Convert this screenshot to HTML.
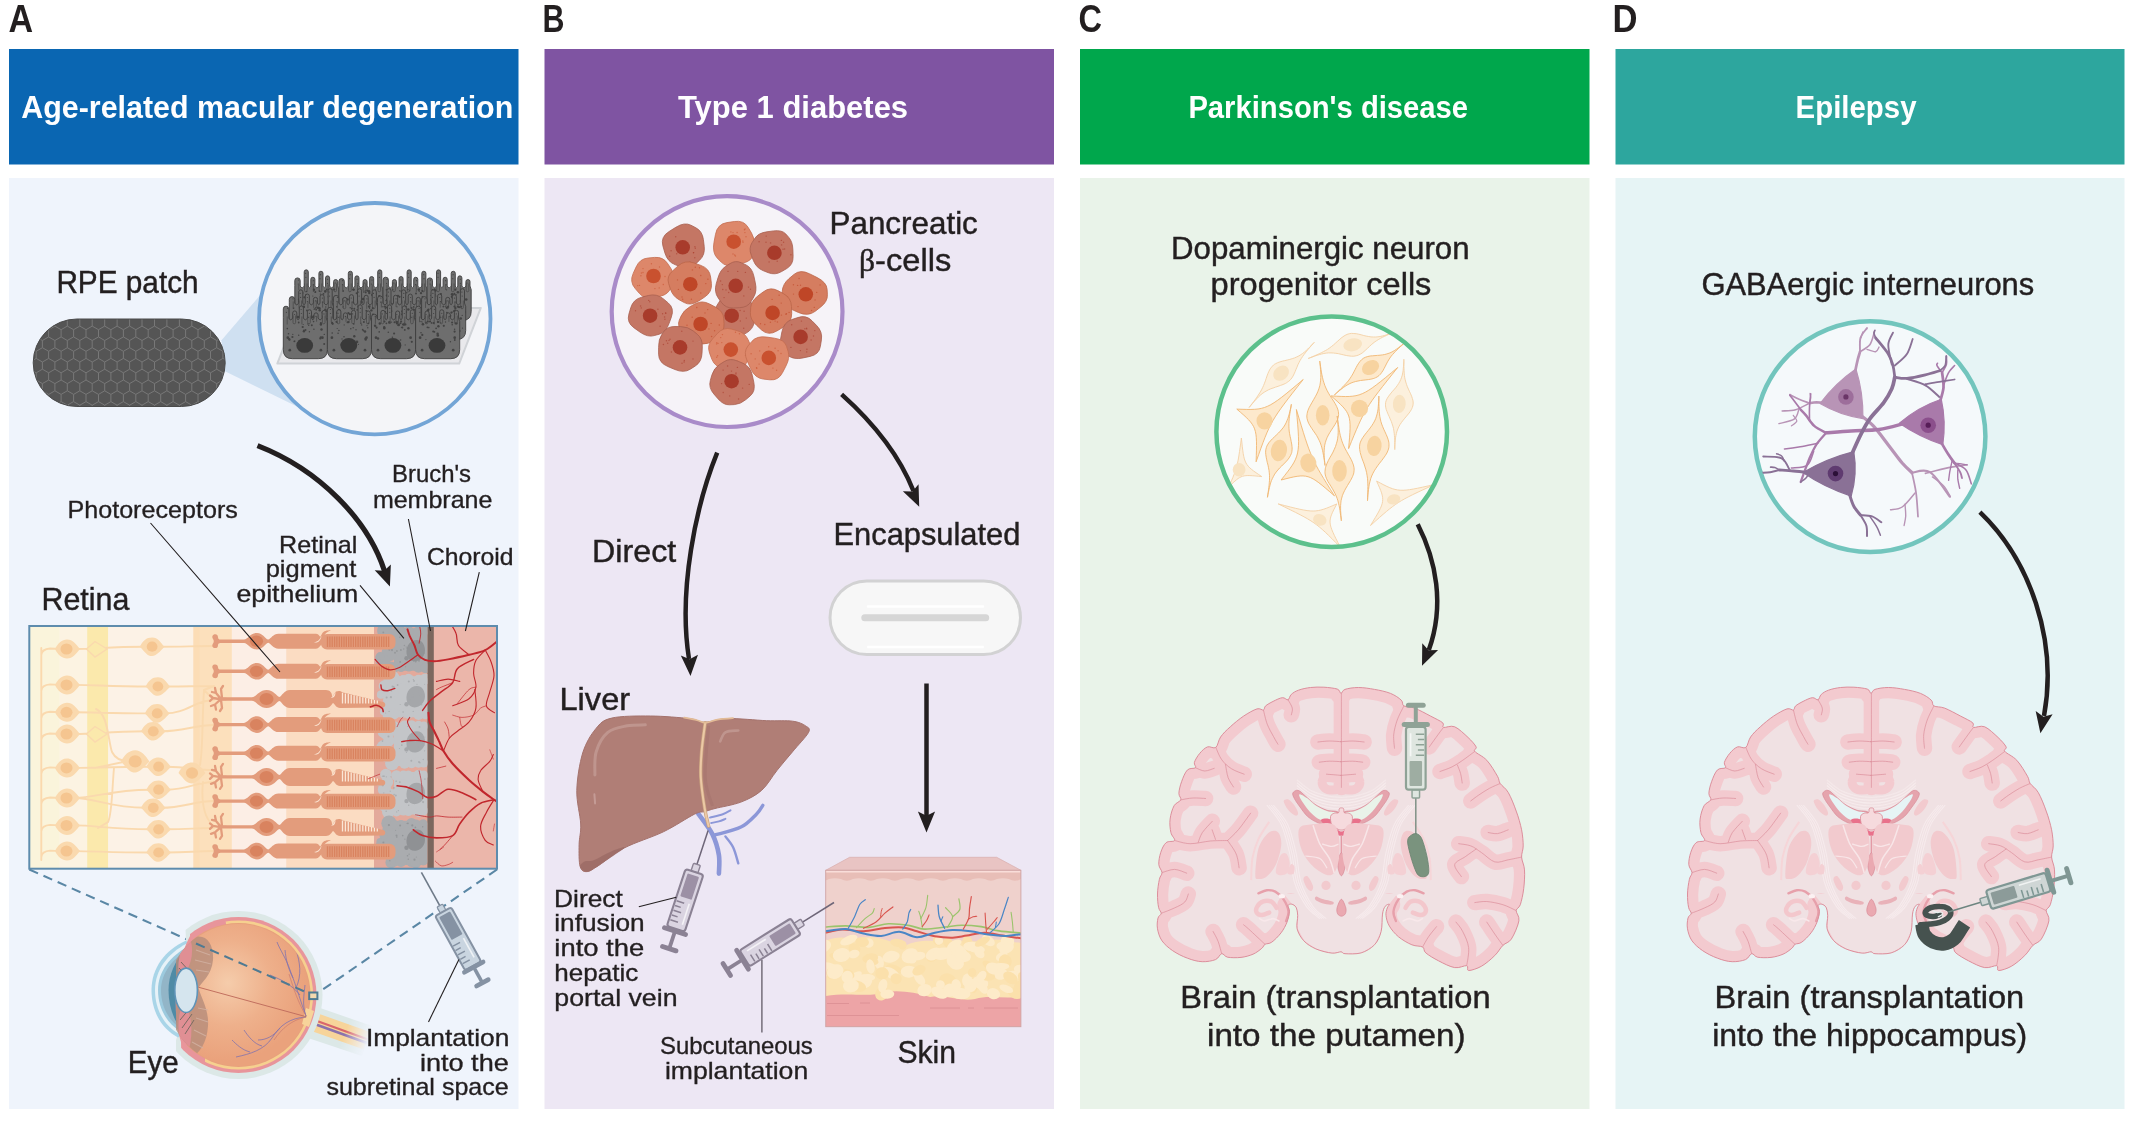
<!DOCTYPE html>
<html><head><meta charset="utf-8"><title>Cell therapy figure</title>
<style>
html,body{margin:0;padding:0;background:#fff;}
body{width:2130px;height:1122px;overflow:hidden;font-family:"Liberation Sans",sans-serif;}
svg{display:block;}
text{font-family:"Liberation Sans",sans-serif;fill:#231f20;}
.b{font-weight:bold;}
.w{fill:#fff;}
</style></head><body>
<svg width="2130" height="1122" viewBox="0 0 2130 1122">
<!-- panel backgrounds -->
<rect x="9" y="49" width="509.5" height="115.5" fill="#0a66b2"/>
<rect x="544.5" y="49" width="509.5" height="115.5" fill="#7f54a2"/>
<rect x="1080" y="49" width="509.5" height="115.5" fill="#00a74c"/>
<rect x="1615.5" y="49" width="509" height="115.5" fill="#2da69e"/>
<rect x="9" y="178" width="509.5" height="931" fill="#eff4fc"/>
<rect x="544.5" y="178" width="509.5" height="931" fill="#ede7f4"/>
<rect x="1080" y="178" width="509.5" height="931" fill="#e9f3e9"/>
<rect x="1615.5" y="178" width="509" height="931" fill="#e6f4f5"/>

<g id="a_top">
<polygon points="221.5,340.3 262,293 300,408 225,371.2" fill="#cfe0f1"/>
<defs><clipPath id="patchclip"><rect x="33.2" y="319" width="192" height="87.5" rx="43.75"/></clipPath></defs>
<rect x="33.2" y="319" width="192" height="87.5" rx="43.75" fill="#555555"/>
<path clip-path="url(#patchclip)" d="M17.5 304.5L11.3 308.1L5.1 304.5L5.1 297.3M30.0 304.5L23.8 308.1L17.5 304.5L17.5 297.3M42.4 304.5L36.2 308.1L30.0 304.5L30.0 297.3M54.9 304.5L48.7 308.1L42.4 304.5L42.4 297.3M67.3 304.5L61.1 308.1L54.9 304.5L54.9 297.3M79.8 304.5L73.6 308.1L67.3 304.5L67.3 297.3M92.2 304.5L86.0 308.1L79.8 304.5L79.8 297.3M104.7 304.5L98.5 308.1L92.2 304.5L92.2 297.3M117.1 304.5L110.9 308.1L104.7 304.5L104.7 297.3M129.6 304.5L123.4 308.1L117.1 304.5L117.1 297.3M142.0 304.5L135.8 308.1L129.6 304.5L129.6 297.3M154.5 304.5L148.2 308.1L142.0 304.5L142.0 297.3M166.9 304.5L160.7 308.1L154.5 304.5L154.5 297.3M179.4 304.5L173.1 308.1L166.9 304.5L166.9 297.3M191.8 304.5L185.6 308.1L179.4 304.5L179.4 297.3M204.3 304.5L198.0 308.1L191.8 304.5L191.8 297.3M216.7 304.5L210.5 308.1L204.3 304.5L204.3 297.3M229.2 304.5L222.9 308.1L216.7 304.5L216.7 297.3M23.8 315.3L17.5 318.9L11.3 315.3L11.3 308.1M36.2 315.3L30.0 318.9L23.8 315.3L23.8 308.1M48.7 315.3L42.4 318.9L36.2 315.3L36.2 308.1M61.1 315.3L54.9 318.9L48.6 315.3L48.6 308.1M73.5 315.3L67.3 318.9L61.1 315.3L61.1 308.1M86.0 315.3L79.8 318.9L73.6 315.3L73.6 308.1M98.5 315.3L92.2 318.9L86.0 315.3L86.0 308.1M110.9 315.3L104.7 318.9L98.5 315.3L98.5 308.1M123.4 315.3L117.1 318.9L110.9 315.3L110.9 308.1M135.8 315.3L129.6 318.9L123.4 315.3L123.4 308.1M148.2 315.3L142.0 318.9L135.8 315.3L135.8 308.1M160.7 315.3L154.5 318.9L148.2 315.3L148.2 308.1M173.1 315.3L166.9 318.9L160.7 315.3L160.7 308.1M185.6 315.3L179.4 318.9L173.1 315.3L173.1 308.1M198.0 315.3L191.8 318.9L185.6 315.3L185.6 308.1M210.5 315.3L204.3 318.9L198.0 315.3L198.0 308.1M222.9 315.3L216.7 318.9L210.5 315.3L210.5 308.1M235.4 315.3L229.2 318.9L222.9 315.3L222.9 308.1M17.5 326.1L11.3 329.7L5.1 326.1L5.1 318.9M30.0 326.1L23.8 329.7L17.5 326.1L17.5 318.9M42.4 326.1L36.2 329.7L30.0 326.1L30.0 318.9M54.9 326.1L48.7 329.7L42.4 326.1L42.4 318.9M67.3 326.1L61.1 329.7L54.9 326.1L54.9 318.9M79.8 326.1L73.6 329.7L67.3 326.1L67.3 318.9M92.2 326.1L86.0 329.7L79.8 326.1L79.8 318.9M104.7 326.1L98.5 329.7L92.2 326.1L92.2 318.9M117.1 326.1L110.9 329.7L104.7 326.1L104.7 318.9M129.6 326.1L123.4 329.7L117.1 326.1L117.1 318.9M142.0 326.1L135.8 329.7L129.6 326.1L129.6 318.9M154.5 326.1L148.2 329.7L142.0 326.1L142.0 318.9M166.9 326.1L160.7 329.7L154.5 326.1L154.5 318.9M179.4 326.1L173.1 329.7L166.9 326.1L166.9 318.9M191.8 326.1L185.6 329.7L179.4 326.1L179.4 318.9M204.3 326.1L198.0 329.7L191.8 326.1L191.8 318.9M216.7 326.1L210.5 329.7L204.3 326.1L204.3 318.9M229.2 326.1L222.9 329.7L216.7 326.1L216.7 318.9M23.8 336.9L17.5 340.5L11.3 336.9L11.3 329.7M36.2 336.9L30.0 340.5L23.8 336.9L23.8 329.7M48.7 336.9L42.4 340.5L36.2 336.9L36.2 329.7M61.1 336.9L54.9 340.5L48.6 336.9L48.6 329.7M73.5 336.9L67.3 340.5L61.1 336.9L61.1 329.7M86.0 336.9L79.8 340.5L73.6 336.9L73.6 329.7M98.5 336.9L92.2 340.5L86.0 336.9L86.0 329.7M110.9 336.9L104.7 340.5L98.5 336.9L98.5 329.7M123.4 336.9L117.1 340.5L110.9 336.9L110.9 329.7M135.8 336.9L129.6 340.5L123.4 336.9L123.4 329.7M148.2 336.9L142.0 340.5L135.8 336.9L135.8 329.7M160.7 336.9L154.5 340.5L148.2 336.9L148.2 329.7M173.1 336.9L166.9 340.5L160.7 336.9L160.7 329.7M185.6 336.9L179.4 340.5L173.1 336.9L173.1 329.7M198.0 336.9L191.8 340.5L185.6 336.9L185.6 329.7M210.5 336.9L204.3 340.5L198.0 336.9L198.0 329.7M222.9 336.9L216.7 340.5L210.5 336.9L210.5 329.7M235.4 336.9L229.2 340.5L222.9 336.9L222.9 329.7M17.5 347.7L11.3 351.3L5.1 347.7L5.1 340.5M30.0 347.7L23.8 351.3L17.5 347.7L17.5 340.5M42.4 347.7L36.2 351.3L30.0 347.7L30.0 340.5M54.9 347.7L48.7 351.3L42.4 347.7L42.4 340.5M67.3 347.7L61.1 351.3L54.9 347.7L54.9 340.5M79.8 347.7L73.6 351.3L67.3 347.7L67.3 340.5M92.2 347.7L86.0 351.3L79.8 347.7L79.8 340.5M104.7 347.7L98.5 351.3L92.2 347.7L92.2 340.5M117.1 347.7L110.9 351.3L104.7 347.7L104.7 340.5M129.6 347.7L123.4 351.3L117.1 347.7L117.1 340.5M142.0 347.7L135.8 351.3L129.6 347.7L129.6 340.5M154.5 347.7L148.2 351.3L142.0 347.7L142.0 340.5M166.9 347.7L160.7 351.3L154.5 347.7L154.5 340.5M179.4 347.7L173.1 351.3L166.9 347.7L166.9 340.5M191.8 347.7L185.6 351.3L179.4 347.7L179.4 340.5M204.3 347.7L198.0 351.3L191.8 347.7L191.8 340.5M216.7 347.7L210.5 351.3L204.3 347.7L204.3 340.5M229.2 347.7L222.9 351.3L216.7 347.7L216.7 340.5M23.8 358.4L17.5 362.0L11.3 358.4L11.3 351.3M36.2 358.4L30.0 362.0L23.8 358.4L23.8 351.3M48.7 358.4L42.4 362.0L36.2 358.4L36.2 351.3M61.1 358.4L54.9 362.0L48.6 358.4L48.6 351.3M73.5 358.4L67.3 362.0L61.1 358.4L61.1 351.3M86.0 358.4L79.8 362.0L73.6 358.4L73.6 351.3M98.5 358.4L92.2 362.0L86.0 358.4L86.0 351.3M110.9 358.4L104.7 362.0L98.5 358.4L98.5 351.3M123.4 358.4L117.1 362.0L110.9 358.4L110.9 351.3M135.8 358.4L129.6 362.0L123.4 358.4L123.4 351.3M148.2 358.4L142.0 362.0L135.8 358.4L135.8 351.3M160.7 358.4L154.5 362.0L148.2 358.4L148.2 351.3M173.1 358.4L166.9 362.0L160.7 358.4L160.7 351.3M185.6 358.4L179.4 362.0L173.1 358.4L173.1 351.3M198.0 358.4L191.8 362.0L185.6 358.4L185.6 351.3M210.5 358.4L204.3 362.0L198.0 358.4L198.0 351.3M222.9 358.4L216.7 362.0L210.5 358.4L210.5 351.3M235.4 358.4L229.2 362.0L222.9 358.4L222.9 351.3M17.5 369.2L11.3 372.8L5.1 369.2L5.1 362.0M30.0 369.2L23.8 372.8L17.5 369.2L17.5 362.0M42.4 369.2L36.2 372.8L30.0 369.2L30.0 362.0M54.9 369.2L48.7 372.8L42.4 369.2L42.4 362.0M67.3 369.2L61.1 372.8L54.9 369.2L54.9 362.0M79.8 369.2L73.6 372.8L67.3 369.2L67.3 362.0M92.2 369.2L86.0 372.8L79.8 369.2L79.8 362.0M104.7 369.2L98.5 372.8L92.2 369.2L92.2 362.0M117.1 369.2L110.9 372.8L104.7 369.2L104.7 362.0M129.6 369.2L123.4 372.8L117.1 369.2L117.1 362.0M142.0 369.2L135.8 372.8L129.6 369.2L129.6 362.0M154.5 369.2L148.2 372.8L142.0 369.2L142.0 362.0M166.9 369.2L160.7 372.8L154.5 369.2L154.5 362.0M179.4 369.2L173.1 372.8L166.9 369.2L166.9 362.0M191.8 369.2L185.6 372.8L179.4 369.2L179.4 362.0M204.3 369.2L198.0 372.8L191.8 369.2L191.8 362.0M216.7 369.2L210.5 372.8L204.3 369.2L204.3 362.0M229.2 369.2L222.9 372.8L216.7 369.2L216.7 362.0M23.8 380.0L17.5 383.6L11.3 380.0L11.3 372.8M36.2 380.0L30.0 383.6L23.8 380.0L23.8 372.8M48.7 380.0L42.4 383.6L36.2 380.0L36.2 372.8M61.1 380.0L54.9 383.6L48.6 380.0L48.6 372.8M73.5 380.0L67.3 383.6L61.1 380.0L61.1 372.8M86.0 380.0L79.8 383.6L73.6 380.0L73.6 372.8M98.5 380.0L92.2 383.6L86.0 380.0L86.0 372.8M110.9 380.0L104.7 383.6L98.5 380.0L98.5 372.8M123.4 380.0L117.1 383.6L110.9 380.0L110.9 372.8M135.8 380.0L129.6 383.6L123.4 380.0L123.4 372.8M148.2 380.0L142.0 383.6L135.8 380.0L135.8 372.8M160.7 380.0L154.5 383.6L148.2 380.0L148.2 372.8M173.1 380.0L166.9 383.6L160.7 380.0L160.7 372.8M185.6 380.0L179.4 383.6L173.1 380.0L173.1 372.8M198.0 380.0L191.8 383.6L185.6 380.0L185.6 372.8M210.5 380.0L204.3 383.6L198.0 380.0L198.0 372.8M222.9 380.0L216.7 383.6L210.5 380.0L210.5 372.8M235.4 380.0L229.2 383.6L222.9 380.0L222.9 372.8M17.5 390.8L11.3 394.4L5.1 390.8L5.1 383.6M30.0 390.8L23.8 394.4L17.5 390.8L17.5 383.6M42.4 390.8L36.2 394.4L30.0 390.8L30.0 383.6M54.9 390.8L48.7 394.4L42.4 390.8L42.4 383.6M67.3 390.8L61.1 394.4L54.9 390.8L54.9 383.6M79.8 390.8L73.6 394.4L67.3 390.8L67.3 383.6M92.2 390.8L86.0 394.4L79.8 390.8L79.8 383.6M104.7 390.8L98.5 394.4L92.2 390.8L92.2 383.6M117.1 390.8L110.9 394.4L104.7 390.8L104.7 383.6M129.6 390.8L123.4 394.4L117.1 390.8L117.1 383.6M142.0 390.8L135.8 394.4L129.6 390.8L129.6 383.6M154.5 390.8L148.2 394.4L142.0 390.8L142.0 383.6M166.9 390.8L160.7 394.4L154.5 390.8L154.5 383.6M179.4 390.8L173.1 394.4L166.9 390.8L166.9 383.6M191.8 390.8L185.6 394.4L179.4 390.8L179.4 383.6M204.3 390.8L198.0 394.4L191.8 390.8L191.8 383.6M216.7 390.8L210.5 394.4L204.3 390.8L204.3 383.6M229.2 390.8L222.9 394.4L216.7 390.8L216.7 383.6M23.8 401.6L17.5 405.2L11.3 401.6L11.3 394.4M36.2 401.6L30.0 405.2L23.8 401.6L23.8 394.4M48.7 401.6L42.4 405.2L36.2 401.6L36.2 394.4M61.1 401.6L54.9 405.2L48.6 401.6L48.6 394.4M73.5 401.6L67.3 405.2L61.1 401.6L61.1 394.4M86.0 401.6L79.8 405.2L73.6 401.6L73.6 394.4M98.5 401.6L92.2 405.2L86.0 401.6L86.0 394.4M110.9 401.6L104.7 405.2L98.5 401.6L98.5 394.4M123.4 401.6L117.1 405.2L110.9 401.6L110.9 394.4M135.8 401.6L129.6 405.2L123.4 401.6L123.4 394.4M148.2 401.6L142.0 405.2L135.8 401.6L135.8 394.4M160.7 401.6L154.5 405.2L148.2 401.6L148.2 394.4M173.1 401.6L166.9 405.2L160.7 401.6L160.7 394.4M185.6 401.6L179.4 405.2L173.1 401.6L173.1 394.4M198.0 401.6L191.8 405.2L185.6 401.6L185.6 394.4M210.5 401.6L204.3 405.2L198.0 401.6L198.0 394.4M222.9 401.6L216.7 405.2L210.5 401.6L210.5 394.4M235.4 401.6L229.2 405.2L222.9 401.6L222.9 394.4M17.5 412.4L11.3 415.9L5.1 412.4L5.1 405.2M30.0 412.4L23.8 415.9L17.5 412.4L17.5 405.2M42.4 412.4L36.2 415.9L30.0 412.4L30.0 405.2M54.9 412.4L48.7 415.9L42.4 412.4L42.4 405.2M67.3 412.4L61.1 415.9L54.9 412.4L54.9 405.2M79.8 412.4L73.6 415.9L67.3 412.4L67.3 405.2M92.2 412.4L86.0 415.9L79.8 412.4L79.8 405.2M104.7 412.4L98.5 415.9L92.2 412.4L92.2 405.2M117.1 412.4L110.9 415.9L104.7 412.4L104.7 405.2M129.6 412.4L123.4 415.9L117.1 412.4L117.1 405.2M142.0 412.4L135.8 415.9L129.6 412.4L129.6 405.2M154.5 412.4L148.2 415.9L142.0 412.4L142.0 405.2M166.9 412.4L160.7 415.9L154.5 412.4L154.5 405.2M179.4 412.4L173.1 415.9L166.9 412.4L166.9 405.2M191.8 412.4L185.6 415.9L179.4 412.4L179.4 405.2M204.3 412.4L198.0 415.9L191.8 412.4L191.8 405.2M216.7 412.4L210.5 415.9L204.3 412.4L204.3 405.2M229.2 412.4L222.9 415.9L216.7 412.4L216.7 405.2M23.8 423.1L17.5 426.7L11.3 423.1L11.3 415.9M36.2 423.1L30.0 426.7L23.8 423.1L23.8 415.9M48.7 423.1L42.4 426.7L36.2 423.1L36.2 415.9M61.1 423.1L54.9 426.7L48.6 423.1L48.6 415.9M73.5 423.1L67.3 426.7L61.1 423.1L61.1 415.9M86.0 423.1L79.8 426.7L73.6 423.1L73.6 415.9M98.5 423.1L92.2 426.7L86.0 423.1L86.0 415.9M110.9 423.1L104.7 426.7L98.5 423.1L98.5 415.9M123.4 423.1L117.1 426.7L110.9 423.1L110.9 415.9M135.8 423.1L129.6 426.7L123.4 423.1L123.4 415.9M148.2 423.1L142.0 426.7L135.8 423.1L135.8 415.9M160.7 423.1L154.5 426.7L148.2 423.1L148.2 415.9M173.1 423.1L166.9 426.7L160.7 423.1L160.7 415.9M185.6 423.1L179.4 426.7L173.1 423.1L173.1 415.9M198.0 423.1L191.8 426.7L185.6 423.1L185.6 415.9M210.5 423.1L204.3 426.7L198.0 423.1L198.0 415.9M222.9 423.1L216.7 426.7L210.5 423.1L210.5 415.9M235.4 423.1L229.2 426.7L222.9 423.1L222.9 415.9" fill="none" stroke="#787878" stroke-width="1.0"/>
<rect x="33.2" y="319" width="192" height="87.5" rx="43.75" fill="none" stroke="#4a4a4a" stroke-width="1"/>
<circle cx="374.8" cy="318.7" r="115.7" fill="#f4f5f8" stroke="#73a5d6" stroke-width="3.8"/>
<polygon points="277.3,363.6 459.2,363.6 480.8,307.9 299,307.9" fill="#e9e9ec" stroke="#d0d3d7" stroke-width="2" stroke-linejoin="round"/>
<path d="M294.8 311.5L294.8 285.5L294.8 280.6A2.6 2.6 0 0 1 300.2 280.6L300.2 286.0Q302.2 289.7 304.2 286.0L304.2 271.9A2.0 2.0 0 0 1 308.3 271.9L308.3 286.0Q309.6 289.7 310.8 286.0L310.8 279.3A2.0 2.0 0 0 1 314.9 279.3L314.9 286.0Q316.9 289.7 318.9 286.0L318.9 273.3A2.0 2.0 0 0 1 323.0 273.3L323.0 286.0Q324.2 289.7 325.5 286.0L325.5 277.9A2.0 2.0 0 0 1 329.6 277.9L329.6 286.0Q331.6 289.7 333.6 286.0L333.6 281.6A2.0 2.0 0 0 1 337.7 281.6L337.7 286.0Q338.5 288.5 338.9 289.5L338.9 311.5Q338.9 320.5 329.9 320.5L303.8 320.5Q294.8 320.5 294.8 311.5Z" fill="#6e6e6e" stroke="#3e3e3e" stroke-width="0.9" stroke-linejoin="round"/><path d="M298.7 284.5v5.4M304.5 283.5v7.0a1.3 1.3 0 0 0 2.6 0v-7.0M313.4 284.5v7.5M319.2 283.5v7.0a1.3 1.3 0 0 0 2.6 0v-7.0M328.1 284.5v7.3M333.9 283.5v7.0a1.3 1.3 0 0 0 2.6 0v-7.0" stroke="#454545" stroke-width="0.7" fill="none"/><circle cx="307.5" cy="296.2" r="0.9" fill="#424242"/><circle cx="322.6" cy="303.5" r="0.6" fill="#424242"/><circle cx="298.9" cy="304.9" r="0.9" fill="#424242"/><circle cx="326.8" cy="289.5" r="0.9" fill="#424242"/><circle cx="325.3" cy="291.4" r="1.3" fill="#424242"/><circle cx="332.1" cy="289.6" r="0.6" fill="#424242"/><circle cx="318.4" cy="308.0" r="0.8" fill="#424242"/><circle cx="306.1" cy="294.6" r="0.6" fill="#424242"/><circle cx="306.2" cy="295.0" r="0.9" fill="#424242"/><circle cx="306.7" cy="291.5" r="0.7" fill="#424242"/><circle cx="315.3" cy="292.3" r="0.6" fill="#424242"/><circle cx="329.7" cy="297.5" r="1.0" fill="#424242"/><circle cx="304.9" cy="309.7" r="1.2" fill="#424242"/><circle cx="302.4" cy="293.0" r="1.1" fill="#424242"/><circle cx="324.9" cy="307.9" r="0.9" fill="#424242"/><circle cx="329.4" cy="300.3" r="0.8" fill="#424242"/><circle cx="320.2" cy="306.3" r="1.2" fill="#424242"/><circle cx="317.1" cy="298.3" r="0.6" fill="#424242"/><circle cx="307.0" cy="303.7" r="0.9" fill="#424242"/><circle cx="304.4" cy="297.3" r="1.1" fill="#424242"/><circle cx="323.5" cy="293.8" r="0.9" fill="#424242"/><circle cx="317.2" cy="303.2" r="0.9" fill="#424242"/><circle cx="312.8" cy="296.0" r="0.6" fill="#424242"/><circle cx="299.5" cy="301.2" r="1.3" fill="#424242"/><circle cx="320.4" cy="294.1" r="0.7" fill="#424242"/><circle cx="316.9" cy="309.4" r="1.1" fill="#424242"/><circle cx="318.4" cy="305.6" r="0.7" fill="#424242"/><circle cx="317.4" cy="308.4" r="1.0" fill="#424242"/><circle cx="315.3" cy="292.0" r="1.0" fill="#424242"/><circle cx="334.3" cy="289.5" r="1.1" fill="#424242"/><circle cx="329.1" cy="306.4" r="1.1" fill="#424242"/><circle cx="328.6" cy="296.7" r="1.0" fill="#424242"/><circle cx="314.0" cy="289.7" r="1.2" fill="#424242"/><circle cx="319.5" cy="291.1" r="0.9" fill="#424242"/><circle cx="298.5" cy="280.0" r="0.6" fill="#424242"/><circle cx="298.3" cy="284.0" r="0.6" fill="#424242"/><circle cx="305.6" cy="273.3" r="0.6" fill="#424242"/><circle cx="305.9" cy="277.3" r="0.6" fill="#424242"/><circle cx="313.3" cy="280.7" r="0.6" fill="#424242"/><circle cx="313.3" cy="284.7" r="0.6" fill="#424242"/><circle cx="320.5" cy="274.7" r="0.6" fill="#424242"/><circle cx="320.0" cy="278.7" r="0.6" fill="#424242"/><circle cx="327.6" cy="279.3" r="0.6" fill="#424242"/><circle cx="327.5" cy="283.3" r="0.6" fill="#424242"/><circle cx="335.3" cy="283.0" r="0.6" fill="#424242"/><circle cx="301.3" cy="312.0" r="1.35" fill="#424242"/><circle cx="332.4" cy="312.0" r="1.35" fill="#424242"/><circle cx="299.3" cy="299.5" r="1.35" fill="#424242"/><circle cx="333.9" cy="299.5" r="1.35" fill="#424242"/>
<path d="M338.9 311.5L338.9 285.5L338.9 281.3A2.6 2.6 0 0 1 344.3 281.3L344.3 286.0Q346.3 289.7 348.3 286.0L348.3 273.3A2.0 2.0 0 0 1 352.4 273.3L352.4 286.0Q353.7 289.7 354.9 286.0L354.9 277.9A2.0 2.0 0 0 1 359.0 277.9L359.0 286.0Q361.0 289.7 363.0 286.0L363.0 281.6A2.0 2.0 0 0 1 367.1 281.6L367.1 286.0Q368.4 289.7 369.6 286.0L369.6 278.6A2.0 2.0 0 0 1 373.7 278.6L373.7 286.0Q375.7 289.7 377.7 286.0L377.7 271.9A2.0 2.0 0 0 1 381.8 271.9L381.8 286.0Q382.6 288.5 383.0 289.5L383.0 311.5Q383.0 320.5 374.0 320.5L347.9 320.5Q338.9 320.5 338.9 311.5Z" fill="#6e6e6e" stroke="#3e3e3e" stroke-width="0.9" stroke-linejoin="round"/><path d="M342.8 284.5v5.7M348.6 283.5v7.0a1.3 1.3 0 0 0 2.6 0v-7.0M357.5 284.5v6.6M363.3 283.5v7.0a1.3 1.3 0 0 0 2.6 0v-7.0M372.2 284.5v6.1M378.0 283.5v7.0a1.3 1.3 0 0 0 2.6 0v-7.0" stroke="#454545" stroke-width="0.7" fill="none"/><circle cx="364.9" cy="299.2" r="0.6" fill="#424242"/><circle cx="342.4" cy="304.9" r="0.7" fill="#424242"/><circle cx="350.8" cy="309.8" r="0.9" fill="#424242"/><circle cx="373.8" cy="295.7" r="1.0" fill="#424242"/><circle cx="347.6" cy="299.4" r="1.2" fill="#424242"/><circle cx="361.8" cy="302.2" r="1.1" fill="#424242"/><circle cx="344.3" cy="302.6" r="1.0" fill="#424242"/><circle cx="353.4" cy="289.6" r="1.2" fill="#424242"/><circle cx="359.9" cy="301.6" r="1.2" fill="#424242"/><circle cx="369.1" cy="307.4" r="0.8" fill="#424242"/><circle cx="372.4" cy="295.1" r="1.3" fill="#424242"/><circle cx="375.4" cy="290.0" r="0.7" fill="#424242"/><circle cx="350.2" cy="308.8" r="0.9" fill="#424242"/><circle cx="365.8" cy="292.5" r="0.9" fill="#424242"/><circle cx="356.6" cy="293.3" r="1.0" fill="#424242"/><circle cx="364.2" cy="306.9" r="1.1" fill="#424242"/><circle cx="377.3" cy="305.5" r="1.3" fill="#424242"/><circle cx="367.5" cy="290.6" r="1.2" fill="#424242"/><circle cx="378.7" cy="306.9" r="1.0" fill="#424242"/><circle cx="369.1" cy="291.2" r="1.2" fill="#424242"/><circle cx="363.8" cy="292.2" r="0.6" fill="#424242"/><circle cx="374.4" cy="309.6" r="0.6" fill="#424242"/><circle cx="372.4" cy="294.4" r="0.7" fill="#424242"/><circle cx="353.1" cy="302.9" r="1.2" fill="#424242"/><circle cx="343.6" cy="298.9" r="0.6" fill="#424242"/><circle cx="369.3" cy="293.0" r="1.2" fill="#424242"/><circle cx="379.3" cy="296.4" r="1.3" fill="#424242"/><circle cx="353.7" cy="289.8" r="1.0" fill="#424242"/><circle cx="343.1" cy="291.0" r="0.9" fill="#424242"/><circle cx="365.2" cy="290.5" r="0.6" fill="#424242"/><circle cx="375.0" cy="292.7" r="1.3" fill="#424242"/><circle cx="376.1" cy="293.8" r="0.9" fill="#424242"/><circle cx="361.7" cy="299.6" r="1.0" fill="#424242"/><circle cx="363.2" cy="299.0" r="1.3" fill="#424242"/><circle cx="342.6" cy="280.7" r="0.6" fill="#424242"/><circle cx="342.5" cy="284.7" r="0.6" fill="#424242"/><circle cx="350.2" cy="274.7" r="0.6" fill="#424242"/><circle cx="349.6" cy="278.7" r="0.6" fill="#424242"/><circle cx="357.0" cy="279.3" r="0.6" fill="#424242"/><circle cx="357.8" cy="283.3" r="0.6" fill="#424242"/><circle cx="364.7" cy="283.0" r="0.6" fill="#424242"/><circle cx="372.0" cy="280.0" r="0.6" fill="#424242"/><circle cx="371.4" cy="284.0" r="0.6" fill="#424242"/><circle cx="379.2" cy="273.3" r="0.6" fill="#424242"/><circle cx="379.4" cy="277.3" r="0.6" fill="#424242"/><circle cx="345.4" cy="312.0" r="1.35" fill="#424242"/><circle cx="376.5" cy="312.0" r="1.35" fill="#424242"/><circle cx="343.4" cy="299.5" r="1.35" fill="#424242"/><circle cx="378.0" cy="299.5" r="1.35" fill="#424242"/>
<path d="M383.0 311.5L383.0 285.5L383.0 279.9A2.6 2.6 0 0 1 388.4 279.9L388.4 286.0Q390.4 289.7 392.4 286.0L392.4 281.6A2.0 2.0 0 0 1 396.5 281.6L396.5 286.0Q397.8 289.7 399.0 286.0L399.0 278.6A2.0 2.0 0 0 1 403.1 278.6L403.1 286.0Q405.1 289.7 407.1 286.0L407.1 271.9A2.0 2.0 0 0 1 411.2 271.9L411.2 286.0Q412.5 289.7 413.7 286.0L413.7 279.3A2.0 2.0 0 0 1 417.8 279.3L417.8 286.0Q419.8 289.7 421.8 286.0L421.8 273.3A2.0 2.0 0 0 1 425.9 273.3L425.9 286.0Q426.7 288.5 427.1 289.5L427.1 311.5Q427.1 320.5 418.1 320.5L392.0 320.5Q383.0 320.5 383.0 311.5Z" fill="#6e6e6e" stroke="#3e3e3e" stroke-width="0.9" stroke-linejoin="round"/><path d="M386.9 284.5v6.9M392.7 283.5v7.0a1.3 1.3 0 0 0 2.6 0v-7.0M401.6 284.5v7.2M407.4 283.5v7.0a1.3 1.3 0 0 0 2.6 0v-7.0M416.3 284.5v7.4M422.1 283.5v7.0a1.3 1.3 0 0 0 2.6 0v-7.0" stroke="#454545" stroke-width="0.7" fill="none"/><circle cx="421.9" cy="302.1" r="1.2" fill="#424242"/><circle cx="387.1" cy="295.5" r="1.3" fill="#424242"/><circle cx="410.7" cy="306.8" r="0.6" fill="#424242"/><circle cx="403.9" cy="291.7" r="1.0" fill="#424242"/><circle cx="407.9" cy="289.5" r="0.7" fill="#424242"/><circle cx="396.6" cy="307.3" r="1.1" fill="#424242"/><circle cx="392.1" cy="303.7" r="0.7" fill="#424242"/><circle cx="409.5" cy="290.3" r="0.6" fill="#424242"/><circle cx="419.2" cy="291.2" r="0.7" fill="#424242"/><circle cx="423.4" cy="305.9" r="0.8" fill="#424242"/><circle cx="422.6" cy="297.1" r="1.1" fill="#424242"/><circle cx="393.8" cy="308.1" r="1.1" fill="#424242"/><circle cx="422.8" cy="306.6" r="0.8" fill="#424242"/><circle cx="399.8" cy="290.7" r="0.7" fill="#424242"/><circle cx="388.5" cy="292.5" r="1.0" fill="#424242"/><circle cx="386.1" cy="300.5" r="0.8" fill="#424242"/><circle cx="397.8" cy="304.4" r="0.9" fill="#424242"/><circle cx="398.0" cy="295.8" r="1.1" fill="#424242"/><circle cx="388.2" cy="309.2" r="0.6" fill="#424242"/><circle cx="414.6" cy="305.1" r="0.6" fill="#424242"/><circle cx="416.0" cy="293.6" r="1.0" fill="#424242"/><circle cx="386.3" cy="289.7" r="0.7" fill="#424242"/><circle cx="422.4" cy="291.0" r="1.1" fill="#424242"/><circle cx="421.4" cy="308.1" r="0.8" fill="#424242"/><circle cx="399.5" cy="296.8" r="1.1" fill="#424242"/><circle cx="390.1" cy="302.4" r="1.1" fill="#424242"/><circle cx="418.8" cy="289.6" r="1.3" fill="#424242"/><circle cx="389.5" cy="293.2" r="1.0" fill="#424242"/><circle cx="421.0" cy="293.1" r="1.2" fill="#424242"/><circle cx="406.8" cy="292.7" r="0.8" fill="#424242"/><circle cx="392.8" cy="289.8" r="0.7" fill="#424242"/><circle cx="412.3" cy="309.9" r="0.7" fill="#424242"/><circle cx="387.8" cy="309.5" r="1.0" fill="#424242"/><circle cx="401.5" cy="291.5" r="1.0" fill="#424242"/><circle cx="387.1" cy="279.3" r="0.6" fill="#424242"/><circle cx="386.6" cy="283.3" r="0.6" fill="#424242"/><circle cx="393.9" cy="283.0" r="0.6" fill="#424242"/><circle cx="400.8" cy="280.0" r="0.6" fill="#424242"/><circle cx="401.9" cy="284.0" r="0.6" fill="#424242"/><circle cx="408.2" cy="273.3" r="0.6" fill="#424242"/><circle cx="408.7" cy="277.3" r="0.6" fill="#424242"/><circle cx="416.5" cy="280.7" r="0.6" fill="#424242"/><circle cx="415.6" cy="284.7" r="0.6" fill="#424242"/><circle cx="423.7" cy="274.7" r="0.6" fill="#424242"/><circle cx="424.0" cy="278.7" r="0.6" fill="#424242"/><circle cx="389.5" cy="312.0" r="1.35" fill="#424242"/><circle cx="420.6" cy="312.0" r="1.35" fill="#424242"/><circle cx="387.5" cy="299.5" r="1.35" fill="#424242"/><circle cx="422.1" cy="299.5" r="1.35" fill="#424242"/>
<path d="M427.1 311.5L427.1 285.5L427.1 280.6A2.6 2.6 0 0 1 432.5 280.6L432.5 286.0Q434.5 289.7 436.5 286.0L436.5 271.9A2.0 2.0 0 0 1 440.6 271.9L440.6 286.0Q441.9 289.7 443.1 286.0L443.1 279.3A2.0 2.0 0 0 1 447.2 279.3L447.2 286.0Q449.2 289.7 451.2 286.0L451.2 273.3A2.0 2.0 0 0 1 455.3 273.3L455.3 286.0Q456.6 289.7 457.8 286.0L457.8 277.9A2.0 2.0 0 0 1 461.9 277.9L461.9 286.0Q463.9 289.7 465.9 286.0L465.9 281.6A2.0 2.0 0 0 1 470.0 281.6L470.0 286.0Q470.8 288.5 471.2 289.5L471.2 311.5Q471.2 320.5 462.2 320.5L436.1 320.5Q427.1 320.5 427.1 311.5Z" fill="#6e6e6e" stroke="#3e3e3e" stroke-width="0.9" stroke-linejoin="round"/><path d="M431.0 284.5v6.0M436.8 283.5v7.0a1.3 1.3 0 0 0 2.6 0v-7.0M445.7 284.5v5.5M451.5 283.5v7.0a1.3 1.3 0 0 0 2.6 0v-7.0M460.4 284.5v7.0M466.2 283.5v7.0a1.3 1.3 0 0 0 2.6 0v-7.0" stroke="#454545" stroke-width="0.7" fill="none"/><circle cx="432.9" cy="297.0" r="0.8" fill="#424242"/><circle cx="432.3" cy="296.4" r="0.6" fill="#424242"/><circle cx="446.6" cy="289.8" r="0.6" fill="#424242"/><circle cx="446.3" cy="304.6" r="0.6" fill="#424242"/><circle cx="438.6" cy="299.2" r="1.3" fill="#424242"/><circle cx="452.1" cy="294.2" r="1.3" fill="#424242"/><circle cx="431.9" cy="305.5" r="0.8" fill="#424242"/><circle cx="435.6" cy="290.2" r="0.8" fill="#424242"/><circle cx="461.2" cy="290.8" r="1.0" fill="#424242"/><circle cx="454.4" cy="293.7" r="1.0" fill="#424242"/><circle cx="432.5" cy="289.7" r="0.7" fill="#424242"/><circle cx="456.0" cy="294.8" r="0.8" fill="#424242"/><circle cx="452.4" cy="295.3" r="0.8" fill="#424242"/><circle cx="460.4" cy="301.0" r="0.7" fill="#424242"/><circle cx="452.0" cy="296.8" r="1.2" fill="#424242"/><circle cx="457.9" cy="292.3" r="1.3" fill="#424242"/><circle cx="434.6" cy="294.6" r="1.1" fill="#424242"/><circle cx="435.9" cy="296.0" r="0.6" fill="#424242"/><circle cx="455.6" cy="302.8" r="1.0" fill="#424242"/><circle cx="463.5" cy="292.7" r="1.1" fill="#424242"/><circle cx="452.7" cy="298.1" r="0.9" fill="#424242"/><circle cx="462.1" cy="308.2" r="0.9" fill="#424242"/><circle cx="455.4" cy="289.7" r="1.1" fill="#424242"/><circle cx="454.8" cy="309.7" r="1.2" fill="#424242"/><circle cx="440.9" cy="294.0" r="1.1" fill="#424242"/><circle cx="431.0" cy="295.4" r="0.7" fill="#424242"/><circle cx="434.6" cy="289.7" r="1.1" fill="#424242"/><circle cx="435.0" cy="291.7" r="0.8" fill="#424242"/><circle cx="463.3" cy="289.9" r="0.9" fill="#424242"/><circle cx="451.0" cy="306.3" r="1.2" fill="#424242"/><circle cx="463.0" cy="292.1" r="0.9" fill="#424242"/><circle cx="443.8" cy="306.3" r="1.3" fill="#424242"/><circle cx="435.9" cy="290.8" r="0.7" fill="#424242"/><circle cx="439.0" cy="295.9" r="1.0" fill="#424242"/><circle cx="430.5" cy="280.0" r="0.6" fill="#424242"/><circle cx="430.2" cy="284.0" r="0.6" fill="#424242"/><circle cx="438.0" cy="273.3" r="0.6" fill="#424242"/><circle cx="438.0" cy="277.3" r="0.6" fill="#424242"/><circle cx="445.6" cy="280.7" r="0.6" fill="#424242"/><circle cx="446.0" cy="284.7" r="0.6" fill="#424242"/><circle cx="453.1" cy="274.7" r="0.6" fill="#424242"/><circle cx="452.8" cy="278.7" r="0.6" fill="#424242"/><circle cx="460.3" cy="279.3" r="0.6" fill="#424242"/><circle cx="460.4" cy="283.3" r="0.6" fill="#424242"/><circle cx="467.0" cy="283.0" r="0.6" fill="#424242"/><circle cx="433.6" cy="312.0" r="1.35" fill="#424242"/><circle cx="464.7" cy="312.0" r="1.35" fill="#424242"/><circle cx="431.6" cy="299.5" r="1.35" fill="#424242"/><circle cx="466.2" cy="299.5" r="1.35" fill="#424242"/>
<path d="M289.3 330.5L289.3 302.5L289.3 299.3A2.6 2.6 0 0 1 294.7 299.3L294.7 303.0Q296.7 306.7 298.7 303.0L298.7 291.9A2.0 2.0 0 0 1 302.8 291.9L302.8 303.0Q304.1 306.7 305.3 303.0L305.3 296.1A2.0 2.0 0 0 1 309.4 296.1L309.4 303.0Q311.4 306.7 313.4 303.0L313.4 299.4A2.0 2.0 0 0 1 317.5 299.4L317.5 303.0Q318.8 306.7 320.0 303.0L320.0 296.7A2.0 2.0 0 0 1 324.1 296.7L324.1 303.0Q326.1 306.7 328.1 303.0L328.1 290.7A2.0 2.0 0 0 1 332.2 290.7L332.2 303.0Q333.0 305.5 333.4 306.5L333.4 330.5Q333.4 339.5 324.4 339.5L298.3 339.5Q289.3 339.5 289.3 330.5Z" fill="#6e6e6e" stroke="#3e3e3e" stroke-width="0.9" stroke-linejoin="round"/><path d="M293.2 301.5v5.7M299.0 300.5v7.0a1.3 1.3 0 0 0 2.6 0v-7.0M307.9 301.5v6.6M313.7 300.5v7.0a1.3 1.3 0 0 0 2.6 0v-7.0M322.6 301.5v6.1M328.4 300.5v7.0a1.3 1.3 0 0 0 2.6 0v-7.0" stroke="#454545" stroke-width="0.7" fill="none"/><circle cx="315.3" cy="316.7" r="0.6" fill="#424242"/><circle cx="292.8" cy="322.8" r="0.7" fill="#424242"/><circle cx="301.2" cy="328.0" r="0.9" fill="#424242"/><circle cx="324.2" cy="313.1" r="1.0" fill="#424242"/><circle cx="298.0" cy="317.0" r="1.2" fill="#424242"/><circle cx="312.2" cy="319.9" r="1.1" fill="#424242"/><circle cx="294.7" cy="320.4" r="1.0" fill="#424242"/><circle cx="303.8" cy="306.6" r="1.2" fill="#424242"/><circle cx="310.3" cy="319.3" r="1.2" fill="#424242"/><circle cx="319.5" cy="325.5" r="0.8" fill="#424242"/><circle cx="322.8" cy="312.4" r="1.3" fill="#424242"/><circle cx="325.8" cy="307.0" r="0.7" fill="#424242"/><circle cx="300.6" cy="327.0" r="0.9" fill="#424242"/><circle cx="316.2" cy="309.7" r="0.9" fill="#424242"/><circle cx="307.0" cy="310.6" r="1.0" fill="#424242"/><circle cx="314.6" cy="325.0" r="1.1" fill="#424242"/><circle cx="327.7" cy="323.4" r="1.3" fill="#424242"/><circle cx="317.9" cy="307.7" r="1.2" fill="#424242"/><circle cx="329.1" cy="325.0" r="1.0" fill="#424242"/><circle cx="319.5" cy="308.3" r="1.2" fill="#424242"/><circle cx="314.2" cy="309.4" r="0.6" fill="#424242"/><circle cx="324.8" cy="327.8" r="0.6" fill="#424242"/><circle cx="322.8" cy="311.7" r="0.7" fill="#424242"/><circle cx="303.5" cy="320.7" r="1.2" fill="#424242"/><circle cx="294.0" cy="316.5" r="0.6" fill="#424242"/><circle cx="319.7" cy="310.2" r="1.2" fill="#424242"/><circle cx="329.7" cy="313.8" r="1.3" fill="#424242"/><circle cx="304.1" cy="306.9" r="1.0" fill="#424242"/><circle cx="293.5" cy="308.1" r="0.9" fill="#424242"/><circle cx="315.6" cy="307.6" r="0.6" fill="#424242"/><circle cx="325.4" cy="309.9" r="1.3" fill="#424242"/><circle cx="326.5" cy="311.1" r="0.9" fill="#424242"/><circle cx="312.1" cy="317.2" r="1.0" fill="#424242"/><circle cx="313.6" cy="316.6" r="1.3" fill="#424242"/><circle cx="293.0" cy="298.8" r="0.6" fill="#424242"/><circle cx="300.2" cy="293.4" r="0.6" fill="#424242"/><circle cx="300.6" cy="297.4" r="0.6" fill="#424242"/><circle cx="307.4" cy="297.5" r="0.6" fill="#424242"/><circle cx="307.4" cy="301.5" r="0.6" fill="#424242"/><circle cx="315.6" cy="300.8" r="0.6" fill="#424242"/><circle cx="322.4" cy="298.1" r="0.6" fill="#424242"/><circle cx="322.4" cy="302.1" r="0.6" fill="#424242"/><circle cx="329.1" cy="292.1" r="0.6" fill="#424242"/><circle cx="329.6" cy="296.1" r="0.6" fill="#424242"/><circle cx="295.8" cy="331.0" r="1.35" fill="#424242"/><circle cx="326.9" cy="331.0" r="1.35" fill="#424242"/><circle cx="293.8" cy="318.5" r="1.35" fill="#424242"/><circle cx="328.4" cy="318.5" r="1.35" fill="#424242"/>
<path d="M333.4 330.5L333.4 302.5L333.4 298.1A2.6 2.6 0 0 1 338.8 298.1L338.8 303.0Q340.8 306.7 342.8 303.0L342.8 299.4A2.0 2.0 0 0 1 346.9 299.4L346.9 303.0Q348.2 306.7 349.4 303.0L349.4 296.7A2.0 2.0 0 0 1 353.5 296.7L353.5 303.0Q355.5 306.7 357.5 303.0L357.5 290.7A2.0 2.0 0 0 1 361.6 290.7L361.6 303.0Q362.9 306.7 364.1 303.0L364.1 297.3A2.0 2.0 0 0 1 368.2 297.3L368.2 303.0Q370.2 306.7 372.2 303.0L372.2 291.9A2.0 2.0 0 0 1 376.3 291.9L376.3 303.0Q377.1 305.5 377.5 306.5L377.5 330.5Q377.5 339.5 368.5 339.5L342.4 339.5Q333.4 339.5 333.4 330.5Z" fill="#6e6e6e" stroke="#3e3e3e" stroke-width="0.9" stroke-linejoin="round"/><path d="M337.3 301.5v6.9M343.1 300.5v7.0a1.3 1.3 0 0 0 2.6 0v-7.0M352.0 301.5v7.2M357.8 300.5v7.0a1.3 1.3 0 0 0 2.6 0v-7.0M366.7 301.5v7.4M372.5 300.5v7.0a1.3 1.3 0 0 0 2.6 0v-7.0" stroke="#454545" stroke-width="0.7" fill="none"/><circle cx="372.3" cy="319.9" r="1.2" fill="#424242"/><circle cx="337.5" cy="312.9" r="1.3" fill="#424242"/><circle cx="361.1" cy="324.9" r="0.6" fill="#424242"/><circle cx="354.3" cy="308.8" r="1.0" fill="#424242"/><circle cx="358.3" cy="306.5" r="0.7" fill="#424242"/><circle cx="347.0" cy="325.4" r="1.1" fill="#424242"/><circle cx="342.5" cy="321.6" r="0.7" fill="#424242"/><circle cx="359.9" cy="307.3" r="0.6" fill="#424242"/><circle cx="369.6" cy="308.3" r="0.7" fill="#424242"/><circle cx="373.8" cy="323.9" r="0.8" fill="#424242"/><circle cx="373.0" cy="314.6" r="1.1" fill="#424242"/><circle cx="344.2" cy="326.2" r="1.1" fill="#424242"/><circle cx="373.2" cy="324.6" r="0.8" fill="#424242"/><circle cx="350.2" cy="307.7" r="0.7" fill="#424242"/><circle cx="338.9" cy="309.7" r="1.0" fill="#424242"/><circle cx="336.5" cy="318.2" r="0.8" fill="#424242"/><circle cx="348.2" cy="322.3" r="0.9" fill="#424242"/><circle cx="348.4" cy="313.2" r="1.1" fill="#424242"/><circle cx="338.6" cy="327.3" r="0.6" fill="#424242"/><circle cx="365.0" cy="323.1" r="0.6" fill="#424242"/><circle cx="366.4" cy="310.8" r="1.0" fill="#424242"/><circle cx="336.7" cy="306.7" r="0.7" fill="#424242"/><circle cx="372.8" cy="308.1" r="1.1" fill="#424242"/><circle cx="371.8" cy="326.2" r="0.8" fill="#424242"/><circle cx="349.9" cy="314.2" r="1.1" fill="#424242"/><circle cx="340.5" cy="320.1" r="1.1" fill="#424242"/><circle cx="369.2" cy="306.6" r="1.3" fill="#424242"/><circle cx="339.9" cy="310.4" r="1.0" fill="#424242"/><circle cx="371.4" cy="310.4" r="1.2" fill="#424242"/><circle cx="357.2" cy="309.9" r="0.8" fill="#424242"/><circle cx="343.2" cy="306.9" r="0.7" fill="#424242"/><circle cx="362.7" cy="328.1" r="0.7" fill="#424242"/><circle cx="338.2" cy="327.7" r="1.0" fill="#424242"/><circle cx="351.9" cy="308.7" r="1.0" fill="#424242"/><circle cx="337.5" cy="297.5" r="0.6" fill="#424242"/><circle cx="337.0" cy="301.5" r="0.6" fill="#424242"/><circle cx="344.3" cy="300.8" r="0.6" fill="#424242"/><circle cx="351.2" cy="298.1" r="0.6" fill="#424242"/><circle cx="352.3" cy="302.1" r="0.6" fill="#424242"/><circle cx="358.6" cy="292.1" r="0.6" fill="#424242"/><circle cx="359.1" cy="296.1" r="0.6" fill="#424242"/><circle cx="366.9" cy="298.8" r="0.6" fill="#424242"/><circle cx="373.4" cy="293.4" r="0.6" fill="#424242"/><circle cx="374.1" cy="297.4" r="0.6" fill="#424242"/><circle cx="339.9" cy="331.0" r="1.35" fill="#424242"/><circle cx="371.0" cy="331.0" r="1.35" fill="#424242"/><circle cx="337.9" cy="318.5" r="1.35" fill="#424242"/><circle cx="372.5" cy="318.5" r="1.35" fill="#424242"/>
<path d="M377.5 330.5L377.5 302.5L377.5 298.7A2.6 2.6 0 0 1 382.9 298.7L382.9 303.0Q384.9 306.7 386.9 303.0L386.9 290.7A2.0 2.0 0 0 1 391.0 290.7L391.0 303.0Q392.2 306.7 393.5 303.0L393.5 297.3A2.0 2.0 0 0 1 397.6 297.3L397.6 303.0Q399.6 306.7 401.6 303.0L401.6 291.9A2.0 2.0 0 0 1 405.7 291.9L405.7 303.0Q407.0 306.7 408.2 303.0L408.2 296.1A2.0 2.0 0 0 1 412.3 296.1L412.3 303.0Q414.3 306.7 416.3 303.0L416.3 299.4A2.0 2.0 0 0 1 420.4 299.4L420.4 303.0Q421.2 305.5 421.6 306.5L421.6 330.5Q421.6 339.5 412.6 339.5L386.5 339.5Q377.5 339.5 377.5 330.5Z" fill="#6e6e6e" stroke="#3e3e3e" stroke-width="0.9" stroke-linejoin="round"/><path d="M381.4 301.5v6.0M387.2 300.5v7.0a1.3 1.3 0 0 0 2.6 0v-7.0M396.1 301.5v5.5M401.9 300.5v7.0a1.3 1.3 0 0 0 2.6 0v-7.0M410.8 301.5v7.0M416.6 300.5v7.0a1.3 1.3 0 0 0 2.6 0v-7.0" stroke="#454545" stroke-width="0.7" fill="none"/><circle cx="383.3" cy="314.5" r="0.8" fill="#424242"/><circle cx="382.7" cy="313.8" r="0.6" fill="#424242"/><circle cx="397.0" cy="306.8" r="0.6" fill="#424242"/><circle cx="396.7" cy="322.5" r="0.6" fill="#424242"/><circle cx="389.0" cy="316.8" r="1.3" fill="#424242"/><circle cx="402.5" cy="311.4" r="1.3" fill="#424242"/><circle cx="382.3" cy="323.5" r="0.8" fill="#424242"/><circle cx="386.0" cy="307.2" r="0.8" fill="#424242"/><circle cx="411.6" cy="307.9" r="1.0" fill="#424242"/><circle cx="404.8" cy="311.0" r="1.0" fill="#424242"/><circle cx="382.9" cy="306.7" r="0.7" fill="#424242"/><circle cx="406.4" cy="312.1" r="0.8" fill="#424242"/><circle cx="402.8" cy="312.6" r="0.8" fill="#424242"/><circle cx="410.8" cy="318.7" r="0.7" fill="#424242"/><circle cx="402.4" cy="314.2" r="1.2" fill="#424242"/><circle cx="408.3" cy="309.5" r="1.3" fill="#424242"/><circle cx="385.0" cy="311.9" r="1.1" fill="#424242"/><circle cx="386.3" cy="313.4" r="0.6" fill="#424242"/><circle cx="406.0" cy="320.6" r="1.0" fill="#424242"/><circle cx="413.9" cy="309.9" r="1.1" fill="#424242"/><circle cx="403.1" cy="315.6" r="0.9" fill="#424242"/><circle cx="412.5" cy="326.3" r="0.9" fill="#424242"/><circle cx="405.8" cy="306.7" r="1.1" fill="#424242"/><circle cx="405.2" cy="328.0" r="1.2" fill="#424242"/><circle cx="391.3" cy="311.2" r="1.1" fill="#424242"/><circle cx="381.4" cy="312.8" r="0.7" fill="#424242"/><circle cx="385.0" cy="306.7" r="1.1" fill="#424242"/><circle cx="385.4" cy="308.8" r="0.8" fill="#424242"/><circle cx="413.7" cy="306.9" r="0.9" fill="#424242"/><circle cx="401.4" cy="324.3" r="1.2" fill="#424242"/><circle cx="413.4" cy="309.3" r="0.9" fill="#424242"/><circle cx="394.2" cy="324.3" r="1.3" fill="#424242"/><circle cx="386.3" cy="307.8" r="0.7" fill="#424242"/><circle cx="389.4" cy="313.3" r="1.0" fill="#424242"/><circle cx="380.9" cy="298.1" r="0.6" fill="#424242"/><circle cx="380.6" cy="302.1" r="0.6" fill="#424242"/><circle cx="388.4" cy="292.1" r="0.6" fill="#424242"/><circle cx="388.4" cy="296.1" r="0.6" fill="#424242"/><circle cx="396.0" cy="298.8" r="0.6" fill="#424242"/><circle cx="403.8" cy="293.4" r="0.6" fill="#424242"/><circle cx="403.5" cy="297.4" r="0.6" fill="#424242"/><circle cx="410.6" cy="297.5" r="0.6" fill="#424242"/><circle cx="410.7" cy="301.5" r="0.6" fill="#424242"/><circle cx="418.1" cy="300.8" r="0.6" fill="#424242"/><circle cx="384.0" cy="331.0" r="1.35" fill="#424242"/><circle cx="415.1" cy="331.0" r="1.35" fill="#424242"/><circle cx="382.0" cy="318.5" r="1.35" fill="#424242"/><circle cx="416.6" cy="318.5" r="1.35" fill="#424242"/>
<path d="M421.6 330.5L421.6 302.5L421.6 299.3A2.6 2.6 0 0 1 427.0 299.3L427.0 303.0Q429.0 306.7 431.0 303.0L431.0 291.9A2.0 2.0 0 0 1 435.1 291.9L435.1 303.0Q436.4 306.7 437.6 303.0L437.6 296.1A2.0 2.0 0 0 1 441.7 296.1L441.7 303.0Q443.7 306.7 445.7 303.0L445.7 299.4A2.0 2.0 0 0 1 449.8 299.4L449.8 303.0Q451.1 306.7 452.3 303.0L452.3 296.7A2.0 2.0 0 0 1 456.4 296.7L456.4 303.0Q458.4 306.7 460.4 303.0L460.4 290.7A2.0 2.0 0 0 1 464.5 290.7L464.5 303.0Q465.3 305.5 465.7 306.5L465.7 330.5Q465.7 339.5 456.7 339.5L430.6 339.5Q421.6 339.5 421.6 330.5Z" fill="#6e6e6e" stroke="#3e3e3e" stroke-width="0.9" stroke-linejoin="round"/><path d="M425.5 301.5v6.4M431.3 300.5v7.0a1.3 1.3 0 0 0 2.6 0v-7.0M440.2 301.5v6.1M446.0 300.5v7.0a1.3 1.3 0 0 0 2.6 0v-7.0M454.9 301.5v5.4M460.7 300.5v7.0a1.3 1.3 0 0 0 2.6 0v-7.0" stroke="#454545" stroke-width="0.7" fill="none"/><circle cx="457.6" cy="306.5" r="0.9" fill="#424242"/><circle cx="458.8" cy="306.9" r="1.0" fill="#424242"/><circle cx="448.1" cy="306.6" r="0.8" fill="#424242"/><circle cx="451.4" cy="312.6" r="1.1" fill="#424242"/><circle cx="430.6" cy="308.7" r="0.6" fill="#424242"/><circle cx="443.9" cy="325.6" r="1.0" fill="#424242"/><circle cx="454.1" cy="311.2" r="1.1" fill="#424242"/><circle cx="428.5" cy="309.5" r="1.1" fill="#424242"/><circle cx="452.2" cy="312.0" r="0.6" fill="#424242"/><circle cx="434.8" cy="308.3" r="0.8" fill="#424242"/><circle cx="455.4" cy="308.1" r="1.2" fill="#424242"/><circle cx="458.1" cy="306.7" r="0.8" fill="#424242"/><circle cx="443.3" cy="306.6" r="0.9" fill="#424242"/><circle cx="459.1" cy="307.2" r="1.0" fill="#424242"/><circle cx="429.2" cy="315.5" r="1.2" fill="#424242"/><circle cx="432.3" cy="306.5" r="0.6" fill="#424242"/><circle cx="445.2" cy="306.5" r="0.6" fill="#424242"/><circle cx="443.5" cy="325.5" r="0.9" fill="#424242"/><circle cx="439.8" cy="317.1" r="0.6" fill="#424242"/><circle cx="446.7" cy="307.8" r="1.0" fill="#424242"/><circle cx="461.1" cy="306.7" r="1.0" fill="#424242"/><circle cx="447.7" cy="307.5" r="0.8" fill="#424242"/><circle cx="462.5" cy="328.1" r="0.6" fill="#424242"/><circle cx="451.5" cy="326.5" r="0.7" fill="#424242"/><circle cx="447.9" cy="306.6" r="0.8" fill="#424242"/><circle cx="450.3" cy="315.8" r="1.1" fill="#424242"/><circle cx="427.9" cy="310.5" r="1.2" fill="#424242"/><circle cx="446.9" cy="312.6" r="0.9" fill="#424242"/><circle cx="462.2" cy="315.4" r="0.6" fill="#424242"/><circle cx="455.1" cy="310.2" r="0.9" fill="#424242"/><circle cx="432.7" cy="312.4" r="0.8" fill="#424242"/><circle cx="428.0" cy="316.8" r="0.6" fill="#424242"/><circle cx="454.5" cy="306.6" r="1.1" fill="#424242"/><circle cx="455.4" cy="313.6" r="1.1" fill="#424242"/><circle cx="425.0" cy="298.8" r="0.6" fill="#424242"/><circle cx="432.9" cy="293.4" r="0.6" fill="#424242"/><circle cx="432.5" cy="297.4" r="0.6" fill="#424242"/><circle cx="439.7" cy="297.5" r="0.6" fill="#424242"/><circle cx="440.5" cy="301.5" r="0.6" fill="#424242"/><circle cx="447.2" cy="300.8" r="0.6" fill="#424242"/><circle cx="454.5" cy="298.1" r="0.6" fill="#424242"/><circle cx="455.1" cy="302.1" r="0.6" fill="#424242"/><circle cx="461.9" cy="292.1" r="0.6" fill="#424242"/><circle cx="462.2" cy="296.1" r="0.6" fill="#424242"/><circle cx="428.1" cy="331.0" r="1.35" fill="#424242"/><circle cx="459.2" cy="331.0" r="1.35" fill="#424242"/><circle cx="426.1" cy="318.5" r="1.35" fill="#424242"/><circle cx="460.7" cy="318.5" r="1.35" fill="#424242"/>
<path d="M283.3 349.7L283.3 317.5L283.3 308.9A2.6 2.6 0 0 1 288.7 308.9L288.7 318.0Q290.7 321.7 292.7 318.0L292.7 313.0A2.0 2.0 0 0 1 296.8 313.0L296.8 318.0Q298.1 321.7 299.3 318.0L299.3 308.0A2.0 2.0 0 0 1 303.4 308.0L303.4 318.0Q305.4 321.7 307.4 318.0L307.4 311.8A2.0 2.0 0 0 1 311.5 311.8L311.5 318.0Q312.8 321.7 314.0 318.0L314.0 314.9A2.0 2.0 0 0 1 318.1 314.9L318.1 318.0Q320.1 321.7 322.1 318.0L322.1 312.4A2.0 2.0 0 0 1 326.2 312.4L326.2 318.0Q327.0 320.5 327.4 321.5L327.4 349.7Q327.4 358.7 318.4 358.7L292.3 358.7Q283.3 358.7 283.3 349.7Z" fill="#6e6e6e" stroke="#3e3e3e" stroke-width="0.9" stroke-linejoin="round"/><path d="M287.2 316.5v7.9M293.0 315.5v7.0a1.3 1.3 0 0 0 2.6 0v-7.0M301.9 316.5v7.8M307.7 315.5v7.0a1.3 1.3 0 0 0 2.6 0v-7.0M316.6 316.5v5.2M322.4 315.5v7.0a1.3 1.3 0 0 0 2.6 0v-7.0" stroke="#454545" stroke-width="0.7" fill="none"/><circle cx="289.5" cy="339.7" r="1.1" fill="#424242"/><circle cx="311.8" cy="325.2" r="1.0" fill="#424242"/><circle cx="309.4" cy="331.7" r="0.7" fill="#424242"/><circle cx="302.7" cy="327.0" r="1.1" fill="#424242"/><circle cx="324.2" cy="343.9" r="1.0" fill="#424242"/><circle cx="303.2" cy="324.5" r="0.6" fill="#424242"/><circle cx="287.3" cy="328.6" r="0.8" fill="#424242"/><circle cx="300.8" cy="341.7" r="0.9" fill="#424242"/><circle cx="307.7" cy="323.9" r="0.6" fill="#424242"/><circle cx="298.7" cy="322.5" r="0.9" fill="#424242"/><circle cx="324.3" cy="334.4" r="0.7" fill="#424242"/><circle cx="320.3" cy="338.4" r="1.1" fill="#424242"/><circle cx="320.8" cy="337.3" r="1.1" fill="#424242"/><circle cx="299.8" cy="345.1" r="1.3" fill="#424242"/><circle cx="292.4" cy="337.0" r="1.1" fill="#424242"/><circle cx="303.9" cy="330.3" r="0.9" fill="#424242"/><circle cx="321.5" cy="329.5" r="1.2" fill="#424242"/><circle cx="299.8" cy="341.4" r="1.2" fill="#424242"/><circle cx="303.9" cy="331.3" r="1.2" fill="#424242"/><circle cx="313.9" cy="329.2" r="0.7" fill="#424242"/><circle cx="298.7" cy="335.2" r="0.7" fill="#424242"/><circle cx="320.9" cy="324.5" r="1.2" fill="#424242"/><circle cx="298.1" cy="344.2" r="1.1" fill="#424242"/><circle cx="305.5" cy="330.0" r="1.0" fill="#424242"/><circle cx="308.7" cy="325.3" r="0.7" fill="#424242"/><circle cx="305.8" cy="343.3" r="1.0" fill="#424242"/><circle cx="289.2" cy="339.2" r="1.1" fill="#424242"/><circle cx="320.9" cy="323.2" r="1.1" fill="#424242"/><circle cx="288.5" cy="333.8" r="0.8" fill="#424242"/><circle cx="294.9" cy="341.1" r="0.6" fill="#424242"/><circle cx="306.2" cy="340.4" r="0.7" fill="#424242"/><circle cx="294.3" cy="341.3" r="0.9" fill="#424242"/><circle cx="313.6" cy="321.6" r="0.8" fill="#424242"/><circle cx="292.8" cy="334.4" r="0.6" fill="#424242"/><circle cx="287.5" cy="308.3" r="0.6" fill="#424242"/><circle cx="286.4" cy="312.3" r="0.6" fill="#424242"/><circle cx="294.6" cy="314.5" r="0.6" fill="#424242"/><circle cx="301.1" cy="309.5" r="0.6" fill="#424242"/><circle cx="301.4" cy="313.5" r="0.6" fill="#424242"/><circle cx="309.4" cy="313.3" r="0.6" fill="#424242"/><circle cx="308.6" cy="317.3" r="0.6" fill="#424242"/><circle cx="316.0" cy="316.4" r="0.6" fill="#424242"/><circle cx="324.0" cy="313.9" r="0.6" fill="#424242"/><circle cx="289.8" cy="350.2" r="1.35" fill="#424242"/><circle cx="320.9" cy="350.2" r="1.35" fill="#424242"/><circle cx="287.8" cy="337.7" r="1.35" fill="#424242"/><circle cx="322.4" cy="337.7" r="1.35" fill="#424242"/><ellipse cx="304.7" cy="345.4" rx="8.4" ry="7.4" fill="#3a3a3a"/>
<path d="M327.4 349.7L327.4 317.5L327.4 310.0A2.6 2.6 0 0 1 332.8 310.0L332.8 318.0Q334.8 321.7 336.8 318.0L336.8 311.8A2.0 2.0 0 0 1 340.9 311.8L340.9 318.0Q342.2 321.7 343.4 318.0L343.4 314.9A2.0 2.0 0 0 1 347.5 314.9L347.5 318.0Q349.5 321.7 351.5 318.0L351.5 312.4A2.0 2.0 0 0 1 355.6 312.4L355.6 318.0Q356.9 321.7 358.1 318.0L358.1 306.9A2.0 2.0 0 0 1 362.2 306.9L362.2 318.0Q364.2 321.7 366.2 318.0L366.2 313.0A2.0 2.0 0 0 1 370.3 313.0L370.3 318.0Q371.1 320.5 371.5 321.5L371.5 349.7Q371.5 358.7 362.5 358.7L336.4 358.7Q327.4 358.7 327.4 349.7Z" fill="#6e6e6e" stroke="#3e3e3e" stroke-width="0.9" stroke-linejoin="round"/><path d="M331.3 316.5v5.7M337.1 315.5v7.0a1.3 1.3 0 0 0 2.6 0v-7.0M346.0 316.5v5.3M351.8 315.5v7.0a1.3 1.3 0 0 0 2.6 0v-7.0M360.7 316.5v6.2M366.5 315.5v7.0a1.3 1.3 0 0 0 2.6 0v-7.0" stroke="#454545" stroke-width="0.7" fill="none"/><circle cx="336.3" cy="321.8" r="0.9" fill="#424242"/><circle cx="365.4" cy="338.5" r="1.1" fill="#424242"/><circle cx="338.9" cy="330.5" r="0.8" fill="#424242"/><circle cx="337.0" cy="322.2" r="0.7" fill="#424242"/><circle cx="365.7" cy="339.5" r="1.2" fill="#424242"/><circle cx="360.9" cy="323.3" r="0.8" fill="#424242"/><circle cx="354.3" cy="336.3" r="1.2" fill="#424242"/><circle cx="363.9" cy="322.0" r="1.0" fill="#424242"/><circle cx="356.0" cy="329.7" r="0.7" fill="#424242"/><circle cx="348.4" cy="322.0" r="1.3" fill="#424242"/><circle cx="363.4" cy="330.8" r="0.8" fill="#424242"/><circle cx="365.0" cy="331.5" r="1.2" fill="#424242"/><circle cx="362.7" cy="329.7" r="0.9" fill="#424242"/><circle cx="353.2" cy="327.8" r="0.7" fill="#424242"/><circle cx="342.0" cy="338.9" r="0.6" fill="#424242"/><circle cx="332.2" cy="333.0" r="0.8" fill="#424242"/><circle cx="350.8" cy="328.8" r="0.8" fill="#424242"/><circle cx="368.4" cy="323.3" r="0.9" fill="#424242"/><circle cx="338.1" cy="333.2" r="0.8" fill="#424242"/><circle cx="344.0" cy="336.7" r="0.8" fill="#424242"/><circle cx="351.7" cy="342.2" r="0.6" fill="#424242"/><circle cx="332.7" cy="323.8" r="1.1" fill="#424242"/><circle cx="353.8" cy="323.9" r="0.8" fill="#424242"/><circle cx="337.2" cy="328.5" r="0.6" fill="#424242"/><circle cx="357.0" cy="341.9" r="1.3" fill="#424242"/><circle cx="358.4" cy="344.3" r="0.6" fill="#424242"/><circle cx="341.4" cy="344.5" r="1.1" fill="#424242"/><circle cx="346.0" cy="343.6" r="1.0" fill="#424242"/><circle cx="361.6" cy="324.9" r="0.7" fill="#424242"/><circle cx="347.3" cy="322.5" r="0.8" fill="#424242"/><circle cx="367.0" cy="325.6" r="0.6" fill="#424242"/><circle cx="332.1" cy="322.9" r="1.1" fill="#424242"/><circle cx="344.2" cy="324.9" r="0.6" fill="#424242"/><circle cx="367.8" cy="327.7" r="0.7" fill="#424242"/><circle cx="330.5" cy="309.5" r="0.6" fill="#424242"/><circle cx="330.5" cy="313.5" r="0.6" fill="#424242"/><circle cx="338.0" cy="313.3" r="0.6" fill="#424242"/><circle cx="338.6" cy="317.3" r="0.6" fill="#424242"/><circle cx="345.4" cy="316.4" r="0.6" fill="#424242"/><circle cx="352.6" cy="313.9" r="0.6" fill="#424242"/><circle cx="360.5" cy="308.3" r="0.6" fill="#424242"/><circle cx="360.2" cy="312.3" r="0.6" fill="#424242"/><circle cx="368.4" cy="314.5" r="0.6" fill="#424242"/><circle cx="333.9" cy="350.2" r="1.35" fill="#424242"/><circle cx="365.0" cy="350.2" r="1.35" fill="#424242"/><circle cx="331.9" cy="337.7" r="1.35" fill="#424242"/><circle cx="366.5" cy="337.7" r="1.35" fill="#424242"/><ellipse cx="348.8" cy="345.4" rx="8.4" ry="7.4" fill="#3a3a3a"/>
<path d="M371.5 349.7L371.5 317.5L371.5 316.9A2.6 2.6 0 0 1 376.9 316.9L376.9 318.0Q378.9 321.7 380.9 318.0L380.9 312.4A2.0 2.0 0 0 1 385.0 312.4L385.0 318.0Q386.2 321.7 387.5 318.0L387.5 306.9A2.0 2.0 0 0 1 391.6 306.9L391.6 318.0Q393.6 321.7 395.6 318.0L395.6 313.0A2.0 2.0 0 0 1 399.7 313.0L399.7 318.0Q401.0 321.7 402.2 318.0L402.2 308.0A2.0 2.0 0 0 1 406.3 308.0L406.3 318.0Q408.3 321.7 410.3 318.0L410.3 311.8A2.0 2.0 0 0 1 414.4 311.8L414.4 318.0Q415.2 320.5 415.6 321.5L415.6 349.7Q415.6 358.7 406.6 358.7L380.5 358.7Q371.5 358.7 371.5 349.7Z" fill="#6e6e6e" stroke="#3e3e3e" stroke-width="0.9" stroke-linejoin="round"/><path d="M375.4 316.5v7.4M381.2 315.5v7.0a1.3 1.3 0 0 0 2.6 0v-7.0M390.1 316.5v7.5M395.9 315.5v7.0a1.3 1.3 0 0 0 2.6 0v-7.0M404.8 316.5v6.5M410.6 315.5v7.0a1.3 1.3 0 0 0 2.6 0v-7.0" stroke="#454545" stroke-width="0.7" fill="none"/><circle cx="384.5" cy="321.5" r="1.0" fill="#424242"/><circle cx="392.4" cy="337.2" r="0.8" fill="#424242"/><circle cx="403.8" cy="324.5" r="1.2" fill="#424242"/><circle cx="402.3" cy="327.4" r="1.0" fill="#424242"/><circle cx="400.5" cy="323.2" r="1.0" fill="#424242"/><circle cx="405.2" cy="324.4" r="1.2" fill="#424242"/><circle cx="400.6" cy="340.0" r="0.8" fill="#424242"/><circle cx="378.0" cy="338.5" r="1.2" fill="#424242"/><circle cx="391.5" cy="322.1" r="0.7" fill="#424242"/><circle cx="398.7" cy="324.9" r="1.3" fill="#424242"/><circle cx="396.9" cy="323.4" r="1.0" fill="#424242"/><circle cx="388.2" cy="343.2" r="1.2" fill="#424242"/><circle cx="394.1" cy="333.5" r="1.1" fill="#424242"/><circle cx="405.2" cy="344.9" r="0.6" fill="#424242"/><circle cx="388.3" cy="332.3" r="0.8" fill="#424242"/><circle cx="396.9" cy="322.0" r="1.2" fill="#424242"/><circle cx="394.5" cy="322.3" r="1.0" fill="#424242"/><circle cx="386.4" cy="323.3" r="0.9" fill="#424242"/><circle cx="379.8" cy="323.5" r="1.2" fill="#424242"/><circle cx="401.1" cy="321.5" r="1.1" fill="#424242"/><circle cx="375.1" cy="325.7" r="1.2" fill="#424242"/><circle cx="398.1" cy="325.2" r="0.8" fill="#424242"/><circle cx="389.3" cy="322.4" r="1.3" fill="#424242"/><circle cx="376.6" cy="327.6" r="1.1" fill="#424242"/><circle cx="389.7" cy="345.1" r="0.7" fill="#424242"/><circle cx="411.8" cy="341.8" r="1.1" fill="#424242"/><circle cx="408.4" cy="328.2" r="1.2" fill="#424242"/><circle cx="404.8" cy="329.9" r="0.9" fill="#424242"/><circle cx="401.4" cy="327.3" r="0.6" fill="#424242"/><circle cx="402.9" cy="324.4" r="0.9" fill="#424242"/><circle cx="404.4" cy="323.0" r="0.6" fill="#424242"/><circle cx="379.2" cy="331.9" r="0.8" fill="#424242"/><circle cx="384.3" cy="328.3" r="1.2" fill="#424242"/><circle cx="384.2" cy="327.3" r="1.2" fill="#424242"/><circle cx="375.3" cy="316.4" r="0.6" fill="#424242"/><circle cx="382.2" cy="313.9" r="0.6" fill="#424242"/><circle cx="389.8" cy="308.3" r="0.6" fill="#424242"/><circle cx="389.8" cy="312.3" r="0.6" fill="#424242"/><circle cx="396.8" cy="314.5" r="0.6" fill="#424242"/><circle cx="404.4" cy="309.5" r="0.6" fill="#424242"/><circle cx="404.3" cy="313.5" r="0.6" fill="#424242"/><circle cx="412.3" cy="313.3" r="0.6" fill="#424242"/><circle cx="411.7" cy="317.3" r="0.6" fill="#424242"/><circle cx="378.0" cy="350.2" r="1.35" fill="#424242"/><circle cx="409.1" cy="350.2" r="1.35" fill="#424242"/><circle cx="376.0" cy="337.7" r="1.35" fill="#424242"/><circle cx="410.6" cy="337.7" r="1.35" fill="#424242"/><ellipse cx="392.9" cy="345.4" rx="8.4" ry="7.4" fill="#3a3a3a"/>
<path d="M415.6 349.7L415.6 317.5L415.6 308.9A2.6 2.6 0 0 1 421.0 308.9L421.0 318.0Q423.0 321.7 425.0 318.0L425.0 313.0A2.0 2.0 0 0 1 429.1 313.0L429.1 318.0Q430.4 321.7 431.6 318.0L431.6 308.0A2.0 2.0 0 0 1 435.7 308.0L435.7 318.0Q437.7 321.7 439.7 318.0L439.7 311.8A2.0 2.0 0 0 1 443.8 311.8L443.8 318.0Q445.1 321.7 446.3 318.0L446.3 314.9A2.0 2.0 0 0 1 450.4 314.9L450.4 318.0Q452.4 321.7 454.4 318.0L454.4 312.4A2.0 2.0 0 0 1 458.5 312.4L458.5 318.0Q459.3 320.5 459.7 321.5L459.7 349.7Q459.7 358.7 450.7 358.7L424.6 358.7Q415.6 358.7 415.6 349.7Z" fill="#6e6e6e" stroke="#3e3e3e" stroke-width="0.9" stroke-linejoin="round"/><path d="M419.5 316.5v5.7M425.3 315.5v7.0a1.3 1.3 0 0 0 2.6 0v-7.0M434.2 316.5v7.9M440.0 315.5v7.0a1.3 1.3 0 0 0 2.6 0v-7.0M448.9 316.5v5.4M454.7 315.5v7.0a1.3 1.3 0 0 0 2.6 0v-7.0" stroke="#454545" stroke-width="0.7" fill="none"/><circle cx="445.5" cy="322.0" r="0.7" fill="#424242"/><circle cx="456.7" cy="323.5" r="1.0" fill="#424242"/><circle cx="436.1" cy="328.3" r="0.9" fill="#424242"/><circle cx="425.9" cy="339.6" r="0.6" fill="#424242"/><circle cx="427.5" cy="321.5" r="0.8" fill="#424242"/><circle cx="434.1" cy="342.1" r="0.8" fill="#424242"/><circle cx="422.9" cy="324.3" r="1.3" fill="#424242"/><circle cx="421.0" cy="332.8" r="0.8" fill="#424242"/><circle cx="443.8" cy="325.8" r="1.1" fill="#424242"/><circle cx="437.6" cy="333.7" r="1.2" fill="#424242"/><circle cx="440.8" cy="322.6" r="0.6" fill="#424242"/><circle cx="454.6" cy="329.2" r="0.7" fill="#424242"/><circle cx="454.6" cy="331.6" r="1.1" fill="#424242"/><circle cx="452.2" cy="324.8" r="0.8" fill="#424242"/><circle cx="452.1" cy="322.5" r="1.1" fill="#424242"/><circle cx="422.3" cy="334.9" r="1.1" fill="#424242"/><circle cx="454.8" cy="340.0" r="0.9" fill="#424242"/><circle cx="426.1" cy="322.7" r="0.9" fill="#424242"/><circle cx="438.0" cy="321.9" r="1.2" fill="#424242"/><circle cx="437.9" cy="335.3" r="0.7" fill="#424242"/><circle cx="427.9" cy="321.5" r="0.8" fill="#424242"/><circle cx="428.8" cy="327.6" r="0.8" fill="#424242"/><circle cx="450.4" cy="341.7" r="0.7" fill="#424242"/><circle cx="433.7" cy="322.9" r="1.0" fill="#424242"/><circle cx="455.7" cy="323.4" r="1.1" fill="#424242"/><circle cx="430.0" cy="321.5" r="1.1" fill="#424242"/><circle cx="431.6" cy="322.9" r="0.9" fill="#424242"/><circle cx="427.4" cy="327.3" r="0.9" fill="#424242"/><circle cx="434.5" cy="331.9" r="0.8" fill="#424242"/><circle cx="422.2" cy="322.0" r="0.6" fill="#424242"/><circle cx="438.4" cy="326.2" r="1.2" fill="#424242"/><circle cx="437.8" cy="335.5" r="1.3" fill="#424242"/><circle cx="421.0" cy="321.5" r="0.7" fill="#424242"/><circle cx="433.3" cy="331.5" r="1.1" fill="#424242"/><circle cx="419.1" cy="308.3" r="0.6" fill="#424242"/><circle cx="419.8" cy="312.3" r="0.6" fill="#424242"/><circle cx="426.0" cy="314.5" r="0.6" fill="#424242"/><circle cx="434.4" cy="309.5" r="0.6" fill="#424242"/><circle cx="433.6" cy="313.5" r="0.6" fill="#424242"/><circle cx="441.8" cy="313.3" r="0.6" fill="#424242"/><circle cx="440.8" cy="317.3" r="0.6" fill="#424242"/><circle cx="449.2" cy="316.4" r="0.6" fill="#424242"/><circle cx="456.3" cy="313.9" r="0.6" fill="#424242"/><circle cx="422.1" cy="350.2" r="1.35" fill="#424242"/><circle cx="453.2" cy="350.2" r="1.35" fill="#424242"/><circle cx="420.1" cy="337.7" r="1.35" fill="#424242"/><circle cx="454.7" cy="337.7" r="1.35" fill="#424242"/><ellipse cx="437.0" cy="345.4" rx="8.4" ry="7.4" fill="#3a3a3a"/>
</g>

<g id="a_retina">
<defs><clipPath id="retclip"><rect x="29.3" y="626.0" width="467.7" height="242.7"/></clipPath></defs>
<g clip-path="url(#retclip)">
<rect x="29.3" y="626.0" width="30.6" height="242.7" fill="#faf4db"/>
<rect x="59.4" y="626.0" width="28.3" height="242.7" fill="#fcf3e2"/>
<rect x="87.2" y="626.0" width="21.4" height="242.7" fill="#fbe9ac"/>
<rect x="108.1" y="626.0" width="85.8" height="242.7" fill="#fcf2e6"/>
<rect x="193.4" y="626.0" width="38.9" height="242.7" fill="#fce0bc"/>
<rect x="231.8" y="626.0" width="54.9" height="242.7" fill="#fceee5"/>
<rect x="286.2" y="626.0" width="88.3" height="242.7" fill="#fbdcc2"/>
<rect x="374.0" y="626.0" width="53.9" height="242.7" fill="#e3a99b"/>
<rect x="427.4" y="626.0" width="6.9" height="242.7" fill="#7b675e"/>
<rect x="433.8" y="626.0" width="63.7" height="242.7" fill="#ebb6aa"/>
<rect x="193.4" y="626" width="6" height="243" fill="#fbdab0" opacity="0.5"/>
<path d="M41.3 648 V860 M41.3 655.0 Q42 649.0 50 648.5 L60 649.0 M41.3 690.9 Q42 684.9 50 684.4 L60 684.9 M41.3 718.3 Q42 712.3 50 711.8 L60 712.3 M41.3 740.0 Q42 734.0 50 733.5 L60 734.0 M41.3 773.9 Q42 767.9 50 767.4 L60 767.9 M41.3 804.0 Q42 798.0 50 797.5 L60 798.0 M41.3 831.4 Q42 825.4 50 824.9 L60 825.4 M41.3 857.1 Q42 851.1 50 850.6 L60 851.1 M75 649.0 C95 649.0 110 646.7 144.1 646.7 M75 684.9 C95 684.9 110 686.5 149.9 686.5 M75 712.3 C95 712.3 110 713.4 149.2 713.4 M75 734.0 C95 734.0 110 731.3 145.3 731.3 M75 767.9 C95 767.9 110 766.7 150.6 766.7 M75 798.0 C95 798.0 110 789.7 150.6 789.7 M75 798.0 C95 798.0 110 807.8 145.3 807.8 M75 825.4 C95 825.4 110 829.3 150.6 829.3 M75 851.1 C95 851.1 110 852.5 150.6 852.5 M160.1 646.7 C182.1 646.7 195 646.0 214 646.0 M165.9 686.5 C187.9 686.5 195 686.0 214 686.0 M165.2 713.4 C187.2 713.4 195 700.0 214 700.0 M161.3 731.3 C183.3 731.3 195 725.0 214 725.0 M166.6 766.7 C188.6 766.7 195 770.0 214 770.0 M166.6 789.7 C188.6 789.7 195 782.0 214 782.0 M161.3 807.8 C183.3 807.8 195 801.0 214 801.0 M166.6 829.3 C188.6 829.3 195 828.0 214 828.0 M166.6 852.5 C188.6 852.5 195 851.0 214 851.0 M96 709 C108 714 108 740 112 752 C116 760 124 761 128 761 M114 768 C112 790 112 815 108 822 L98 828 M128 761 L95 768 M204 690 C202 720 203 750 200 765 M203 782 C201 800 204 815 210 822 M204 690 L214 686 M204 690 L214 700" fill="none" stroke="#fad9ae" stroke-width="1.9" stroke-linecap="round"/>
<path d="M86.5 649.0 l8.5 -7.5 l12 7.5 l-12 8 z" fill="#fbe9ac" stroke="#fad9ae" stroke-width="1.4"/>
<path d="M86.5 734.0 l8.5 -7.5 l12 7.5 l-12 8 z" fill="#fbe9ac" stroke="#fad9ae" stroke-width="1.4"/>
<path d="M55.0 649.0 c3 -6 7 -9.5 12 -9.5 c6 0 9 5 13 9.5 c-4 4.500 -7 9.5 -13 9.5 c-5 0 -9 -3.500 -12 -9.5z" fill="#fad9ae"/>
<ellipse cx="66.5" cy="649.0" rx="6" ry="5.5" fill="#f5c590"/>
<path d="M55.0 684.9 c3 -6 7 -9.5 12 -9.5 c6 0 9 5 13 9.5 c-4 4.500 -7 9.5 -13 9.5 c-5 0 -9 -3.500 -12 -9.5z" fill="#fad9ae"/>
<ellipse cx="66.5" cy="684.9" rx="6" ry="5.5" fill="#f5c590"/>
<path d="M55.0 712.3 c3 -6 7 -9.5 12 -9.5 c6 0 9 5 13 9.5 c-4 4.500 -7 9.5 -13 9.5 c-5 0 -9 -3.500 -12 -9.5z" fill="#fad9ae"/>
<ellipse cx="66.5" cy="712.3" rx="6" ry="5.5" fill="#f5c590"/>
<path d="M55.0 734.0 c3 -6 7 -9.5 12 -9.5 c6 0 9 5 13 9.5 c-4 4.500 -7 9.5 -13 9.5 c-5 0 -9 -3.500 -12 -9.5z" fill="#fad9ae"/>
<ellipse cx="66.5" cy="734.0" rx="6" ry="5.5" fill="#f5c590"/>
<path d="M55.0 767.9 c3 -6 7 -9.5 12 -9.5 c6 0 9 5 13 9.5 c-4 4.500 -7 9.5 -13 9.5 c-5 0 -9 -3.500 -12 -9.5z" fill="#fad9ae"/>
<ellipse cx="66.5" cy="767.9" rx="6" ry="5.5" fill="#f5c590"/>
<path d="M55.0 798.0 c3 -6 7 -9.5 12 -9.5 c6 0 9 5 13 9.5 c-4 4.500 -7 9.5 -13 9.5 c-5 0 -9 -3.500 -12 -9.5z" fill="#fad9ae"/>
<ellipse cx="66.5" cy="798.0" rx="6" ry="5.5" fill="#f5c590"/>
<path d="M55.0 825.4 c3 -6 7 -9.5 12 -9.5 c6 0 9 5 13 9.5 c-4 4.500 -7 9.5 -13 9.5 c-5 0 -9 -3.500 -12 -9.5z" fill="#fad9ae"/>
<ellipse cx="66.5" cy="825.4" rx="6" ry="5.5" fill="#f5c590"/>
<path d="M55.0 851.1 c3 -6 7 -9.5 12 -9.5 c6 0 9 5 13 9.5 c-4 4.500 -7 9.5 -13 9.5 c-5 0 -9 -3.500 -12 -9.5z" fill="#fad9ae"/>
<ellipse cx="66.5" cy="851.1" rx="6" ry="5.5" fill="#f5c590"/>
<path d="M139.8 646.7 c3 -6 6.5 -9.3 12.3 -9.3 c6 0 8.4 5 12.3 9.3 c-4 4.5 -8.4 9.3 -12.3 9.3 c-5 0 -6.5 -3.5 -12.3 -9.3 z" fill="#fad9ae"/>
<ellipse cx="152.1" cy="646.7" rx="5.4" ry="5.1" fill="#f5c590"/>
<path d="M145.6 686.5 c3 -6 6.5 -9.3 12.3 -9.3 c6 0 8.4 5 12.3 9.3 c-4 4.5 -8.4 9.3 -12.3 9.3 c-5 0 -6.5 -3.5 -12.3 -9.3 z" fill="#fad9ae"/>
<ellipse cx="157.9" cy="686.5" rx="5.4" ry="5.1" fill="#f5c590"/>
<path d="M144.9 713.4 c3 -6 6.5 -9.3 12.3 -9.3 c6 0 8.4 5 12.3 9.3 c-4 4.5 -8.4 9.3 -12.3 9.3 c-5 0 -6.5 -3.5 -12.3 -9.3 z" fill="#fad9ae"/>
<ellipse cx="157.2" cy="713.4" rx="5.4" ry="5.1" fill="#f5c590"/>
<path d="M141.0 731.3 c3 -6 6.5 -9.3 12.3 -9.3 c6 0 8.4 5 12.3 9.3 c-4 4.5 -8.4 9.3 -12.3 9.3 c-5 0 -6.5 -3.5 -12.3 -9.3 z" fill="#fad9ae"/>
<ellipse cx="153.3" cy="731.3" rx="5.4" ry="5.1" fill="#f5c590"/>
<path d="M121.0 761.4 c3 -6 7.8 -11.2 14.2 -11.2 c6 0 10.1 5 14.2 11.2 c-4 4.5 -10.1 11.2 -14.2 11.2 c-5 0 -7.8 -3.5 -14.2 -11.2 z" fill="#fad9ae"/>
<ellipse cx="135.2" cy="761.4" rx="6.5" ry="6.2" fill="#f5c590"/>
<path d="M146.3 766.7 c3 -6 6.5 -9.3 12.3 -9.3 c6 0 8.4 5 12.3 9.3 c-4 4.5 -8.4 9.3 -12.3 9.3 c-5 0 -6.5 -3.5 -12.3 -9.3 z" fill="#fad9ae"/>
<ellipse cx="158.6" cy="766.7" rx="5.4" ry="5.1" fill="#f5c590"/>
<path d="M178.5 773.0 c3 -6 7.3 -10.5 13.5 -10.5 c6 0 9.5 5 13.5 10.5 c-4 4.5 -9.5 10.5 -13.5 10.5 c-5 0 -7.3 -3.5 -13.5 -10.5 z" fill="#fad9ae"/>
<ellipse cx="192.0" cy="773.0" rx="6.1" ry="5.8" fill="#f5c590"/>
<path d="M146.3 789.7 c3 -6 6.5 -9.3 12.3 -9.3 c6 0 8.4 5 12.3 9.3 c-4 4.5 -8.4 9.3 -12.3 9.3 c-5 0 -6.5 -3.5 -12.3 -9.3 z" fill="#fad9ae"/>
<ellipse cx="158.6" cy="789.7" rx="5.4" ry="5.1" fill="#f5c590"/>
<path d="M141.0 807.8 c3 -6 6.5 -9.3 12.3 -9.3 c6 0 8.4 5 12.3 9.3 c-4 4.5 -8.4 9.3 -12.3 9.3 c-5 0 -6.5 -3.5 -12.3 -9.3 z" fill="#fad9ae"/>
<ellipse cx="153.3" cy="807.8" rx="5.4" ry="5.1" fill="#f5c590"/>
<path d="M146.3 829.3 c3 -6 6.5 -9.3 12.3 -9.3 c6 0 8.4 5 12.3 9.3 c-4 4.5 -8.4 9.3 -12.3 9.3 c-5 0 -6.5 -3.5 -12.3 -9.3 z" fill="#fad9ae"/>
<ellipse cx="158.6" cy="829.3" rx="5.4" ry="5.1" fill="#f5c590"/>
<path d="M146.3 852.5 c3 -6 6.5 -9.3 12.3 -9.3 c6 0 8.4 5 12.3 9.3 c-4 4.5 -8.4 9.3 -12.3 9.3 c-5 0 -6.5 -3.5 -12.3 -9.3 z" fill="#fad9ae"/>
<ellipse cx="158.6" cy="852.5" rx="5.4" ry="5.1" fill="#f5c590"/>
<defs><clipPath id="rpeclip"><rect x="370" y="620" width="57.4" height="260"/></clipPath></defs><g clip-path="url(#rpeclip)">
<g fill="#a9abae"><rect x="394" y="628.3" width="33.6" height="42.5" rx="4"/><circle cx="385.1" cy="630.8" r="8.0"/><circle cx="390.1" cy="638.3" r="6.3"/><circle cx="388.0" cy="645.8" r="6.8"/><circle cx="389.2" cy="653.3" r="7.9"/><circle cx="384.8" cy="660.8" r="5.6"/><circle cx="390.7" cy="668.3" r="6.8"/><circle cx="379.0" cy="657.8" r="3.7"/><circle cx="380.1" cy="656.5" r="4.4"/><circle cx="379.2" cy="662.2" r="3.0"/><circle cx="396.2" cy="632.2" r="4.6"/><circle cx="396.2" cy="667.2" r="4.6"/><circle cx="401.1" cy="630.7" r="4.7"/><circle cx="401.1" cy="667.8" r="4.3"/><circle cx="408.9" cy="630.7" r="4.7"/><circle cx="408.9" cy="667.4" r="4.0"/><circle cx="418.4" cy="631.4" r="5.0"/><circle cx="418.4" cy="667.2" r="5.5"/><circle cx="425.4" cy="630.5" r="4.5"/><circle cx="425.4" cy="668.2" r="5.1"/></g><path d="M408.0 645.2 c4 -7 14 -7 16 0 c3 7 -1 15 -8 16 c-8 1 -12 -8 -8 -16z" fill="#919396"/><circle cx="406.5" cy="658.2" r="2.2" fill="#919396"/><circle cx="400.2" cy="661.9" r="0.9" fill="#919396" opacity="0.8"/><circle cx="395.0" cy="652.8" r="1.0" fill="#919396" opacity="0.8"/><circle cx="418.4" cy="649.7" r="0.9" fill="#919396" opacity="0.8"/><circle cx="383.5" cy="639.9" r="1.0" fill="#919396" opacity="0.8"/><circle cx="399.8" cy="637.3" r="0.8" fill="#919396" opacity="0.8"/><circle cx="412.2" cy="656.1" r="0.7" fill="#919396" opacity="0.8"/><circle cx="400.9" cy="649.9" r="1.0" fill="#919396" opacity="0.8"/><circle cx="404.4" cy="645.5" r="0.8" fill="#919396" opacity="0.8"/><circle cx="383.3" cy="632.4" r="0.9" fill="#919396" opacity="0.8"/><circle cx="424.3" cy="653.0" r="0.7" fill="#919396" opacity="0.8"/><circle cx="389.3" cy="649.6" r="1.1" fill="#919396" opacity="0.8"/><circle cx="415.1" cy="651.0" r="1.0" fill="#919396" opacity="0.8"/><circle cx="392.0" cy="650.1" r="1.1" fill="#919396" opacity="0.8"/><circle cx="406.8" cy="648.0" r="0.7" fill="#919396" opacity="0.8"/><circle cx="405.6" cy="666.7" r="0.5" fill="#919396" opacity="0.8"/><circle cx="415.7" cy="661.6" r="1.0" fill="#919396" opacity="0.8"/><circle cx="413.8" cy="661.1" r="0.8" fill="#919396" opacity="0.8"/><circle cx="406.1" cy="646.8" r="0.5" fill="#919396" opacity="0.8"/><circle cx="419.4" cy="652.2" r="0.6" fill="#919396" opacity="0.8"/><circle cx="403.7" cy="649.0" r="0.7" fill="#919396" opacity="0.8"/><circle cx="396.9" cy="651.0" r="0.9" fill="#919396" opacity="0.8"/><circle cx="408.3" cy="648.0" r="0.5" fill="#919396" opacity="0.8"/><circle cx="391.9" cy="637.4" r="0.9" fill="#919396" opacity="0.8"/><circle cx="419.0" cy="660.7" r="1.0" fill="#919396" opacity="0.8"/>
<g fill="#c3c5c8"><rect x="394" y="676.3" width="33.6" height="40.9" rx="4"/><circle cx="391.6" cy="678.8" r="8.3"/><circle cx="384.5" cy="686.0" r="5.8"/><circle cx="390.7" cy="693.2" r="7.7"/><circle cx="389.4" cy="700.3" r="6.4"/><circle cx="388.8" cy="707.5" r="7.3"/><circle cx="388.6" cy="714.7" r="6.0"/><circle cx="381.0" cy="694.7" r="4.1"/><circle cx="383.7" cy="711.5" r="3.8"/><circle cx="380.3" cy="695.1" r="3.1"/><circle cx="394.1" cy="679.2" r="4.5"/><circle cx="394.1" cy="714.0" r="5.3"/><circle cx="403.1" cy="679.4" r="4.4"/><circle cx="403.1" cy="713.2" r="4.5"/><circle cx="408.5" cy="679.3" r="5.5"/><circle cx="408.5" cy="714.5" r="4.3"/><circle cx="418.6" cy="679.9" r="5.1"/><circle cx="418.6" cy="715.0" r="5.1"/><circle cx="425.2" cy="679.0" r="5.5"/><circle cx="425.2" cy="715.1" r="4.2"/></g><path d="M408.0 691.3 c4 -7 14 -7 16 0 c3 7 -1 15 -8 16 c-8 1 -12 -8 -8 -16z" fill="#a5a7aa"/><circle cx="406.5" cy="704.3" r="2.2" fill="#a5a7aa"/><circle cx="412.8" cy="695.4" r="0.8" fill="#a5a7aa" opacity="0.8"/><circle cx="403.1" cy="712.0" r="0.8" fill="#a5a7aa" opacity="0.8"/><circle cx="417.8" cy="691.5" r="1.0" fill="#a5a7aa" opacity="0.8"/><circle cx="420.7" cy="695.4" r="0.8" fill="#a5a7aa" opacity="0.8"/><circle cx="421.6" cy="704.8" r="0.8" fill="#a5a7aa" opacity="0.8"/><circle cx="391.5" cy="690.5" r="0.9" fill="#a5a7aa" opacity="0.8"/><circle cx="389.1" cy="711.4" r="0.7" fill="#a5a7aa" opacity="0.8"/><circle cx="421.2" cy="689.9" r="1.1" fill="#a5a7aa" opacity="0.8"/><circle cx="412.4" cy="696.9" r="0.8" fill="#a5a7aa" opacity="0.8"/><circle cx="410.0" cy="699.9" r="0.7" fill="#a5a7aa" opacity="0.8"/><circle cx="390.9" cy="697.2" r="1.1" fill="#a5a7aa" opacity="0.8"/><circle cx="408.8" cy="681.5" r="1.0" fill="#a5a7aa" opacity="0.8"/><circle cx="413.2" cy="711.4" r="0.6" fill="#a5a7aa" opacity="0.8"/><circle cx="414.0" cy="680.9" r="0.9" fill="#a5a7aa" opacity="0.8"/><circle cx="393.7" cy="686.9" r="1.0" fill="#a5a7aa" opacity="0.8"/><circle cx="386.6" cy="697.6" r="1.0" fill="#a5a7aa" opacity="0.8"/><circle cx="392.5" cy="686.4" r="1.0" fill="#a5a7aa" opacity="0.8"/><circle cx="400.2" cy="704.5" r="0.5" fill="#a5a7aa" opacity="0.8"/><circle cx="397.6" cy="685.0" r="0.9" fill="#a5a7aa" opacity="0.8"/><circle cx="385.6" cy="713.1" r="0.5" fill="#a5a7aa" opacity="0.8"/><circle cx="413.4" cy="679.6" r="0.7" fill="#a5a7aa" opacity="0.8"/><circle cx="417.0" cy="684.4" r="0.6" fill="#a5a7aa" opacity="0.8"/><circle cx="411.7" cy="692.6" r="0.5" fill="#a5a7aa" opacity="0.8"/><circle cx="424.6" cy="684.2" r="0.5" fill="#a5a7aa" opacity="0.8"/>
<g fill="#c3c5c8"><rect x="394" y="722.7" width="33.6" height="43.2" rx="4"/><circle cx="385.9" cy="725.2" r="7.1"/><circle cx="387.0" cy="732.8" r="7.3"/><circle cx="389.0" cy="740.5" r="5.7"/><circle cx="384.1" cy="748.1" r="8.0"/><circle cx="386.1" cy="755.8" r="6.2"/><circle cx="392.0" cy="763.4" r="6.9"/><circle cx="381.4" cy="755.1" r="4.0"/><circle cx="382.2" cy="733.0" r="4.3"/><circle cx="382.7" cy="745.0" r="4.0"/><circle cx="394.3" cy="726.2" r="4.9"/><circle cx="394.3" cy="762.5" r="4.0"/><circle cx="404.5" cy="725.6" r="5.1"/><circle cx="404.5" cy="763.7" r="5.1"/><circle cx="411.7" cy="725.5" r="5.2"/><circle cx="411.7" cy="762.8" r="5.4"/><circle cx="418.5" cy="724.9" r="4.2"/><circle cx="418.5" cy="762.3" r="5.4"/><circle cx="423.7" cy="726.0" r="4.5"/><circle cx="423.7" cy="762.9" r="4.6"/></g><path d="M408.0 736.4 c4 -7 14 -7 16 0 c3 7 -1 15 -8 16 c-8 1 -12 -8 -8 -16z" fill="#a5a7aa"/><circle cx="406.5" cy="749.4" r="2.2" fill="#a5a7aa"/><circle cx="407.2" cy="747.5" r="1.0" fill="#a5a7aa" opacity="0.8"/><circle cx="411.3" cy="760.7" r="1.0" fill="#a5a7aa" opacity="0.8"/><circle cx="424.6" cy="750.8" r="0.6" fill="#a5a7aa" opacity="0.8"/><circle cx="419.0" cy="762.0" r="1.0" fill="#a5a7aa" opacity="0.8"/><circle cx="406.5" cy="752.5" r="0.6" fill="#a5a7aa" opacity="0.8"/><circle cx="417.8" cy="747.1" r="0.7" fill="#a5a7aa" opacity="0.8"/><circle cx="384.7" cy="757.8" r="1.1" fill="#a5a7aa" opacity="0.8"/><circle cx="385.8" cy="755.8" r="0.7" fill="#a5a7aa" opacity="0.8"/><circle cx="388.5" cy="736.4" r="1.0" fill="#a5a7aa" opacity="0.8"/><circle cx="419.5" cy="726.9" r="0.9" fill="#a5a7aa" opacity="0.8"/><circle cx="383.9" cy="752.6" r="0.7" fill="#a5a7aa" opacity="0.8"/><circle cx="419.9" cy="762.7" r="0.8" fill="#a5a7aa" opacity="0.8"/><circle cx="424.9" cy="737.0" r="0.5" fill="#a5a7aa" opacity="0.8"/><circle cx="407.8" cy="726.4" r="0.6" fill="#a5a7aa" opacity="0.8"/><circle cx="399.5" cy="748.5" r="0.6" fill="#a5a7aa" opacity="0.8"/><circle cx="383.8" cy="758.3" r="0.7" fill="#a5a7aa" opacity="0.8"/><circle cx="423.2" cy="759.5" r="0.7" fill="#a5a7aa" opacity="0.8"/><circle cx="401.8" cy="745.1" r="0.9" fill="#a5a7aa" opacity="0.8"/><circle cx="407.6" cy="746.6" r="0.9" fill="#a5a7aa" opacity="0.8"/><circle cx="422.4" cy="744.6" r="0.8" fill="#a5a7aa" opacity="0.8"/><circle cx="413.0" cy="734.3" r="0.7" fill="#a5a7aa" opacity="0.8"/><circle cx="424.0" cy="745.1" r="0.8" fill="#a5a7aa" opacity="0.8"/><circle cx="382.5" cy="741.1" r="0.8" fill="#a5a7aa" opacity="0.8"/><circle cx="382.9" cy="748.7" r="0.9" fill="#a5a7aa" opacity="0.8"/>
<g fill="#c3c5c8"><rect x="394" y="772.0" width="33.6" height="42.5" rx="4"/><circle cx="385.9" cy="774.5" r="5.8"/><circle cx="387.2" cy="782.0" r="6.0"/><circle cx="384.5" cy="789.5" r="6.7"/><circle cx="391.3" cy="797.0" r="7.9"/><circle cx="390.1" cy="804.5" r="6.2"/><circle cx="388.3" cy="812.0" r="6.3"/><circle cx="379.5" cy="782.9" r="3.3"/><circle cx="383.1" cy="806.7" r="4.2"/><circle cx="380.0" cy="802.7" r="3.5"/><circle cx="396.5" cy="775.5" r="5.3"/><circle cx="396.5" cy="812.3" r="4.1"/><circle cx="403.4" cy="775.3" r="4.8"/><circle cx="403.4" cy="810.9" r="4.7"/><circle cx="408.4" cy="775.9" r="5.3"/><circle cx="408.4" cy="811.6" r="4.5"/><circle cx="418.6" cy="775.1" r="5.3"/><circle cx="418.6" cy="812.2" r="4.8"/><circle cx="423.7" cy="775.2" r="4.6"/><circle cx="423.7" cy="810.8" r="4.5"/></g><path d="M408.0 788.1 c4 -7 14 -7 16 0 c3 7 -1 15 -8 16 c-8 1 -12 -8 -8 -16z" fill="#a5a7aa"/><circle cx="406.5" cy="801.1" r="2.2" fill="#a5a7aa"/><circle cx="383.9" cy="776.2" r="0.9" fill="#a5a7aa" opacity="0.8"/><circle cx="394.1" cy="794.5" r="0.8" fill="#a5a7aa" opacity="0.8"/><circle cx="396.7" cy="811.9" r="0.6" fill="#a5a7aa" opacity="0.8"/><circle cx="399.8" cy="782.1" r="0.9" fill="#a5a7aa" opacity="0.8"/><circle cx="393.9" cy="787.8" r="0.9" fill="#a5a7aa" opacity="0.8"/><circle cx="395.8" cy="795.4" r="1.0" fill="#a5a7aa" opacity="0.8"/><circle cx="386.3" cy="776.8" r="0.6" fill="#a5a7aa" opacity="0.8"/><circle cx="414.9" cy="797.6" r="0.6" fill="#a5a7aa" opacity="0.8"/><circle cx="396.2" cy="781.2" r="0.8" fill="#a5a7aa" opacity="0.8"/><circle cx="383.8" cy="800.6" r="1.0" fill="#a5a7aa" opacity="0.8"/><circle cx="423.1" cy="802.1" r="1.1" fill="#a5a7aa" opacity="0.8"/><circle cx="382.8" cy="785.3" r="1.1" fill="#a5a7aa" opacity="0.8"/><circle cx="415.3" cy="789.9" r="1.1" fill="#a5a7aa" opacity="0.8"/><circle cx="408.7" cy="805.2" r="0.7" fill="#a5a7aa" opacity="0.8"/><circle cx="390.2" cy="791.2" r="0.6" fill="#a5a7aa" opacity="0.8"/><circle cx="398.4" cy="810.6" r="0.7" fill="#a5a7aa" opacity="0.8"/><circle cx="382.4" cy="776.2" r="0.6" fill="#a5a7aa" opacity="0.8"/><circle cx="415.7" cy="788.1" r="0.7" fill="#a5a7aa" opacity="0.8"/><circle cx="386.2" cy="811.3" r="0.8" fill="#a5a7aa" opacity="0.8"/><circle cx="390.9" cy="776.7" r="0.5" fill="#a5a7aa" opacity="0.8"/><circle cx="389.3" cy="799.9" r="0.6" fill="#a5a7aa" opacity="0.8"/><circle cx="383.8" cy="792.9" r="0.6" fill="#a5a7aa" opacity="0.8"/><circle cx="424.9" cy="779.1" r="0.8" fill="#a5a7aa" opacity="0.8"/><circle cx="415.3" cy="789.8" r="1.1" fill="#a5a7aa" opacity="0.8"/>
<g fill="#aaacaf"><rect x="394" y="820.7" width="33.6" height="44.3" rx="4"/><circle cx="389.0" cy="823.2" r="7.7"/><circle cx="390.4" cy="831.1" r="8.3"/><circle cx="389.9" cy="838.9" r="8.3"/><circle cx="384.2" cy="846.8" r="6.9"/><circle cx="391.5" cy="854.6" r="7.4"/><circle cx="391.2" cy="862.5" r="5.8"/><circle cx="380.2" cy="841.8" r="3.8"/><circle cx="379.1" cy="845.3" r="3.3"/><circle cx="383.6" cy="835.5" r="4.1"/><circle cx="394.6" cy="824.3" r="4.2"/><circle cx="394.6" cy="862.2" r="4.2"/><circle cx="401.0" cy="824.4" r="4.3"/><circle cx="401.0" cy="861.4" r="5.5"/><circle cx="411.5" cy="823.3" r="5.4"/><circle cx="411.5" cy="862.1" r="5.0"/><circle cx="415.8" cy="824.6" r="5.0"/><circle cx="415.8" cy="862.9" r="5.3"/><circle cx="423.2" cy="823.4" r="4.2"/><circle cx="423.2" cy="861.3" r="4.1"/></g><path d="M408.0 834.7 c4 -7 14 -7 16 0 c3 7 -1 15 -8 16 c-8 1 -12 -8 -8 -16z" fill="#8f9194"/><circle cx="406.5" cy="847.7" r="2.2" fill="#8f9194"/><circle cx="407.9" cy="823.3" r="0.9" fill="#8f9194" opacity="0.8"/><circle cx="396.5" cy="835.4" r="1.0" fill="#8f9194" opacity="0.8"/><circle cx="402.7" cy="835.6" r="0.8" fill="#8f9194" opacity="0.8"/><circle cx="412.3" cy="825.4" r="1.1" fill="#8f9194" opacity="0.8"/><circle cx="383.0" cy="852.7" r="1.0" fill="#8f9194" opacity="0.8"/><circle cx="382.8" cy="854.2" r="0.7" fill="#8f9194" opacity="0.8"/><circle cx="406.9" cy="823.6" r="0.5" fill="#8f9194" opacity="0.8"/><circle cx="389.8" cy="860.7" r="0.6" fill="#8f9194" opacity="0.8"/><circle cx="414.5" cy="859.7" r="1.1" fill="#8f9194" opacity="0.8"/><circle cx="396.8" cy="837.1" r="0.8" fill="#8f9194" opacity="0.8"/><circle cx="415.4" cy="827.4" r="0.9" fill="#8f9194" opacity="0.8"/><circle cx="416.3" cy="857.0" r="0.5" fill="#8f9194" opacity="0.8"/><circle cx="422.7" cy="826.8" r="0.7" fill="#8f9194" opacity="0.8"/><circle cx="408.3" cy="859.3" r="0.7" fill="#8f9194" opacity="0.8"/><circle cx="421.7" cy="844.6" r="0.7" fill="#8f9194" opacity="0.8"/><circle cx="395.6" cy="830.2" r="0.5" fill="#8f9194" opacity="0.8"/><circle cx="388.4" cy="850.3" r="1.1" fill="#8f9194" opacity="0.8"/><circle cx="388.9" cy="825.1" r="1.1" fill="#8f9194" opacity="0.8"/><circle cx="404.9" cy="839.2" r="0.6" fill="#8f9194" opacity="0.8"/><circle cx="407.5" cy="855.7" r="0.8" fill="#8f9194" opacity="0.8"/><circle cx="400.1" cy="825.4" r="1.0" fill="#8f9194" opacity="0.8"/><circle cx="383.4" cy="842.6" r="1.0" fill="#8f9194" opacity="0.8"/><circle cx="387.6" cy="852.0" r="1.1" fill="#8f9194" opacity="0.8"/><circle cx="409.1" cy="854.2" r="0.6" fill="#8f9194" opacity="0.8"/>
</g>
<path d="M213.5 634.7 c2.5 -1 4.500 0 4.500 2.500 c0 1.500 1 2.300 2.500 2.300 L244 639.5 C248 639.5 250 632.9 257 632.9 C263 632.9 265 638.7 268.2 639.6 C271 638.7 273 633.7 278.500 633.7 L316 633.7 C319 633.7 320 637.2 322 638.2 L322 644.2 C320 645.2 319 648.7 316 648.7 L278.5 648.7 C273 648.7 271 643.7 268.2 642.8 C265 643.7 263 649.5 257 649.5 C250 649.5 248 642.9 244 642.9 L220.5 642.9 c-1.5 0 -2.5 0.8 -2.5 2.3 c0 2.500 -2 3.500 -4.500 2.500 c-1.5 -1 -1.5 -3 -0.5 -4.200 c1 -1.2 1 -3.400 0 -4.600 c-1 -1.2 -1 -3.200 0.5 -4.200z" fill="#e39c7c"/><ellipse cx="256.5" cy="641.2" rx="6.6" ry="5.6" fill="#d9835f"/><rect x="321" y="633.9" width="74.5" height="15.6" rx="6" fill="#e39c7c"/><path d="M313 641.7 c5 -1 7 -4 9 -8 c1.500 -3 5 -3.500 9 -3.500 c-4 1.500 -6 3 -7 6 c-1.500 5 -5 8 -11 5.500z" fill="#e39c7c"/><path d="M314 642.2 c4 -0.5 6 -3 7.500 -6.500 c-0.5 4.500 -3.500 8 -7.500 6.500z" fill="#fbe4d2"/><path d="M327.5 636.4v10.6M329.9 636.4v10.6M332.2 636.4v10.6M334.6 636.4v10.6M336.9 636.4v10.6M339.3 636.4v10.6M341.6 636.4v10.6M344.0 636.4v10.6M346.3 636.4v10.6M348.7 636.4v10.6M351.0 636.4v10.6M353.4 636.4v10.6M355.7 636.4v10.6M358.1 636.4v10.6M360.4 636.4v10.6M362.8 636.4v10.6M365.1 636.4v10.6M367.5 636.4v10.6M369.8 636.4v10.6M372.2 636.4v10.6M374.5 636.4v10.6M376.9 636.4v10.6M379.2 636.4v10.6M381.6 636.4v10.6M383.9 636.4v10.6M386.3 636.4v10.6M388.6 636.4v10.6" stroke="#d9835f" stroke-width="1.35" fill="none"/>
<path d="M213.5 664.8 c2.5 -1 4.500 0 4.500 2.500 c0 1.500 1 2.300 2.500 2.300 L244 669.6 C248 669.6 250 663.0 257 663.0 C263 663.0 265 668.8 268.2 669.7 C271 668.8 273 663.8 278.500 663.8 L316 663.8 C319 663.8 320 667.3 322 668.3 L322 674.3 C320 675.3 319 678.8 316 678.8 L278.5 678.8 C273 678.8 271 673.8 268.2 672.9 C265 673.8 263 679.6 257 679.6 C250 679.6 248 673.0 244 673.0 L220.5 673.0 c-1.5 0 -2.5 0.8 -2.5 2.3 c0 2.500 -2 3.500 -4.500 2.500 c-1.5 -1 -1.5 -3 -0.5 -4.200 c1 -1.2 1 -3.400 0 -4.600 c-1 -1.2 -1 -3.200 0.5 -4.200z" fill="#e39c7c"/><ellipse cx="256.5" cy="671.3" rx="6.6" ry="5.6" fill="#d9835f"/><rect x="321" y="664.0" width="74.5" height="15.6" rx="6" fill="#e39c7c"/><path d="M313 671.8 c5 -1 7 -4 9 -8 c1.500 -3 5 -3.500 9 -3.500 c-4 1.500 -6 3 -7 6 c-1.500 5 -5 8 -11 5.500z" fill="#e39c7c"/><path d="M314 672.3 c4 -0.5 6 -3 7.500 -6.500 c-0.5 4.500 -3.500 8 -7.500 6.500z" fill="#fbe4d2"/><path d="M327.5 666.5v10.6M329.9 666.5v10.6M332.2 666.5v10.6M334.6 666.5v10.6M336.9 666.5v10.6M339.3 666.5v10.6M341.6 666.5v10.6M344.0 666.5v10.6M346.3 666.5v10.6M348.7 666.5v10.6M351.0 666.5v10.6M353.4 666.5v10.6M355.7 666.5v10.6M358.1 666.5v10.6M360.4 666.5v10.6M362.8 666.5v10.6M365.1 666.5v10.6M367.5 666.5v10.6M369.8 666.5v10.6M372.2 666.5v10.6M374.5 666.5v10.6M376.9 666.5v10.6M379.2 666.5v10.6M381.6 666.5v10.6M383.9 666.5v10.6M386.3 666.5v10.6M388.6 666.5v10.6" stroke="#d9835f" stroke-width="1.35" fill="none"/>
<path d="M226 699.0 L219 699.0 M221 699.0 l-5 -6 l-1 -5 M216 693.0 l-4 -1 M221 699.0 l-6 5.500 l1 5 M215 704.5 l-4 1.500 M219 699.0 l-6 -1 l-3 -2.500 M213 698.0 l-3 3 M222 698.0 l-1 -9 l2 -3 M221 700.0 l1 8 l-2 3" stroke="#e39c7c" stroke-width="2.3" fill="none" stroke-linecap="round" stroke-linejoin="round"/><path d="M222 697.3 L252 697.3 C256 697.3 259 690.0 266.6 690.0 C274 690.0 276 696.0 279.5 697.0 C282 696.0 284 690.0 290 690.0 L326 690.0 C330 690.0 332 693.0 332 696.0 C332 698.0 334 694.0 336 691.5 L336 691.5 C339 690.5 341 691.0 343 692.5 L383 702.0 C386 702.5 386 707.0 383 707.5 L340 708.0 C336 708.0 335 704.0 333 703.0 C331 705.0 330 708.0 326 708.0 L290 708.0 C284 708.0 282 702.0 279.5 701.0 C276 702.0 274 708.0 266.6 708.0 C259 708.0 256 700.7 252 700.7 L222 700.7z" fill="#e39c7c"/><ellipse cx="266.5" cy="699.0" rx="7" ry="6" fill="#d9835f"/><path d="M342.5 692.7V703.5M345.4 693.4V703.5M348.3 694.0V703.5M351.2 694.7V703.5M354.1 695.3V703.5M357.0 696.0V703.5M359.9 696.6V703.5M362.8 697.3V703.5M365.7 697.9V703.5M368.6 698.6V703.5M371.5 699.2V703.5M374.4 699.9V703.5M377.3 700.5V703.5" stroke="#fbe6d6" stroke-width="1.3" fill="none"/><path d="M331 697.5 c2 -1 3.500 -3 4.500 -5.500 c0 3.500 -1.500 6.500 -4.500 5.500z" fill="#fbe4d2"/>
<path d="M213.5 718.1 c2.5 -1 4.500 0 4.500 2.500 c0 1.500 1 2.300 2.500 2.300 L244 722.9 C248 722.9 250 716.3 257 716.3 C263 716.3 265 722.1 268.2 723.0 C271 722.1 273 717.1 278.500 717.1 L316 717.1 C319 717.1 320 720.6 322 721.6 L322 727.6 C320 728.6 319 732.1 316 732.1 L278.5 732.1 C273 732.1 271 727.1 268.2 726.2 C265 727.1 263 732.9 257 732.9 C250 732.9 248 726.3 244 726.3 L220.5 726.3 c-1.5 0 -2.5 0.8 -2.5 2.3 c0 2.500 -2 3.500 -4.500 2.500 c-1.5 -1 -1.5 -3 -0.5 -4.200 c1 -1.2 1 -3.400 0 -4.600 c-1 -1.2 -1 -3.200 0.5 -4.200z" fill="#e39c7c"/><ellipse cx="256.5" cy="724.6" rx="6.6" ry="5.6" fill="#d9835f"/><rect x="321" y="717.3" width="74.5" height="15.6" rx="6" fill="#e39c7c"/><path d="M313 725.1 c5 -1 7 -4 9 -8 c1.500 -3 5 -3.500 9 -3.500 c-4 1.500 -6 3 -7 6 c-1.500 5 -5 8 -11 5.500z" fill="#e39c7c"/><path d="M314 725.6 c4 -0.5 6 -3 7.500 -6.500 c-0.5 4.500 -3.500 8 -7.500 6.500z" fill="#fbe4d2"/><path d="M327.5 719.8v10.6M329.9 719.8v10.6M332.2 719.8v10.6M334.6 719.8v10.6M336.9 719.8v10.6M339.3 719.8v10.6M341.6 719.8v10.6M344.0 719.8v10.6M346.3 719.8v10.6M348.7 719.8v10.6M351.0 719.8v10.6M353.4 719.8v10.6M355.7 719.8v10.6M358.1 719.8v10.6M360.4 719.8v10.6M362.8 719.8v10.6M365.1 719.8v10.6M367.5 719.8v10.6M369.8 719.8v10.6M372.2 719.8v10.6M374.5 719.8v10.6M376.9 719.8v10.6M379.2 719.8v10.6M381.6 719.8v10.6M383.9 719.8v10.6M386.3 719.8v10.6M388.6 719.8v10.6" stroke="#d9835f" stroke-width="1.35" fill="none"/>
<path d="M213.5 746.7 c2.5 -1 4.500 0 4.500 2.500 c0 1.500 1 2.300 2.500 2.300 L244 751.5 C248 751.5 250 744.9 257 744.9 C263 744.9 265 750.7 268.2 751.6 C271 750.7 273 745.7 278.500 745.7 L316 745.7 C319 745.7 320 749.2 322 750.2 L322 756.2 C320 757.2 319 760.7 316 760.7 L278.5 760.7 C273 760.7 271 755.7 268.2 754.8 C265 755.7 263 761.5 257 761.5 C250 761.5 248 754.9 244 754.9 L220.5 754.9 c-1.5 0 -2.5 0.8 -2.5 2.3 c0 2.500 -2 3.500 -4.500 2.500 c-1.5 -1 -1.5 -3 -0.5 -4.200 c1 -1.2 1 -3.400 0 -4.600 c-1 -1.2 -1 -3.200 0.5 -4.200z" fill="#e39c7c"/><ellipse cx="256.5" cy="753.2" rx="6.6" ry="5.6" fill="#d9835f"/><rect x="321" y="745.9" width="74.5" height="15.6" rx="6" fill="#e39c7c"/><path d="M313 753.7 c5 -1 7 -4 9 -8 c1.500 -3 5 -3.500 9 -3.500 c-4 1.500 -6 3 -7 6 c-1.500 5 -5 8 -11 5.500z" fill="#e39c7c"/><path d="M314 754.2 c4 -0.5 6 -3 7.500 -6.500 c-0.5 4.500 -3.500 8 -7.500 6.500z" fill="#fbe4d2"/><path d="M327.5 748.4v10.6M329.9 748.4v10.6M332.2 748.4v10.6M334.6 748.4v10.6M336.9 748.4v10.6M339.3 748.4v10.6M341.6 748.4v10.6M344.0 748.4v10.6M346.3 748.4v10.6M348.7 748.4v10.6M351.0 748.4v10.6M353.4 748.4v10.6M355.7 748.4v10.6M358.1 748.4v10.6M360.4 748.4v10.6M362.8 748.4v10.6M365.1 748.4v10.6M367.5 748.4v10.6M369.8 748.4v10.6M372.2 748.4v10.6M374.5 748.4v10.6M376.9 748.4v10.6M379.2 748.4v10.6M381.6 748.4v10.6M383.9 748.4v10.6M386.3 748.4v10.6M388.6 748.4v10.6" stroke="#d9835f" stroke-width="1.35" fill="none"/>
<path d="M226 776.9 L219 776.9 M221 776.9 l-5 -6 l-1 -5 M216 770.9 l-4 -1 M221 776.9 l-6 5.500 l1 5 M215 782.4 l-4 1.500 M219 776.9 l-6 -1 l-3 -2.500 M213 775.9 l-3 3 M222 775.9 l-1 -9 l2 -3 M221 777.9 l1 8 l-2 3" stroke="#e39c7c" stroke-width="2.3" fill="none" stroke-linecap="round" stroke-linejoin="round"/><path d="M222 775.2 L252 775.2 C256 775.2 259 767.9 266.6 767.9 C274 767.9 276 773.9 279.5 774.9 C282 773.9 284 767.9 290 767.9 L326 767.9 C330 767.9 332 770.9 332 773.9 C332 775.9 334 771.9 336 769.4 L336 769.4 C339 768.4 341 768.9 343 770.4 L383 779.9 C386 780.4 386 784.9 383 785.4 L340 785.9 C336 785.9 335 781.9 333 780.9 C331 782.9 330 785.9 326 785.9 L290 785.9 C284 785.9 282 779.9 279.5 778.9 C276 779.9 274 785.9 266.6 785.9 C259 785.9 256 778.6 252 778.6 L222 778.6z" fill="#e39c7c"/><ellipse cx="266.5" cy="776.9" rx="7" ry="6" fill="#d9835f"/><path d="M342.5 770.6V781.4M345.4 771.3V781.4M348.3 771.9V781.4M351.2 772.6V781.4M354.1 773.2V781.4M357.0 773.9V781.4M359.9 774.5V781.4M362.8 775.2V781.4M365.7 775.8V781.4M368.6 776.5V781.4M371.5 777.1V781.4M374.4 777.8V781.4M377.3 778.4V781.4" stroke="#fbe6d6" stroke-width="1.3" fill="none"/><path d="M331 775.4 c2 -1 3.500 -3 4.500 -5.500 c0 3.500 -1.500 6.500 -4.500 5.500z" fill="#fbe4d2"/>
<path d="M213.5 794.6 c2.5 -1 4.500 0 4.500 2.500 c0 1.500 1 2.300 2.500 2.300 L244 799.4 C248 799.4 250 792.8 257 792.8 C263 792.8 265 798.6 268.2 799.5 C271 798.6 273 793.6 278.500 793.6 L316 793.6 C319 793.6 320 797.1 322 798.1 L322 804.1 C320 805.1 319 808.6 316 808.6 L278.5 808.6 C273 808.6 271 803.6 268.2 802.7 C265 803.6 263 809.4 257 809.4 C250 809.4 248 802.8 244 802.8 L220.5 802.8 c-1.5 0 -2.5 0.8 -2.5 2.3 c0 2.500 -2 3.500 -4.500 2.500 c-1.5 -1 -1.5 -3 -0.5 -4.200 c1 -1.2 1 -3.400 0 -4.600 c-1 -1.2 -1 -3.200 0.5 -4.200z" fill="#e39c7c"/><ellipse cx="256.5" cy="801.1" rx="6.6" ry="5.6" fill="#d9835f"/><rect x="321" y="793.8" width="74.5" height="15.6" rx="6" fill="#e39c7c"/><path d="M313 801.6 c5 -1 7 -4 9 -8 c1.500 -3 5 -3.500 9 -3.500 c-4 1.500 -6 3 -7 6 c-1.500 5 -5 8 -11 5.500z" fill="#e39c7c"/><path d="M314 802.1 c4 -0.5 6 -3 7.500 -6.500 c-0.5 4.500 -3.500 8 -7.500 6.500z" fill="#fbe4d2"/><path d="M327.5 796.3v10.6M329.9 796.3v10.6M332.2 796.3v10.6M334.6 796.3v10.6M336.9 796.3v10.6M339.3 796.3v10.6M341.6 796.3v10.6M344.0 796.3v10.6M346.3 796.3v10.6M348.7 796.3v10.6M351.0 796.3v10.6M353.4 796.3v10.6M355.7 796.3v10.6M358.1 796.3v10.6M360.4 796.3v10.6M362.8 796.3v10.6M365.1 796.3v10.6M367.5 796.3v10.6M369.8 796.3v10.6M372.2 796.3v10.6M374.5 796.3v10.6M376.9 796.3v10.6M379.2 796.3v10.6M381.6 796.3v10.6M383.9 796.3v10.6M386.3 796.3v10.6M388.6 796.3v10.6" stroke="#d9835f" stroke-width="1.35" fill="none"/>
<path d="M226 826.9 L219 826.9 M221 826.9 l-5 -6 l-1 -5 M216 820.9 l-4 -1 M221 826.9 l-6 5.500 l1 5 M215 832.4 l-4 1.500 M219 826.9 l-6 -1 l-3 -2.500 M213 825.9 l-3 3 M222 825.9 l-1 -9 l2 -3 M221 827.9 l1 8 l-2 3" stroke="#e39c7c" stroke-width="2.3" fill="none" stroke-linecap="round" stroke-linejoin="round"/><path d="M222 825.2 L252 825.2 C256 825.2 259 817.9 266.6 817.9 C274 817.9 276 823.9 279.5 824.9 C282 823.9 284 817.9 290 817.9 L326 817.9 C330 817.9 332 820.9 332 823.9 C332 825.9 334 821.9 336 819.4 L336 819.4 C339 818.4 341 818.9 343 820.4 L383 829.9 C386 830.4 386 834.9 383 835.4 L340 835.9 C336 835.9 335 831.9 333 830.9 C331 832.9 330 835.9 326 835.9 L290 835.9 C284 835.9 282 829.9 279.5 828.9 C276 829.9 274 835.9 266.6 835.9 C259 835.9 256 828.6 252 828.6 L222 828.6z" fill="#e39c7c"/><ellipse cx="266.5" cy="826.9" rx="7" ry="6" fill="#d9835f"/><path d="M342.5 820.6V831.4M345.4 821.3V831.4M348.3 821.9V831.4M351.2 822.6V831.4M354.1 823.2V831.4M357.0 823.9V831.4M359.9 824.5V831.4M362.8 825.2V831.4M365.7 825.8V831.4M368.6 826.5V831.4M371.5 827.1V831.4M374.4 827.8V831.4M377.3 828.4V831.4" stroke="#fbe6d6" stroke-width="1.3" fill="none"/><path d="M331 825.4 c2 -1 3.500 -3 4.500 -5.500 c0 3.500 -1.500 6.500 -4.500 5.500z" fill="#fbe4d2"/>
<path d="M213.5 844.6 c2.5 -1 4.500 0 4.500 2.500 c0 1.500 1 2.300 2.500 2.300 L244 849.4 C248 849.4 250 842.8 257 842.8 C263 842.8 265 848.6 268.2 849.5 C271 848.6 273 843.6 278.500 843.6 L316 843.6 C319 843.6 320 847.1 322 848.1 L322 854.1 C320 855.1 319 858.6 316 858.6 L278.5 858.6 C273 858.6 271 853.6 268.2 852.7 C265 853.6 263 859.4 257 859.4 C250 859.4 248 852.8 244 852.8 L220.5 852.8 c-1.5 0 -2.5 0.8 -2.5 2.3 c0 2.500 -2 3.500 -4.500 2.500 c-1.5 -1 -1.5 -3 -0.5 -4.200 c1 -1.2 1 -3.400 0 -4.600 c-1 -1.2 -1 -3.200 0.5 -4.200z" fill="#e39c7c"/><ellipse cx="256.5" cy="851.1" rx="6.6" ry="5.6" fill="#d9835f"/><rect x="321" y="843.8" width="74.5" height="15.6" rx="6" fill="#e39c7c"/><path d="M313 851.6 c5 -1 7 -4 9 -8 c1.500 -3 5 -3.500 9 -3.500 c-4 1.500 -6 3 -7 6 c-1.500 5 -5 8 -11 5.500z" fill="#e39c7c"/><path d="M314 852.1 c4 -0.5 6 -3 7.500 -6.500 c-0.5 4.500 -3.500 8 -7.500 6.500z" fill="#fbe4d2"/><path d="M327.5 846.3v10.6M329.9 846.3v10.6M332.2 846.3v10.6M334.6 846.3v10.6M336.9 846.3v10.6M339.3 846.3v10.6M341.6 846.3v10.6M344.0 846.3v10.6M346.3 846.3v10.6M348.7 846.3v10.6M351.0 846.3v10.6M353.4 846.3v10.6M355.7 846.3v10.6M358.1 846.3v10.6M360.4 846.3v10.6M362.8 846.3v10.6M365.1 846.3v10.6M367.5 846.3v10.6M369.8 846.3v10.6M372.2 846.3v10.6M374.5 846.3v10.6M376.9 846.3v10.6M379.2 846.3v10.6M381.6 846.3v10.6M383.9 846.3v10.6M386.3 846.3v10.6M388.6 846.3v10.6" stroke="#d9835f" stroke-width="1.35" fill="none"/>
</g>
</g>

<g id="a_over">
<g clip-path="url(#retclip)" fill="none" stroke="#c1272d" stroke-linecap="round">
<path d="M499.1 639.7C496.8 641.4 490.2 647.6 485.2 650.1C480.2 652.7 475.2 653.2 469.0 654.8C462.8 656.3 453.9 658.3 448.1 659.4C442.3 660.5 438.1 661.2 434.2 661.3C430.3 661.3 427.6 661.0 424.9 659.9C422.2 658.8 419.7 657.2 418.0 654.8C416.2 652.4 415.8 648.6 414.5 645.5C413.1 642.4 411.0 638.9 409.8 636.2C408.7 633.5 407.9 630.4 407.5 629.3" stroke-width="1.95"/>
<path d="M418.0 654.8C416.6 655.7 412.9 658.4 409.8 660.6C406.8 662.7 402.7 666.0 399.4 667.5C396.1 669.1 393.0 670.0 390.1 669.8C387.2 669.7 384.5 668.1 382.0 666.4C379.5 664.6 376.2 660.6 375.1 659.4" stroke-width="1.27"/>
<path d="M419.1 643.2C419.4 641.6 420.6 636.6 420.7 633.9C420.9 631.2 420.0 628.1 419.8 627.0" stroke-width="1.02" opacity="0.85"/>
<path d="M485.2 650.1C483.7 651.9 477.9 656.7 475.9 660.6C474.0 664.4 473.6 668.9 473.6 673.3C473.6 677.8 476.7 683.0 475.9 687.2C475.2 691.5 472.8 695.7 469.0 698.8C465.1 701.9 455.4 704.6 452.7 705.8" stroke-width="1.10"/>
<path d="M485.2 650.1C486.2 652.1 489.5 657.5 491.0 661.7C492.5 666.0 494.2 670.6 494.0 675.6C493.8 680.7 491.1 686.9 489.8 691.9C488.6 696.9 485.6 702.3 486.4 705.8C487.1 709.3 493.1 711.6 494.5 712.7" stroke-width="1.10"/>
<path d="M469.0 654.8C467.2 653.2 460.7 649.0 458.5 645.5C456.4 642.0 457.2 637.0 456.2 633.9C455.3 630.8 453.3 628.1 452.7 627.0" stroke-width="1.27"/>
<path d="M473.6 659.4C470.9 661.0 460.9 664.8 457.4 668.7C453.9 672.6 455.4 678.7 452.7 682.6C450.0 686.5 445.0 688.8 441.2 691.9C437.3 695.0 432.6 698.1 429.6 701.2C426.5 704.2 423.8 708.9 422.6 710.4" stroke-width="1.44"/>
<path d="M436.5 681.4C438.4 681.1 444.2 679.1 448.1 679.1C452.0 679.1 457.8 681.1 459.7 681.4" stroke-width="1.27"/>
<path d="M452.7 682.6C450.8 683.4 443.9 686.1 441.2 687.2C438.4 688.4 437.3 689.2 436.5 689.6" stroke-width="0.85" opacity="0.85"/>
<path d="M475.9 687.2C474.8 687.6 472.1 686.9 469.0 689.6C465.9 692.3 459.3 701.2 457.4 703.5" stroke-width="0.85" opacity="0.85"/>
<path d="M486.4 705.8C485.4 706.2 482.7 706.6 480.6 708.1C478.4 709.7 476.7 713.5 473.6 715.1C470.5 716.6 465.5 717.4 462.0 717.4C458.5 717.4 454.3 715.4 452.7 715.1" stroke-width="0.77" opacity="0.85"/>
<path d="M459.7 717.4C460.1 718.9 460.5 725.9 462.0 726.7C463.6 727.4 467.8 722.8 469.0 722.0" stroke-width="0.77" opacity="0.85"/>
<path d="M499.1 803.2C498.3 802.6 496.7 801.6 494.0 799.7C491.3 797.8 487.1 794.9 482.9 791.6C478.7 788.3 474.0 784.6 469.0 780.0C463.9 775.3 457.0 768.6 452.7 763.8C448.5 758.9 445.8 754.9 443.5 751.0C441.2 747.1 440.4 743.9 438.8 740.6C437.3 737.3 435.7 734.4 434.2 731.3C432.6 728.2 430.5 725.1 429.6 722.0C428.6 718.9 428.6 714.3 428.4 712.7" stroke-width="2.12"/>
<path d="M443.5 751.0C441.5 749.8 435.7 745.8 431.9 744.0C428.0 742.3 424.1 741.1 420.3 740.6C416.4 740.0 411.8 740.4 408.7 740.6C405.6 740.8 402.9 741.5 401.7 741.7" stroke-width="1.36"/>
<path d="M420.3 740.6C418.9 739.0 414.3 734.4 412.2 731.3C410.0 728.2 407.9 724.3 407.5 722.0C407.1 719.7 409.5 718.2 409.8 717.4" stroke-width="1.10"/>
<path d="M443.5 751.0C444.4 748.9 446.9 741.5 449.3 738.2C451.6 735.0 454.1 734.0 457.4 731.3C460.7 728.6 465.9 725.9 469.0 722.0C472.1 718.2 475.0 713.5 475.9 708.1C476.9 702.7 475.0 692.6 474.8 689.6" stroke-width="1.10"/>
<path d="M449.3 738.2C449.1 736.7 448.9 731.7 448.1 729.0C447.3 726.3 445.2 723.2 444.6 722.0" stroke-width="0.85" opacity="0.85"/>
<path d="M494.0 799.7C491.8 800.3 484.7 801.0 480.6 803.2C476.4 805.3 472.5 809.0 469.0 812.4C465.5 815.9 462.4 820.2 459.7 824.0C457.0 827.9 456.6 833.3 452.7 835.6C448.9 837.9 441.5 837.9 436.5 837.9C431.5 837.9 426.5 837.0 422.6 835.6C418.7 834.3 414.9 830.8 413.3 829.8" stroke-width="1.61"/>
<path d="M475.9 799.7C473.6 798.5 466.7 794.5 462.0 792.7C457.4 791.0 452.4 788.7 448.1 789.3C443.9 789.8 440.0 794.9 436.5 796.2C433.0 797.6 430.3 798.1 427.2 797.4C424.1 796.6 421.4 793.3 418.0 791.6C414.5 789.8 409.8 787.9 406.4 786.9C402.9 786.0 398.6 786.0 397.1 785.8" stroke-width="1.61"/>
<path d="M494.0 799.7C492.7 801.8 488.6 808.0 486.4 812.4C484.1 816.9 480.8 821.7 480.6 826.4C480.4 831.0 483.1 837.2 485.2 840.3C487.3 843.4 492.0 844.1 493.3 844.9" stroke-width="1.19"/>
<path d="M482.9 791.6C482.1 789.6 478.6 783.5 478.2 780.0C477.9 776.5 478.6 773.8 480.6 770.7C482.5 767.6 487.7 764.1 489.8 761.4C492.0 758.7 492.7 755.6 493.3 754.5" stroke-width="1.10"/>
<path d="M462.0 817.1C459.7 817.1 452.4 817.3 448.1 817.1C443.9 816.9 439.6 815.9 436.5 815.9C433.4 815.9 433.0 817.3 429.6 817.1C426.1 816.9 418.0 815.1 415.6 814.8" stroke-width="0.94" opacity="0.85"/>
<path d="M452.7 835.6C451.6 837.0 447.9 841.4 445.8 843.7C443.7 846.1 441.0 848.6 440.0 849.5" stroke-width="0.94" opacity="0.85"/>
<path d="M422.6 798.5C422.4 795.8 422.0 786.9 421.4 782.3C420.9 777.7 419.5 772.6 419.1 770.7" stroke-width="0.77" opacity="0.85"/>
<path d="M436.5 768.4C438.1 768.0 444.2 766.5 445.8 766.1" stroke-width="0.85" opacity="0.85"/>
<path d="M380.9 684.9C381.1 685.7 380.9 688.6 382.0 689.6C383.2 690.5 385.7 690.9 387.8 690.7C389.9 690.5 393.6 688.8 394.8 688.4" stroke-width="1.44"/>
<path d="M370.4 706.9C371.4 706.7 374.3 705.1 376.2 705.3C378.2 705.5 380.9 707.1 382.0 708.1C383.2 709.1 383.0 711.0 383.2 711.6" stroke-width="1.61"/>
<path d="M368.1 778.8C369.1 778.4 372.0 777.3 373.9 776.5C375.8 775.7 378.7 774.6 379.7 774.2" stroke-width="0.77" opacity="0.85"/>
<path d="M397.1 726.7C397.7 725.5 399.6 721.2 400.6 719.7C401.5 718.2 402.5 717.8 402.9 717.4" stroke-width="0.85" opacity="0.85"/>
<path d="M435.4 861.1C436.3 861.9 439.0 865.2 441.2 865.8C443.3 866.3 446.2 865.2 448.1 864.6C450.0 864.0 452.0 862.7 452.7 862.3" stroke-width="0.77" opacity="0.85"/>
<path d="M443.5 847.2C442.3 848.0 437.7 851.1 436.5 851.9" stroke-width="0.68" opacity="0.85"/>
<path d="M489.8 749.8C490.4 751.4 492.7 757.6 493.3 759.1" stroke-width="0.68" opacity="0.85"/>
<path d="M494.5 824.0C494.3 825.2 493.5 829.8 493.3 831.0" stroke-width="0.68" opacity="0.85"/>
</g>
<rect x="29.3" y="626" width="467.7" height="242.7" fill="none" stroke="#5e8cad" stroke-width="2"/>
<path d="M150.5 523L280 672M360 585.3L403.9 638.3M408.4 519L430.5 631M479.3 572.1L465.4 631" stroke="#231f20" stroke-width="1.1" fill="none"/>
<path d="M29.3 869.5L309 993.5M497 869.5L318.5 992.5" stroke="#5a87a5" stroke-width="2.1" stroke-dasharray="9.5 6" fill="none"/>
<path d="M257.5 445.6C320 470 368 520 384.5 571" stroke="#231f20" stroke-width="5.2" fill="none"/>
<path transform="translate(389.9,586.6) rotate(69.7)" d="M0 0L-20.5 -8.6L-16.8 0L-20.5 8.6Z" fill="#231f20"/>
</g>

<g id="a_eye">
<defs>
<radialGradient id="vit" cx="228" cy="983" r="78" gradientUnits="userSpaceOnUse"><stop offset="0" stop-color="#f5ccab"/><stop offset="0.55" stop-color="#eeb08b"/><stop offset="1" stop-color="#eaa27c"/></radialGradient>
<linearGradient id="nervefade" x1="318" y1="1018" x2="370" y2="1038" gradientUnits="userSpaceOnUse"><stop offset="0" stop-color="#fff" stop-opacity="1"/><stop offset="0.55" stop-color="#fff" stop-opacity="1"/><stop offset="1" stop-color="#fff" stop-opacity="0"/></linearGradient>
<mask id="nervemask" maskUnits="userSpaceOnUse" x="290" y="990" width="100" height="80"><rect x="290" y="990" width="100" height="80" fill="url(#nervefade)"/></mask>
<clipPath id="globeclip"><circle cx="238.5" cy="995" r="71.500"/></clipPath>
</defs>
<g mask="url(#nervemask)">
<path d="M300 1001 L372 1026 L362 1056 L296 1034Z" fill="#dce8e7"/>
<path d="M304 1008.5 L370 1032 L364 1049.500 L300 1027Z" fill="#f7d49a"/>
<path d="M306 1017 L368 1039.5" stroke="#d9666b" stroke-width="2.2" fill="none"/>
<path d="M305 1020.5 L367 1043" stroke="#8a72ac" stroke-width="2.6" fill="none"/>
</g>
<defs><clipPath id="nocornea"><path d="M184 900 L340 900 L340 1090 L176 1090 L176 1040 L178 1034 C170 1010 172 965 186 940Z"/></clipPath><clipPath id="nocornea2"><path d="M190 900 L340 900 L340 1090 L182 1090 L181 1042 C172 1015 174 965 190 936Z"/></clipPath><clipPath id="antclip"><path d="M197 900 L340 900 L340 1090 L190 1090 L189 1052 C178 1020 178 965 197 930Z"/></clipPath></defs>
<circle cx="238.5" cy="995" r="84" fill="#dce8e7" clip-path="url(#nocornea)"/>
<path d="M186 940.500 C165 950 151.500 968 151.500 990 C151.5 1012 162 1029 178 1037.5 L190 1030 L192 950Z" fill="#a9d5e8"/>
<path d="M187 943.500 C168 953 155 970 155 990 C155 1010 164.500 1026 179 1034 L190 1028 L192 952Z" fill="#e6f2f8"/>
<path d="M188 946.500 C170.500 956 158 971 158 990 C158 1008 166.500 1023 180 1031 L190 1026 L192 954Z" fill="#9ccade"/>
<path d="M189 949.5 C173 958 161 973 161 990 C161 1007 169 1021 181 1028.5 L190 1024 L192 956Z" fill="#92b5c7"/>
<path d="M186 950 C175 960 168.500 975 168.500 990 C168.5 1005 173 1019 181 1029 L190 1024 L190 956Z" fill="#4f8ba6"/>
<circle cx="238.5" cy="995" r="78" fill="#e8959b" clip-path="url(#nocornea2)"/>
<circle cx="238.5" cy="995" r="74.600" fill="#f6d08f" clip-path="url(#yellowclip)"/>
<defs><clipPath id="yellowclip"><path d="M222 900 L340 900 L340 1090 L205 1090 L205 1050 L238 995Z"/></clipPath></defs>
<circle cx="238.5" cy="995" r="72" fill="#e7a07c" clip-path="url(#antclip)"/>
<circle cx="238.5" cy="995" r="71" fill="url(#vit)" clip-path="url(#antclip)"/>
<path d="M306 1008 L314 1011 L309 1027 L302 1024Z" fill="#f7d49a"/>
<g clip-path="url(#globeclip)">
<path d="M192 938 C206 932 214 944 213 960 C212 975 200 984 198.500 988 C202 1000 209 1010 208 1026 C207 1042 200 1054 190 1058 L176 1050 L176 945Z" fill="#b58c7b" opacity="0.8"/>
<path d="M196 950 L210 955 M195 960 L211 964 M196 970 L209 972 M198 1008 L208 1010 M196 1018 L208 1022 M194 1030 L206 1036 M192 1042 L203 1048" stroke="#d2b2a3" stroke-width="1.2" fill="none" opacity="0.8"/>
<path d="M190 938 C194 950 192 962 186 972 L180 976 C176 966 180 950 186 940Z M181 1042 C177 1030 178 1016 182 1006 L188 1010 C193 1022 192 1040 188 1054Z" fill="#e08f94"/>
<path d="M181 962 L191 973 M179 968 L189 979 M180 1020 L190 1008 M182 1028 L192 1014 M185 1034 L194 1020" stroke="#7a6a63" stroke-width="1" fill="none"/>
<path d="M198.4 987.2 L306.8 1016.9" stroke="#c2705f" stroke-width="1" fill="none"/>
<path d="M306 1016 C300 1000 296 985 290 970 C286 958 280 950 277 942 M300 995 C292 985 282 980 270 975 M293 978 C288 968 286 960 285 950 M296 988 C302 975 300 962 296 950 M306 1017 C290 1018 280 1025 272 1038 C264 1050 250 1054 236 1057 M280 1028 C274 1036 266 1040 258 1040 M262 1046 C254 1044 248 1036 244 1030 M250 1052 C242 1050 236 1044 232 1040 M306 1016 C302 1005 304 995 305 985" stroke="#8373ad" stroke-width="0.9" fill="none" opacity="0.9"/>
<path d="M306 1016 C298 1002 294 990 289 974 M306 1017 C292 1020 282 1028 274 1040" stroke="#c7776e" stroke-width="0.8" fill="none" opacity="0.8"/>
</g>
<ellipse cx="186.1" cy="990.3" rx="11.3" ry="22.2" fill="#d5e5ee" stroke="#5f94b8" stroke-width="1.6"/>
<rect x="309.2" y="992.5" width="8.2" height="6.6" fill="#f3d9b0" stroke="#4f7a92" stroke-width="2"/>
<path d="M196 943.5L309 993.5" stroke="#4f7a92" stroke-width="2.1" stroke-dasharray="9.5 6" stroke-dashoffset="0.0" fill="none"/>
<g transform="translate(421.4,872.3) rotate(-28.9) scale(1.000)"><path d="M0 0V38" stroke="#6e7a88" stroke-width="1.6"/><rect x="-3.2" y="38" width="6.4" height="7" rx="1" fill="#c9d5e0" stroke="#8592a3" stroke-width="1.2"/><rect x="-9.2" y="45" width="18.4" height="62" rx="2.500" fill="#c9d5e0" stroke="#8592a3" stroke-width="2"/><rect x="-6.2" y="48" width="12.4" height="26" rx="1" fill="#8592a3"/><path d="M-8 80 h8 M-8 85 h6 M-8 90 h8 M-8 95 h6 M-8 100 h8" stroke="#8592a3" stroke-width="1.5"/><path d="M5 78 v22" stroke="#fff" stroke-width="1.6" opacity="0.7"/><rect x="-13" y="106" width="26" height="4.6" rx="2.3" fill="#8592a3"/><rect x="-1.8" y="110" width="3.6" height="16" fill="#8592a3"/><rect x="-9" y="124" width="18" height="4.6" rx="2.3" fill="#8592a3"/></g>
<path d="M458.9 959.5L428.5 1021.9" stroke="#231f20" stroke-width="1.1" fill="none"/>
</g>

<g id="panel_b">
<circle cx="727.1" cy="311.6" r="115.4" fill="#f6f3f8" stroke="#a98bc9" stroke-width="4.2"/>
<path d="M740.9 335.8Q734.0 339.4 726.8 336.7L721.2 334.6Q714.1 331.9 712.8 326.2L711.8 321.8Q710.5 316.1 715.2 308.4L718.8 302.4Q723.5 294.7 729.4 293.3L733.9 292.3Q739.7 290.9 745.8 297.1L750.6 301.9Q756.7 308.1 755.4 315.8L754.4 321.8Q753.0 329.5 746.2 333.1Z" fill="#c47664" stroke="#a8604f" stroke-width="0.8"/>
<circle cx="743.7" cy="328.3" r="0.7" fill="#a83b2b" opacity="0.6"/><circle cx="733.5" cy="304.6" r="0.7" fill="#a83b2b" opacity="0.6"/><circle cx="719.6" cy="316.3" r="0.7" fill="#a83b2b" opacity="0.6"/><circle cx="723.2" cy="302.8" r="0.7" fill="#a83b2b" opacity="0.6"/><circle cx="740.3" cy="321.0" r="0.7" fill="#a83b2b" opacity="0.6"/><circle cx="739.2" cy="304.8" r="0.7" fill="#a83b2b" opacity="0.6"/><circle cx="733.3" cy="306.9" r="0.7" fill="#a83b2b" opacity="0.6"/><circle cx="718.0" cy="321.1" r="0.7" fill="#a83b2b" opacity="0.6"/><circle cx="734.9" cy="333.3" r="0.7" fill="#a83b2b" opacity="0.6"/><circle cx="740.1" cy="310.5" r="0.7" fill="#a83b2b" opacity="0.6"/><circle cx="746.3" cy="318.1" r="0.7" fill="#a83b2b" opacity="0.6"/><circle cx="744.1" cy="311.2" r="0.7" fill="#a83b2b" opacity="0.6"/>
<circle cx="731.7" cy="315.7" r="7.3" fill="#a83b2b"/>
<path d="M695.1 264.4Q689.4 269.9 681.5 267.0L675.4 264.8Q667.5 261.9 664.9 252.9L662.9 245.9Q660.4 236.9 669.1 231.5L675.8 227.3Q684.5 221.9 690.9 225.2L695.9 227.8Q702.3 231.1 703.4 239.6L704.2 246.3Q705.3 254.8 699.6 260.2Z" fill="#c47664" stroke="#a8604f" stroke-width="0.8"/>
<circle cx="686.6" cy="264.4" r="0.7" fill="#a83b2b" opacity="0.6"/><circle cx="694.8" cy="257.8" r="0.7" fill="#a83b2b" opacity="0.6"/><circle cx="693.7" cy="252.6" r="0.7" fill="#a83b2b" opacity="0.6"/><circle cx="694.9" cy="246.8" r="0.7" fill="#a83b2b" opacity="0.6"/><circle cx="675.7" cy="236.7" r="0.7" fill="#a83b2b" opacity="0.6"/><circle cx="671.1" cy="250.8" r="0.7" fill="#a83b2b" opacity="0.6"/><circle cx="689.9" cy="262.3" r="0.7" fill="#a83b2b" opacity="0.6"/><circle cx="693.4" cy="252.8" r="0.7" fill="#a83b2b" opacity="0.6"/><circle cx="695.3" cy="248.3" r="0.7" fill="#a83b2b" opacity="0.6"/><circle cx="669.7" cy="256.3" r="0.7" fill="#a83b2b" opacity="0.6"/><circle cx="676.7" cy="253.8" r="0.7" fill="#a83b2b" opacity="0.6"/><circle cx="683.1" cy="264.8" r="0.7" fill="#a83b2b" opacity="0.6"/>
<circle cx="682.7" cy="247.3" r="7.3" fill="#a83b2b"/>
<path d="M715.5 234.3Q717.4 224.0 726.9 222.6L734.3 221.5Q743.8 220.1 748.1 227.3L751.5 233.0Q755.9 240.2 754.7 247.6L753.8 253.3Q752.6 260.7 743.1 263.1L735.8 265.0Q726.3 267.4 721.2 262.1L717.2 258.0Q712.1 252.7 714.0 242.3Z" fill="#dd876a" stroke="#c46d50" stroke-width="0.8"/>
<circle cx="742.8" cy="241.0" r="0.7" fill="#c9512f" opacity="0.6"/><circle cx="733.0" cy="232.6" r="0.7" fill="#c9512f" opacity="0.6"/><circle cx="743.0" cy="242.2" r="0.7" fill="#c9512f" opacity="0.6"/><circle cx="744.9" cy="232.6" r="0.7" fill="#c9512f" opacity="0.6"/><circle cx="745.1" cy="228.9" r="0.7" fill="#c9512f" opacity="0.6"/><circle cx="734.7" cy="255.0" r="0.7" fill="#c9512f" opacity="0.6"/><circle cx="730.9" cy="231.9" r="0.7" fill="#c9512f" opacity="0.6"/><circle cx="733.0" cy="254.0" r="0.7" fill="#c9512f" opacity="0.6"/><circle cx="744.4" cy="229.8" r="0.7" fill="#c9512f" opacity="0.6"/><circle cx="737.1" cy="232.5" r="0.7" fill="#c9512f" opacity="0.6"/><circle cx="746.0" cy="236.8" r="0.7" fill="#c9512f" opacity="0.6"/><circle cx="735.4" cy="256.0" r="0.7" fill="#c9512f" opacity="0.6"/>
<circle cx="733.7" cy="241.7" r="7.3" fill="#c9512f"/>
<path d="M773.5 230.9Q782.1 229.8 785.9 234.1L788.8 237.4Q792.6 241.6 792.9 249.9L793.1 256.3Q793.4 264.5 786.8 268.5L781.7 271.5Q775.1 275.4 768.3 272.7L763.0 270.6Q756.3 267.8 753.5 260.8L751.3 255.3Q748.5 248.2 752.0 242.7L754.8 238.4Q758.3 232.9 766.9 231.8Z" fill="#c47664" stroke="#a8604f" stroke-width="0.8"/>
<circle cx="783.0" cy="249.3" r="0.7" fill="#a83b2b" opacity="0.6"/><circle cx="790.9" cy="254.7" r="0.7" fill="#a83b2b" opacity="0.6"/><circle cx="777.2" cy="261.2" r="0.7" fill="#a83b2b" opacity="0.6"/><circle cx="766.0" cy="242.2" r="0.7" fill="#a83b2b" opacity="0.6"/><circle cx="781.6" cy="244.9" r="0.7" fill="#a83b2b" opacity="0.6"/><circle cx="784.6" cy="249.0" r="0.7" fill="#a83b2b" opacity="0.6"/><circle cx="759.1" cy="241.7" r="0.7" fill="#a83b2b" opacity="0.6"/><circle cx="766.2" cy="236.1" r="0.7" fill="#a83b2b" opacity="0.6"/><circle cx="770.6" cy="242.9" r="0.7" fill="#a83b2b" opacity="0.6"/><circle cx="783.6" cy="242.3" r="0.7" fill="#a83b2b" opacity="0.6"/><circle cx="769.1" cy="261.9" r="0.7" fill="#a83b2b" opacity="0.6"/><circle cx="781.4" cy="240.4" r="0.7" fill="#a83b2b" opacity="0.6"/>
<circle cx="774.4" cy="252.8" r="7.3" fill="#a83b2b"/>
<path d="M653.5 297.8Q644.9 299.8 639.3 293.3L635.0 288.3Q629.4 281.7 633.2 273.4L636.1 267.0Q639.8 258.6 648.2 258.0L654.6 257.4Q663.0 256.8 667.4 263.2L670.8 268.3Q675.2 274.7 672.9 281.7L671.1 287.2Q668.8 294.2 660.2 296.3Z" fill="#dd876a" stroke="#c46d50" stroke-width="0.8"/>
<circle cx="641.4" cy="273.0" r="0.7" fill="#c9512f" opacity="0.6"/><circle cx="659.5" cy="267.0" r="0.7" fill="#c9512f" opacity="0.6"/><circle cx="640.9" cy="275.8" r="0.7" fill="#c9512f" opacity="0.6"/><circle cx="637.7" cy="285.6" r="0.7" fill="#c9512f" opacity="0.6"/><circle cx="663.3" cy="284.5" r="0.7" fill="#c9512f" opacity="0.6"/><circle cx="654.9" cy="288.6" r="0.7" fill="#c9512f" opacity="0.6"/><circle cx="665.0" cy="276.5" r="0.7" fill="#c9512f" opacity="0.6"/><circle cx="643.0" cy="268.6" r="0.7" fill="#c9512f" opacity="0.6"/><circle cx="651.4" cy="263.7" r="0.7" fill="#c9512f" opacity="0.6"/><circle cx="659.2" cy="287.9" r="0.7" fill="#c9512f" opacity="0.6"/><circle cx="639.5" cy="285.4" r="0.7" fill="#c9512f" opacity="0.6"/><circle cx="643.0" cy="272.5" r="0.7" fill="#c9512f" opacity="0.6"/>
<circle cx="653.5" cy="276.0" r="7.3" fill="#c9512f"/>
<path d="M698.6 301.0Q690.8 306.1 684.3 302.6L679.2 299.8Q672.7 296.2 670.4 289.0L668.6 283.4Q666.3 276.3 673.1 270.4L678.3 265.7Q685.1 259.8 693.9 262.9L700.8 265.4Q709.6 268.5 710.6 277.0L711.4 283.5Q712.4 291.9 704.6 297.1Z" fill="#d57d60" stroke="#bb6649" stroke-width="0.8"/>
<circle cx="682.7" cy="299.3" r="0.7" fill="#bf4627" opacity="0.6"/><circle cx="707.9" cy="279.2" r="0.7" fill="#bf4627" opacity="0.6"/><circle cx="695.3" cy="267.2" r="0.7" fill="#bf4627" opacity="0.6"/><circle cx="705.8" cy="283.6" r="0.7" fill="#bf4627" opacity="0.6"/><circle cx="691.4" cy="299.2" r="0.7" fill="#bf4627" opacity="0.6"/><circle cx="678.4" cy="289.4" r="0.7" fill="#bf4627" opacity="0.6"/><circle cx="677.5" cy="279.9" r="0.7" fill="#bf4627" opacity="0.6"/><circle cx="699.5" cy="267.8" r="0.7" fill="#bf4627" opacity="0.6"/><circle cx="682.0" cy="297.0" r="0.7" fill="#bf4627" opacity="0.6"/><circle cx="700.8" cy="275.5" r="0.7" fill="#bf4627" opacity="0.6"/><circle cx="700.8" cy="293.0" r="0.7" fill="#bf4627" opacity="0.6"/><circle cx="692.4" cy="269.9" r="0.7" fill="#bf4627" opacity="0.6"/>
<circle cx="690.3" cy="284.2" r="7.3" fill="#bf4627"/>
<path d="M718.1 297.8Q714.0 291.8 716.2 283.9L718.0 277.8Q720.3 269.8 725.7 266.3L730.0 263.6Q735.5 260.0 741.4 262.8L746.0 264.9Q752.0 267.7 753.9 276.2L755.3 282.8Q757.2 291.2 753.7 297.0L751.1 301.6Q747.6 307.3 739.7 307.7L733.5 308.0Q725.5 308.3 721.4 302.4Z" fill="#c47664" stroke="#a8604f" stroke-width="0.8"/>
<circle cx="750.5" cy="289.3" r="0.7" fill="#a83b2b" opacity="0.6"/><circle cx="743.8" cy="295.9" r="0.7" fill="#a83b2b" opacity="0.6"/><circle cx="728.0" cy="271.4" r="0.7" fill="#a83b2b" opacity="0.6"/><circle cx="722.8" cy="289.5" r="0.7" fill="#a83b2b" opacity="0.6"/><circle cx="748.5" cy="287.1" r="0.7" fill="#a83b2b" opacity="0.6"/><circle cx="724.1" cy="297.6" r="0.7" fill="#a83b2b" opacity="0.6"/><circle cx="720.6" cy="281.0" r="0.7" fill="#a83b2b" opacity="0.6"/><circle cx="726.0" cy="289.9" r="0.7" fill="#a83b2b" opacity="0.6"/><circle cx="745.4" cy="272.4" r="0.7" fill="#a83b2b" opacity="0.6"/><circle cx="728.7" cy="292.5" r="0.7" fill="#a83b2b" opacity="0.6"/><circle cx="722.3" cy="284.6" r="0.7" fill="#a83b2b" opacity="0.6"/><circle cx="737.7" cy="271.4" r="0.7" fill="#a83b2b" opacity="0.6"/>
<circle cx="735.7" cy="285.8" r="7.3" fill="#a83b2b"/>
<path d="M782.2 291.5Q782.7 284.0 789.0 278.6L794.0 274.4Q800.3 269.1 809.8 273.9L817.2 277.6Q826.7 282.5 827.1 289.3L827.4 294.7Q827.7 301.6 820.7 307.0L815.2 311.3Q808.1 316.7 798.5 312.5L791.0 309.1Q781.4 304.9 781.9 297.4Z" fill="#d57d60" stroke="#bb6649" stroke-width="0.8"/>
<circle cx="793.5" cy="294.1" r="0.7" fill="#bf4627" opacity="0.6"/><circle cx="797.6" cy="285.4" r="0.7" fill="#bf4627" opacity="0.6"/><circle cx="787.4" cy="296.9" r="0.7" fill="#bf4627" opacity="0.6"/><circle cx="815.1" cy="299.9" r="0.7" fill="#bf4627" opacity="0.6"/><circle cx="800.5" cy="285.2" r="0.7" fill="#bf4627" opacity="0.6"/><circle cx="814.3" cy="307.4" r="0.7" fill="#bf4627" opacity="0.6"/><circle cx="816.7" cy="292.4" r="0.7" fill="#bf4627" opacity="0.6"/><circle cx="811.6" cy="310.4" r="0.7" fill="#bf4627" opacity="0.6"/><circle cx="798.0" cy="306.6" r="0.7" fill="#bf4627" opacity="0.6"/><circle cx="793.4" cy="284.7" r="0.7" fill="#bf4627" opacity="0.6"/><circle cx="820.1" cy="284.9" r="0.7" fill="#bf4627" opacity="0.6"/><circle cx="799.1" cy="278.5" r="0.7" fill="#bf4627" opacity="0.6"/>
<circle cx="805.8" cy="294.3" r="7.3" fill="#bf4627"/>
<path d="M634.1 327.9Q626.4 322.5 628.9 314.1L630.8 307.6Q633.3 299.3 641.7 297.2L648.3 295.5Q656.8 293.4 663.2 298.7L668.2 302.9Q674.6 308.2 671.4 316.9L669.0 323.6Q665.9 332.3 659.3 334.2L654.2 335.6Q647.7 337.5 640.0 332.1Z" fill="#c47664" stroke="#a8604f" stroke-width="0.8"/>
<circle cx="664.9" cy="319.2" r="0.7" fill="#a83b2b" opacity="0.6"/><circle cx="664.6" cy="317.0" r="0.7" fill="#a83b2b" opacity="0.6"/><circle cx="662.6" cy="313.7" r="0.7" fill="#a83b2b" opacity="0.6"/><circle cx="665.6" cy="313.0" r="0.7" fill="#a83b2b" opacity="0.6"/><circle cx="657.9" cy="309.3" r="0.7" fill="#a83b2b" opacity="0.6"/><circle cx="649.8" cy="301.8" r="0.7" fill="#a83b2b" opacity="0.6"/><circle cx="641.3" cy="307.9" r="0.7" fill="#a83b2b" opacity="0.6"/><circle cx="665.8" cy="313.2" r="0.7" fill="#a83b2b" opacity="0.6"/><circle cx="648.7" cy="300.4" r="0.7" fill="#a83b2b" opacity="0.6"/><circle cx="635.5" cy="310.7" r="0.7" fill="#a83b2b" opacity="0.6"/><circle cx="640.6" cy="306.0" r="0.7" fill="#a83b2b" opacity="0.6"/><circle cx="660.1" cy="326.2" r="0.7" fill="#a83b2b" opacity="0.6"/>
<circle cx="650.1" cy="315.7" r="7.3" fill="#a83b2b"/>
<path d="M682.0 332.0Q677.0 325.7 679.3 320.2L681.1 316.0Q683.4 310.5 690.0 306.7L695.2 303.8Q701.9 300.0 709.6 304.0L715.6 307.2Q723.2 311.3 723.7 318.3L724.0 323.8Q724.5 330.8 718.8 335.7L714.4 339.6Q708.8 344.5 702.3 344.0L697.3 343.6Q690.8 343.1 685.8 336.8Z" fill="#d57d60" stroke="#bb6649" stroke-width="0.8"/>
<circle cx="687.0" cy="325.3" r="0.7" fill="#bf4627" opacity="0.6"/><circle cx="687.3" cy="332.9" r="0.7" fill="#bf4627" opacity="0.6"/><circle cx="719.3" cy="325.0" r="0.7" fill="#bf4627" opacity="0.6"/><circle cx="696.8" cy="307.5" r="0.7" fill="#bf4627" opacity="0.6"/><circle cx="705.0" cy="312.9" r="0.7" fill="#bf4627" opacity="0.6"/><circle cx="707.7" cy="309.6" r="0.7" fill="#bf4627" opacity="0.6"/><circle cx="711.6" cy="336.5" r="0.7" fill="#bf4627" opacity="0.6"/><circle cx="687.1" cy="328.8" r="0.7" fill="#bf4627" opacity="0.6"/><circle cx="714.6" cy="330.7" r="0.7" fill="#bf4627" opacity="0.6"/><circle cx="711.1" cy="323.4" r="0.7" fill="#bf4627" opacity="0.6"/><circle cx="708.9" cy="328.9" r="0.7" fill="#bf4627" opacity="0.6"/><circle cx="692.2" cy="317.3" r="0.7" fill="#bf4627" opacity="0.6"/>
<circle cx="700.6" cy="324.0" r="7.3" fill="#bf4627"/>
<path d="M776.8 331.0Q768.3 336.0 761.6 330.0L756.5 325.2Q749.8 319.1 750.4 312.6L750.7 307.5Q751.3 301.0 758.1 295.8L763.4 291.8Q770.2 286.6 777.8 290.6L783.7 293.8Q791.2 297.9 791.5 306.6L791.7 313.4Q791.9 322.1 783.4 327.1Z" fill="#d57d60" stroke="#bb6649" stroke-width="0.8"/>
<circle cx="764.8" cy="324.5" r="0.7" fill="#bf4627" opacity="0.6"/><circle cx="789.1" cy="312.4" r="0.7" fill="#bf4627" opacity="0.6"/><circle cx="779.1" cy="295.3" r="0.7" fill="#bf4627" opacity="0.6"/><circle cx="770.4" cy="322.3" r="0.7" fill="#bf4627" opacity="0.6"/><circle cx="781.4" cy="315.1" r="0.7" fill="#bf4627" opacity="0.6"/><circle cx="786.4" cy="313.8" r="0.7" fill="#bf4627" opacity="0.6"/><circle cx="760.5" cy="323.7" r="0.7" fill="#bf4627" opacity="0.6"/><circle cx="772.1" cy="299.4" r="0.7" fill="#bf4627" opacity="0.6"/><circle cx="777.4" cy="322.0" r="0.7" fill="#bf4627" opacity="0.6"/><circle cx="785.9" cy="314.3" r="0.7" fill="#bf4627" opacity="0.6"/><circle cx="775.1" cy="321.1" r="0.7" fill="#bf4627" opacity="0.6"/><circle cx="781.2" cy="303.1" r="0.7" fill="#bf4627" opacity="0.6"/>
<circle cx="772.6" cy="312.9" r="7.3" fill="#bf4627"/>
<path d="M820.4 346.3Q819.1 354.5 810.1 356.4L803.1 357.9Q794.0 359.8 788.5 355.9L784.2 352.9Q778.7 349.0 780.5 339.4L781.9 331.9Q783.7 322.3 791.7 319.6L798.0 317.5Q806.0 314.7 812.0 320.8L816.7 325.6Q822.7 331.7 821.4 339.9Z" fill="#c47664" stroke="#a8604f" stroke-width="0.8"/>
<circle cx="804.9" cy="328.7" r="0.7" fill="#a83b2b" opacity="0.6"/><circle cx="814.8" cy="330.6" r="0.7" fill="#a83b2b" opacity="0.6"/><circle cx="800.4" cy="350.6" r="0.7" fill="#a83b2b" opacity="0.6"/><circle cx="811.1" cy="340.0" r="0.7" fill="#a83b2b" opacity="0.6"/><circle cx="791.7" cy="324.8" r="0.7" fill="#a83b2b" opacity="0.6"/><circle cx="806.7" cy="351.9" r="0.7" fill="#a83b2b" opacity="0.6"/><circle cx="790.9" cy="347.4" r="0.7" fill="#a83b2b" opacity="0.6"/><circle cx="806.6" cy="328.2" r="0.7" fill="#a83b2b" opacity="0.6"/><circle cx="806.9" cy="349.2" r="0.7" fill="#a83b2b" opacity="0.6"/><circle cx="813.5" cy="336.0" r="0.7" fill="#a83b2b" opacity="0.6"/><circle cx="806.7" cy="328.9" r="0.7" fill="#a83b2b" opacity="0.6"/><circle cx="801.4" cy="321.1" r="0.7" fill="#a83b2b" opacity="0.6"/>
<circle cx="800.6" cy="336.9" r="7.3" fill="#a83b2b"/>
<path d="M697.3 334.3Q702.6 338.6 702.3 346.9L702.0 353.4Q701.7 361.8 695.3 366.0L690.3 369.2Q683.9 373.3 674.9 369.5L667.8 366.5Q658.7 362.7 658.6 354.2L658.6 347.6Q658.5 339.1 661.8 334.5L664.3 331.0Q667.6 326.5 675.0 326.5L680.7 326.6Q688.0 326.7 693.3 331.0Z" fill="#c47664" stroke="#a8604f" stroke-width="0.8"/>
<circle cx="684.1" cy="362.0" r="0.7" fill="#a83b2b" opacity="0.6"/><circle cx="693.0" cy="358.9" r="0.7" fill="#a83b2b" opacity="0.6"/><circle cx="684.3" cy="360.5" r="0.7" fill="#a83b2b" opacity="0.6"/><circle cx="681.8" cy="331.2" r="0.7" fill="#a83b2b" opacity="0.6"/><circle cx="666.4" cy="340.8" r="0.7" fill="#a83b2b" opacity="0.6"/><circle cx="663.4" cy="344.5" r="0.7" fill="#a83b2b" opacity="0.6"/><circle cx="682.0" cy="363.2" r="0.7" fill="#a83b2b" opacity="0.6"/><circle cx="669.0" cy="340.4" r="0.7" fill="#a83b2b" opacity="0.6"/><circle cx="671.4" cy="352.0" r="0.7" fill="#a83b2b" opacity="0.6"/><circle cx="667.7" cy="343.3" r="0.7" fill="#a83b2b" opacity="0.6"/><circle cx="670.0" cy="339.3" r="0.7" fill="#a83b2b" opacity="0.6"/><circle cx="693.0" cy="341.1" r="0.7" fill="#a83b2b" opacity="0.6"/>
<circle cx="680.0" cy="347.4" r="7.3" fill="#a83b2b"/>
<path d="M724.4 368.7Q714.9 367.2 711.9 359.3L709.6 353.2Q706.6 345.3 712.7 338.7L717.4 333.5Q723.4 326.9 731.2 329.0L737.2 330.7Q745.0 332.8 748.0 339.5L750.3 344.7Q753.2 351.4 749.0 358.5L745.7 364.1Q741.5 371.2 731.9 369.8Z" fill="#dd876a" stroke="#c46d50" stroke-width="0.8"/>
<circle cx="717.6" cy="355.7" r="0.7" fill="#c9512f" opacity="0.6"/><circle cx="716.6" cy="343.9" r="0.7" fill="#c9512f" opacity="0.6"/><circle cx="735.5" cy="332.2" r="0.7" fill="#c9512f" opacity="0.6"/><circle cx="722.4" cy="334.6" r="0.7" fill="#c9512f" opacity="0.6"/><circle cx="718.0" cy="343.4" r="0.7" fill="#c9512f" opacity="0.6"/><circle cx="739.4" cy="333.7" r="0.7" fill="#c9512f" opacity="0.6"/><circle cx="716.8" cy="342.6" r="0.7" fill="#c9512f" opacity="0.6"/><circle cx="745.5" cy="355.4" r="0.7" fill="#c9512f" opacity="0.6"/><circle cx="720.7" cy="337.6" r="0.7" fill="#c9512f" opacity="0.6"/><circle cx="737.3" cy="361.2" r="0.7" fill="#c9512f" opacity="0.6"/><circle cx="721.8" cy="342.6" r="0.7" fill="#c9512f" opacity="0.6"/><circle cx="716.7" cy="357.3" r="0.7" fill="#c9512f" opacity="0.6"/>
<circle cx="730.8" cy="349.6" r="7.3" fill="#c9512f"/>
<path d="M747.3 361.2Q743.0 351.7 748.0 345.9L751.8 341.4Q756.8 335.6 766.8 337.1L774.5 338.2Q784.5 339.7 786.5 346.3L788.1 351.4Q790.2 357.9 785.9 366.1L782.6 372.5Q778.4 380.7 770.0 379.8L763.4 379.1Q755.0 378.2 750.7 368.7Z" fill="#dd876a" stroke="#c46d50" stroke-width="0.8"/>
<circle cx="759.1" cy="364.1" r="0.7" fill="#c9512f" opacity="0.6"/><circle cx="772.9" cy="368.1" r="0.7" fill="#c9512f" opacity="0.6"/><circle cx="768.7" cy="346.8" r="0.7" fill="#c9512f" opacity="0.6"/><circle cx="756.8" cy="368.2" r="0.7" fill="#c9512f" opacity="0.6"/><circle cx="751.1" cy="353.8" r="0.7" fill="#c9512f" opacity="0.6"/><circle cx="755.2" cy="358.9" r="0.7" fill="#c9512f" opacity="0.6"/><circle cx="759.7" cy="350.9" r="0.7" fill="#c9512f" opacity="0.6"/><circle cx="778.1" cy="350.8" r="0.7" fill="#c9512f" opacity="0.6"/><circle cx="756.5" cy="367.8" r="0.7" fill="#c9512f" opacity="0.6"/><circle cx="776.6" cy="370.2" r="0.7" fill="#c9512f" opacity="0.6"/><circle cx="775.1" cy="348.2" r="0.7" fill="#c9512f" opacity="0.6"/><circle cx="781.0" cy="353.5" r="0.7" fill="#c9512f" opacity="0.6"/>
<circle cx="768.8" cy="357.9" r="7.3" fill="#c9512f"/>
<path d="M745.9 399.6Q740.3 404.3 734.3 404.6L729.5 404.8Q723.4 405.1 718.0 398.8L713.8 393.9Q708.4 387.6 710.3 380.6L711.8 375.2Q713.8 368.2 719.6 364.5L724.2 361.6Q730.0 357.9 737.3 360.9L743.0 363.3Q750.4 366.3 752.3 375.3L753.8 382.2Q755.8 391.2 750.2 395.9Z" fill="#c47664" stroke="#a8604f" stroke-width="0.8"/>
<circle cx="727.6" cy="366.0" r="0.7" fill="#a83b2b" opacity="0.6"/><circle cx="749.2" cy="384.4" r="0.7" fill="#a83b2b" opacity="0.6"/><circle cx="735.9" cy="374.0" r="0.7" fill="#a83b2b" opacity="0.6"/><circle cx="737.4" cy="367.4" r="0.7" fill="#a83b2b" opacity="0.6"/><circle cx="738.6" cy="399.0" r="0.7" fill="#a83b2b" opacity="0.6"/><circle cx="723.2" cy="392.5" r="0.7" fill="#a83b2b" opacity="0.6"/><circle cx="723.1" cy="370.1" r="0.7" fill="#a83b2b" opacity="0.6"/><circle cx="731.5" cy="371.1" r="0.7" fill="#a83b2b" opacity="0.6"/><circle cx="721.6" cy="383.6" r="0.7" fill="#a83b2b" opacity="0.6"/><circle cx="729.7" cy="395.9" r="0.7" fill="#a83b2b" opacity="0.6"/><circle cx="742.6" cy="388.1" r="0.7" fill="#a83b2b" opacity="0.6"/><circle cx="736.0" cy="372.9" r="0.7" fill="#a83b2b" opacity="0.6"/>
<circle cx="731.6" cy="381.2" r="7.3" fill="#a83b2b"/>
<path d="M717.2 452.7 C696 505 678 590 689 659" stroke="#231f20" stroke-width="4.5" fill="none"/>
<path transform="translate(690.5,676.0) rotate(87.0)" d="M0 0L-20.9 -8.6L-16.8 0L-20.9 8.6Z" fill="#231f20"/>
<path d="M841.6 394.4 C868 418 898 452 913.500 491" stroke="#231f20" stroke-width="4.5" fill="none"/>
<path transform="translate(919.2,506.8) rotate(66.0)" d="M0 0L-20.9 -8.6L-16.8 0L-20.9 8.6Z" fill="#231f20"/>
<path d="M926.5 683.4 V816" stroke="#231f20" stroke-width="4.5" fill="none"/>
<path transform="translate(926.5,832.5) rotate(90.0)" d="M0 0L-20.9 -8.6L-16.8 0L-20.9 8.6Z" fill="#231f20"/>
<rect x="830" y="581" width="190.500" height="73.5" rx="36.75" fill="#f7f7f7" stroke="#d2d2d3" stroke-width="3"/>
<path d="M868 606.500 H983 M868 647 H983" stroke="#fff" stroke-width="2.500" stroke-linecap="round"/>
<path d="M864.8 617.8 H985.7" stroke="#d6d6d6" stroke-width="7" stroke-linecap="round"/>
<g fill="none" stroke="#8c97d8" stroke-linecap="round">
<path d="M698.2 813.7C700.6 817.1 709.0 827.5 712.5 834.4C715.9 841.3 717.8 848.5 718.9 855.0C720.0 861.6 718.9 870.5 718.9 873.6" stroke-width="4.6"/>
<path d="M715.0 834.9C719.3 833.6 734.0 830.6 740.9 827.1C747.8 823.7 752.7 817.8 756.4 814.2C760.0 810.6 761.8 806.9 762.8 805.4" stroke-width="3.4"/>
<path d="M725.4 836.4C726.7 838.2 731.0 842.8 733.1 847.3C735.3 851.8 737.4 860.6 738.3 863.3" stroke-width="2.4"/>
<path d="M709.9 817.6C712.0 817.0 719.3 815.4 722.8 814.2C726.2 813.0 729.3 811.0 730.5 810.3" stroke-width="2"/>
<path d="M711.2 823.0C712.5 822.7 716.5 822.1 718.9 821.4C721.3 820.8 724.3 819.3 725.4 818.9" stroke-width="2"/>
</g>
<path d="M611.7 718.1C620.8 715.9 637.5 715.9 650.4 716.0C663.4 716.1 680.2 717.6 689.2 718.6C698.2 719.6 698.2 722.2 704.7 722.2C711.2 722.2 717.6 718.9 728.0 718.6C738.3 718.3 756.0 720.2 766.7 720.7C777.5 721.1 786.1 720.3 792.6 721.2C799.0 722.0 802.8 724.0 805.5 725.8C808.1 727.7 810.7 728.0 808.6 732.3C806.4 736.6 797.8 745.3 792.6 751.7C787.3 758.0 782.2 763.8 777.1 770.3C771.9 776.7 767.6 785.1 761.6 790.4C755.5 795.7 748.6 799.1 740.9 802.1C733.1 805.1 721.1 806.9 715.0 808.5C709.0 810.1 708.1 810.7 704.7 811.6C701.3 812.6 701.3 810.9 694.4 814.2C687.5 817.6 675.0 826.2 663.4 831.8C651.7 837.4 635.4 842.2 624.6 847.8C613.8 853.4 605.0 861.4 598.8 865.4C592.5 869.3 590.2 871.4 587.1 871.6C584.0 871.8 581.5 871.1 580.2 866.7C578.8 862.2 579.0 851.8 579.1 844.7C579.2 837.6 581.1 833.1 580.7 824.0C580.3 815.0 576.5 802.3 576.8 790.4C577.1 778.6 579.6 763.2 582.7 753.0C585.9 742.7 590.8 734.8 595.7 728.9C600.5 723.1 602.5 720.2 611.7 718.1Z" fill="#b07e76" stroke="#a4726c" stroke-width="1"/>
<path d="M580.2 866.7C580.6 868.3 584.0 871.8 587.1 871.6C590.2 871.4 592.5 869.3 598.8 865.4C605.0 861.4 622.4 850.2 624.6 847.8C626.8 845.4 616.8 849.1 611.7 851.2C606.5 853.2 598.1 858.5 593.6 860.2C589.1 861.9 586.8 860.4 584.5 861.5C582.3 862.6 579.7 865.0 580.2 866.7Z" fill="#9b6a65" opacity="0.8"/>
<path d="M594.9 774.9C595.1 771.1 594.0 758.8 596.2 751.7C598.3 744.6 602.6 736.6 607.8 732.3C613.0 728.0 620.9 727.1 627.2 725.8C633.4 724.6 642.3 725.0 645.3 724.8" stroke="#caa59f" stroke-width="3" fill="none" stroke-linecap="round" opacity="0.6"/>
<path d="M720.2 741.3C721.1 739.8 722.4 734.1 725.4 732.3C728.4 730.5 736.1 730.8 738.3 730.5" stroke="#caa59f" stroke-width="2.6" fill="none" stroke-linecap="round" opacity="0.6"/>
<path d="M594.4 794.3C594.5 795.8 595.0 801.9 595.1 803.4" stroke="#c9a39d" stroke-width="2" fill="none" stroke-linecap="round" opacity="0.8"/>
<path d="M708.6 725.8C708.0 734.5 704.6 764.2 705.2 777.5C705.9 790.9 711.2 801.2 712.5 805.9" stroke="#a4726c" stroke-width="3" fill="none" opacity="0.5"/>
<path d="M705.2 722.7C704.6 727.6 702.3 742.5 701.6 751.7C700.9 760.8 700.3 768.0 700.8 777.5C701.3 787.0 703.4 800.4 704.7 808.5C706.0 816.6 707.9 823.2 708.6 826.1" stroke="#c9a27e" stroke-width="3.4" fill="none" stroke-linecap="round"/>
<path d="M705.2 722.7C704.6 727.6 702.3 742.5 701.6 751.7C700.9 760.8 700.3 768.0 700.8 777.5C701.3 787.0 703.4 800.4 704.7 808.5C706.0 816.6 707.9 823.2 708.6 826.1" stroke="#ecc9a6" stroke-width="2" fill="none" stroke-linecap="round"/>
<path d="M684.0 717.6C686.2 718.0 693.4 719.3 697.0 720.2C700.5 721.0 701.8 722.8 705.2 722.7C708.7 722.7 713.0 720.4 717.6 719.6C722.3 718.9 730.5 718.3 733.1 718.1" stroke="#e2bb96" stroke-width="1.6" fill="none" stroke-linecap="round"/>
<g transform="translate(708.1,830.5) rotate(18.2)"><path d="M0 0V35.6" stroke="#6e6678" stroke-width="1.5"/><g transform="translate(0,35.6) scale(0.999)"><rect x="-3.6" y="0" width="7.2" height="8" rx="1" fill="#dad4e1" stroke="#8b8294" stroke-width="1.4"/><rect x="-9.4" y="8" width="18.8" height="60" rx="2.5" fill="#dad4e1" stroke="#8b8294" stroke-width="2.1"/><rect x="-6" y="11.5" width="12" height="24" rx="1" fill="#9c90a5"/><path d="M-8.0 41 h8.0 M-8.0 46 h6.0 M-8.0 51 h8.0 M-8.0 56 h6.0 M-8.0 61 h8.0" stroke="#8b8294" stroke-width="1.5"/><path d="M5.0 40 v22" stroke="#fff" stroke-width="1.6" opacity="0.7"/><rect x="-13.5" y="68" width="27" height="4.8" rx="2.4" fill="#8b8294"/><rect x="-1.9" y="72" width="3.8" height="16" fill="#8b8294"/><rect x="-9.5" y="86.5" width="19" height="4.8" rx="2.4" fill="#8b8294"/></g></g>
<path d="M638.8 906.7L676.3 897.2" stroke="#231f20" stroke-width="1.1"/>
<path d="M761.9 959.7V1032.5" stroke="#6b6570" stroke-width="1.4"/>
<defs><clipPath id="skinclip"><rect x="825.7" y="870.3" width="195.2" height="156.4"/></clipPath></defs>
<polygon points="825.7,870.3 849.6,857.3 996.7,857.3 1020.9,870.3" fill="#e9c4c3" stroke="#d9adad" stroke-width="0.7"/>
<g clip-path="url(#skinclip)">
<rect x="825.7" y="870.3" width="195.2" height="156.4" fill="#efd1cc"/>
<path d="M825.7 870.3 H1020.9 V879 q-6 3.5 -12 0 q-6 -1.5 -12 0 q-6 3.5 -12 0 q-6 -1.5 -12 0 q-6 3.5 -12 0 q-6 -1.5 -12 0 q-6 3.5 -12 0 q-6 -1.5 -12 0 q-6 3.5 -12 0 q-6 -1.5 -12 0 q-6 3.5 -12 0 q-6 -1.5 -12 0 q-6 3.5 -12 0 q-6 -1.5 -12 0 q-6 3.5 -12 0 q-6 -1.5 -12 0 q-6 3.5 -12 0 V870.3Z" fill="#e8beb7"/>
<rect x="825.7" y="870.3" width="195.2" height="2.2" fill="#f9ddd9"/>
<rect x="825.7" y="990" width="195.2" height="40" fill="#eda4a6"/>
<path d="M827 1003.5h22M860 1003h10M930 1008h30M968 1008h6M984 1008h34M827 1015.5h72" stroke="#d98e92" stroke-width="0.8" fill="none"/>
<path d="M825.7 941 C840 934 850 940 862 938 C875 934 890 942 905 946 C915 940 930 940 945 942 C960 938 975 944 990 940 C1000 938 1010 942 1020.9 943 V996 C1005 1000 990 994 975 999 C960 1002 945 994 930 997 C915 992 900 990 885 992 C870 998 850 992 825.7 996Z" fill="#fbe3b3"/>
<ellipse cx="947.8" cy="980.8" rx="8.8" ry="7.3" fill="#fbe0ab" transform="rotate(19 947.8 980.8)"/>
<ellipse cx="1007.4" cy="941.6" rx="6.8" ry="7.3" fill="#fdebc9" transform="rotate(12 1007.4 941.6)"/>
<ellipse cx="1003.2" cy="946.2" rx="6.8" ry="4.5" fill="#fdebc9" transform="rotate(4 1003.2 946.2)"/>
<ellipse cx="938.0" cy="940.7" rx="5.3" ry="4.6" fill="#fbe0ab" transform="rotate(33 938.0 940.7)"/>
<ellipse cx="976.2" cy="948.8" rx="8.8" ry="4.1" fill="#fdebc9" transform="rotate(9 976.2 948.8)"/>
<ellipse cx="848.9" cy="940.1" rx="9.2" ry="4.3" fill="#fdebc9" transform="rotate(-23 848.9 940.1)"/>
<ellipse cx="1019.4" cy="988.0" rx="5.7" ry="7.3" fill="#fbe0ab" transform="rotate(3 1019.4 988.0)"/>
<ellipse cx="958.7" cy="951.3" rx="9.6" ry="6.3" fill="#fdebc9" transform="rotate(37 958.7 951.3)"/>
<ellipse cx="1001.7" cy="956.4" rx="6.2" ry="4.2" fill="#fdebc9" transform="rotate(-28 1001.7 956.4)"/>
<ellipse cx="836.7" cy="956.6" rx="7.6" ry="3.5" fill="#fbe0ab" transform="rotate(14 836.7 956.6)"/>
<ellipse cx="891.0" cy="957.0" rx="8.9" ry="5.4" fill="#fdebc9" transform="rotate(-15 891.0 957.0)"/>
<ellipse cx="919.6" cy="978.8" rx="4.3" ry="7.4" fill="#fdebc9" transform="rotate(-38 919.6 978.8)"/>
<ellipse cx="973.1" cy="986.5" rx="4.1" ry="6.7" fill="#fbe0ab" transform="rotate(-11 973.1 986.5)"/>
<ellipse cx="938.9" cy="940.5" rx="4.3" ry="4.2" fill="#fdebc9" transform="rotate(36 938.9 940.5)"/>
<ellipse cx="862.8" cy="981.6" rx="9.6" ry="7.3" fill="#fdebc9" transform="rotate(-12 862.8 981.6)"/>
<ellipse cx="894.4" cy="968.9" rx="8.7" ry="3.9" fill="#fbe0ab" transform="rotate(20 894.4 968.9)"/>
<ellipse cx="982.5" cy="987.3" rx="4.2" ry="7.3" fill="#fdebc9" transform="rotate(-33 982.5 987.3)"/>
<ellipse cx="891.6" cy="973.6" rx="9.5" ry="4.9" fill="#fdebc9" transform="rotate(34 891.6 973.6)"/>
<ellipse cx="932.3" cy="957.2" rx="5.9" ry="4.2" fill="#fbe0ab" transform="rotate(-34 932.3 957.2)"/>
<ellipse cx="853.4" cy="977.9" rx="10.0" ry="4.1" fill="#fdebc9" transform="rotate(-36 853.4 977.9)"/>
<ellipse cx="1020.3" cy="969.3" rx="6.4" ry="4.4" fill="#fdebc9" transform="rotate(8 1020.3 969.3)"/>
<ellipse cx="988.3" cy="965.1" rx="6.5" ry="3.7" fill="#fbe0ab" transform="rotate(33 988.3 965.1)"/>
<ellipse cx="830.2" cy="967.1" rx="9.0" ry="4.0" fill="#fdebc9" transform="rotate(19 830.2 967.1)"/>
<ellipse cx="1012.9" cy="974.7" rx="8.7" ry="3.9" fill="#fdebc9" transform="rotate(-5 1012.9 974.7)"/>
<ellipse cx="853.4" cy="986.5" rx="5.8" ry="5.3" fill="#fbe0ab" transform="rotate(40 853.4 986.5)"/>
<ellipse cx="993.5" cy="993.7" rx="6.7" ry="5.5" fill="#fdebc9" transform="rotate(18 993.5 993.7)"/>
<ellipse cx="919.1" cy="956.0" rx="6.4" ry="4.1" fill="#fdebc9" transform="rotate(-10 919.1 956.0)"/>
<ellipse cx="1020.6" cy="992.8" rx="7.8" ry="5.5" fill="#fbe0ab" transform="rotate(-13 1020.6 992.8)"/>
<ellipse cx="841.5" cy="955.0" rx="8.7" ry="7.0" fill="#fdebc9" transform="rotate(-11 841.5 955.0)"/>
<ellipse cx="980.3" cy="982.6" rx="8.2" ry="6.2" fill="#fdebc9" transform="rotate(21 980.3 982.6)"/>
<ellipse cx="896.1" cy="978.7" rx="5.7" ry="5.4" fill="#fbe0ab" transform="rotate(22 896.1 978.7)"/>
<ellipse cx="961.3" cy="956.2" rx="9.7" ry="6.1" fill="#fdebc9" transform="rotate(6 961.3 956.2)"/>
<ellipse cx="826.0" cy="970.1" rx="5.5" ry="6.2" fill="#fdebc9" transform="rotate(-3 826.0 970.1)"/>
<ellipse cx="986.4" cy="975.6" rx="8.8" ry="4.9" fill="#fbe0ab" transform="rotate(12 986.4 975.6)"/>
<ellipse cx="970.7" cy="985.6" rx="6.1" ry="6.9" fill="#fdebc9" transform="rotate(30 970.7 985.6)"/>
<ellipse cx="960.8" cy="993.7" rx="9.7" ry="5.6" fill="#fdebc9" transform="rotate(2 960.8 993.7)"/>
<ellipse cx="856.8" cy="986.0" rx="9.6" ry="5.4" fill="#fbe0ab" transform="rotate(15 856.8 986.0)"/>
<ellipse cx="967.1" cy="980.2" rx="5.0" ry="6.6" fill="#fdebc9" transform="rotate(6 967.1 980.2)"/>
<ellipse cx="956.3" cy="963.1" rx="7.7" ry="6.6" fill="#fdebc9" transform="rotate(11 956.3 963.1)"/>
<ellipse cx="967.2" cy="941.5" rx="5.0" ry="5.3" fill="#fbe0ab" transform="rotate(12 967.2 941.5)"/>
<ellipse cx="867.3" cy="977.7" rx="7.8" ry="3.7" fill="#fdebc9" transform="rotate(-2 867.3 977.7)"/>
<ellipse cx="868.8" cy="943.0" rx="4.8" ry="4.8" fill="#fdebc9" transform="rotate(-25 868.8 943.0)"/>
<ellipse cx="862.2" cy="942.0" rx="6.8" ry="5.0" fill="#fbe0ab" transform="rotate(9 862.2 942.0)"/>
<ellipse cx="941.3" cy="953.1" rx="9.4" ry="3.5" fill="#fdebc9" transform="rotate(-8 941.3 953.1)"/>
<ellipse cx="879.2" cy="962.6" rx="4.7" ry="6.8" fill="#fdebc9" transform="rotate(-10 879.2 962.6)"/>
<ellipse cx="830.9" cy="973.7" rx="4.6" ry="5.7" fill="#fbe0ab" transform="rotate(-13 830.9 973.7)"/>
<ellipse cx="939.4" cy="992.7" rx="8.9" ry="5.2" fill="#fdebc9" transform="rotate(25 939.4 992.7)"/>
<ellipse cx="951.6" cy="960.3" rx="4.9" ry="5.9" fill="#fdebc9" transform="rotate(5 951.6 960.3)"/>
<ellipse cx="1014.4" cy="993.2" rx="7.7" ry="4.9" fill="#fbe0ab" transform="rotate(31 1014.4 993.2)"/>
<ellipse cx="823.9" cy="945.9" rx="7.4" ry="6.0" fill="#fdebc9" transform="rotate(-29 823.9 945.9)"/>
<ellipse cx="949.1" cy="989.0" rx="6.3" ry="5.2" fill="#fdebc9" transform="rotate(-22 949.1 989.0)"/>
<ellipse cx="881.8" cy="993.5" rx="6.3" ry="7.3" fill="#fbe0ab" transform="rotate(33 881.8 993.5)"/>
<ellipse cx="942.4" cy="954.3" rx="9.9" ry="5.5" fill="#fdebc9" transform="rotate(-7 942.4 954.3)"/>
<ellipse cx="887.3" cy="994.1" rx="7.0" ry="4.6" fill="#fdebc9" transform="rotate(-2 887.3 994.1)"/>
<ellipse cx="848.0" cy="974.2" rx="6.7" ry="4.7" fill="#fbe0ab" transform="rotate(23 848.0 974.2)"/>
<ellipse cx="988.4" cy="940.7" rx="7.2" ry="4.6" fill="#fdebc9" transform="rotate(35 988.4 940.7)"/>
<ellipse cx="979.5" cy="953.5" rx="5.6" ry="4.1" fill="#fdebc9" transform="rotate(39 979.5 953.5)"/>
<ellipse cx="882.1" cy="973.4" rx="6.8" ry="6.1" fill="#fbe0ab" transform="rotate(8 882.1 973.4)"/>
<ellipse cx="971.8" cy="946.5" rx="8.6" ry="4.7" fill="#fdebc9" transform="rotate(3 971.8 946.5)"/>
<ellipse cx="890.7" cy="956.3" rx="7.2" ry="5.4" fill="#fdebc9" transform="rotate(-11 890.7 956.3)"/>
<ellipse cx="972.1" cy="972.5" rx="4.2" ry="4.5" fill="#fbe0ab" transform="rotate(-4 972.1 972.5)"/>
<ellipse cx="1006.3" cy="988.8" rx="7.3" ry="3.6" fill="#fdebc9" transform="rotate(22 1006.3 988.8)"/>
<ellipse cx="908.9" cy="971.7" rx="8.2" ry="6.0" fill="#fdebc9" transform="rotate(-1 908.9 971.7)"/>
<ellipse cx="1005.3" cy="961.2" rx="6.4" ry="6.9" fill="#fbe0ab" transform="rotate(-24 1005.3 961.2)"/>
<ellipse cx="882.8" cy="985.7" rx="4.4" ry="6.8" fill="#fdebc9" transform="rotate(16 882.8 985.7)"/>
<ellipse cx="909.9" cy="955.7" rx="8.7" ry="7.1" fill="#fdebc9" transform="rotate(-29 909.9 955.7)"/>
<ellipse cx="919.0" cy="970.2" rx="7.0" ry="4.8" fill="#fbe0ab" transform="rotate(-28 919.0 970.2)"/>
<ellipse cx="940.4" cy="984.7" rx="4.4" ry="4.4" fill="#fdebc9" transform="rotate(26 940.4 984.7)"/>
<ellipse cx="981.4" cy="976.5" rx="4.2" ry="6.4" fill="#fdebc9" transform="rotate(38 981.4 976.5)"/>
<ellipse cx="1022.6" cy="978.6" rx="4.3" ry="6.9" fill="#fbe0ab" transform="rotate(-22 1022.6 978.6)"/>
<ellipse cx="952.3" cy="992.4" rx="8.3" ry="4.0" fill="#fdebc9" transform="rotate(-17 952.3 992.4)"/>
<ellipse cx="1006.6" cy="948.2" rx="7.7" ry="5.2" fill="#fdebc9" transform="rotate(-27 1006.6 948.2)"/>
<ellipse cx="947.7" cy="942.4" rx="4.6" ry="5.0" fill="#fbe0ab" transform="rotate(-34 947.7 942.4)"/>
<ellipse cx="835.2" cy="971.6" rx="8.5" ry="7.0" fill="#fdebc9" transform="rotate(-29 835.2 971.6)"/>
<ellipse cx="909.7" cy="957.3" rx="7.6" ry="5.5" fill="#fdebc9" transform="rotate(35 909.7 957.3)"/>
<ellipse cx="898.2" cy="943.1" rx="8.2" ry="4.1" fill="#fbe0ab" transform="rotate(11 898.2 943.1)"/>
<ellipse cx="924.5" cy="990.1" rx="7.3" ry="6.0" fill="#fdebc9" transform="rotate(-19 924.5 990.1)"/>
<ellipse cx="933.6" cy="954.0" rx="8.5" ry="5.6" fill="#fdebc9" transform="rotate(-29 933.6 954.0)"/>
<ellipse cx="870.4" cy="960.4" rx="8.4" ry="4.2" fill="#fbe0ab" transform="rotate(17 870.4 960.4)"/>
<ellipse cx="954.2" cy="944.7" rx="8.0" ry="3.9" fill="#fdebc9" transform="rotate(-30 954.2 944.7)"/>
<ellipse cx="942.0" cy="953.1" rx="9.3" ry="5.4" fill="#fdebc9" transform="rotate(-14 942.0 953.1)"/>
<ellipse cx="982.4" cy="941.6" rx="8.4" ry="3.7" fill="#fbe0ab" transform="rotate(-28 982.4 941.6)"/>
<ellipse cx="1013.3" cy="977.5" rx="5.3" ry="4.0" fill="#fdebc9" transform="rotate(38 1013.3 977.5)"/>
<ellipse cx="956.2" cy="985.1" rx="4.8" ry="6.0" fill="#fdebc9" transform="rotate(-12 956.2 985.1)"/>
<ellipse cx="870.5" cy="958.3" rx="7.7" ry="4.9" fill="#fbe0ab" transform="rotate(-9 870.5 958.3)"/>
<ellipse cx="850.9" cy="985.7" rx="7.9" ry="6.7" fill="#fdebc9" transform="rotate(-5 850.9 985.7)"/>
<ellipse cx="993.3" cy="968.5" rx="7.6" ry="5.8" fill="#fdebc9" transform="rotate(19 993.3 968.5)"/>
<ellipse cx="902.5" cy="945.3" rx="4.2" ry="4.3" fill="#fbe0ab" transform="rotate(-37 902.5 945.3)"/>
<ellipse cx="1000.8" cy="966.5" rx="8.6" ry="3.5" fill="#fdebc9" transform="rotate(-2 1000.8 966.5)"/>
<ellipse cx="1000.9" cy="974.1" rx="6.6" ry="5.4" fill="#fdebc9" transform="rotate(-32 1000.9 974.1)"/>
<ellipse cx="854.5" cy="948.7" rx="6.2" ry="5.0" fill="#fbe0ab" transform="rotate(30 854.5 948.7)"/>
<ellipse cx="854.0" cy="954.0" rx="5.7" ry="4.1" fill="#fdebc9" transform="rotate(-17 854.0 954.0)"/>
<ellipse cx="870.5" cy="966.5" rx="4.2" ry="7.2" fill="#fdebc9" transform="rotate(-10 870.5 966.5)"/>
<ellipse cx="1010.5" cy="977.8" rx="8.0" ry="5.4" fill="#fbe0ab" transform="rotate(36 1010.5 977.8)"/>
<ellipse cx="847.2" cy="976.8" rx="5.7" ry="6.2" fill="#fdebc9" transform="rotate(18 847.2 976.8)"/>
<path d="M825.2 927.0C828.6 926.8 838.4 925.9 845.7 925.9C852.9 926.0 861.7 927.7 868.8 927.4C876.0 927.0 881.6 924.1 888.4 923.8C895.3 923.5 903.9 924.7 909.8 925.6C915.8 926.5 918.2 928.9 924.1 929.1C930.0 929.4 939.3 927.7 945.5 927.0C951.7 926.3 955.6 925.3 961.5 925.2C967.5 925.2 974.9 925.7 981.2 926.6C987.4 927.6 992.3 929.9 999.0 930.9C1005.7 932.0 1017.6 932.7 1021.3 933.1" stroke="#9bc46c" stroke-width="1.6" fill="none" stroke-linecap="round"/>
<path d="M825.2 932.7C828.0 932.2 835.7 929.7 842.1 929.5C848.5 929.3 856.4 931.5 863.5 931.3C870.6 931.0 878.3 928.7 884.9 928.1C891.4 927.4 897.4 926.8 902.7 927.4C908.1 927.9 911.6 929.8 917.0 931.3C922.3 932.8 928.9 935.2 934.8 936.3C940.7 937.3 947.3 937.8 952.6 937.7C958.0 937.6 961.5 936.4 966.9 935.6C972.2 934.7 978.8 932.7 984.7 932.7C990.7 932.7 996.5 934.6 1002.5 935.6C1008.6 936.5 1018.1 937.9 1021.3 938.4" stroke="#d9554f" stroke-width="2.0" fill="none" stroke-linecap="round"/>
<path d="M825.2 931.3C828.6 930.9 839.3 928.8 845.7 929.1C852.0 929.5 857.5 932.5 863.5 933.6C869.4 934.7 875.4 936.2 881.3 935.9C887.3 935.6 893.2 931.6 899.1 931.8C905.1 932.0 911.0 937.0 917.0 937.2C922.9 937.3 928.9 933.9 934.8 932.7C940.7 931.5 946.7 930.3 952.6 930.0C958.6 929.8 964.5 930.5 970.5 931.3C976.4 932.0 982.3 933.7 988.3 934.5C994.2 935.3 1000.6 936.0 1006.1 935.9C1011.6 935.9 1018.7 934.4 1021.3 934.1" stroke="#4a86c6" stroke-width="2.0" fill="none" stroke-linecap="round"/>
<path d="M848.3 928.3C849.4 926.3 852.6 920.7 854.6 916.7C856.5 912.7 858.1 907.0 859.9 904.2C861.7 901.4 864.4 900.5 865.3 899.7" stroke="#4a86c6" stroke-width="1.2" fill="none" stroke-linecap="round"/>
<path d="M856.4 927.7C857.8 926.2 862.6 920.9 865.3 918.4C867.9 916.0 870.9 914.7 872.4 913.1C873.9 911.5 873.9 909.4 874.2 908.6" stroke="#9bc46c" stroke-width="1.1" fill="none" stroke-linecap="round"/>
<path d="M863.5 928.3C865.6 927.2 872.4 924.5 876.0 922.0C879.5 919.5 882.1 915.6 884.9 913.1C887.7 910.6 891.6 907.9 892.9 906.9" stroke="#d9554f" stroke-width="1.2" fill="none" stroke-linecap="round"/>
<path d="M880.4 917.6C880.6 916.5 881.0 912.8 881.3 911.3C881.6 909.8 882.1 909.1 882.2 908.6" stroke="#d9554f" stroke-width="1.0" fill="none" stroke-linecap="round"/>
<path d="M902.7 929.1C903.5 928.0 906.1 924.7 907.2 922.0C908.2 919.3 908.4 915.2 908.9 913.1C909.5 911.0 910.4 910.1 910.7 909.5" stroke="#4a86c6" stroke-width="1.2" fill="none" stroke-linecap="round"/>
<path d="M922.3 927.4C922.0 925.6 921.1 919.3 920.5 916.7C919.9 914.0 919.1 912.2 918.8 911.3" stroke="#9bc46c" stroke-width="1.1" fill="none" stroke-linecap="round"/>
<path d="M920.9 918.4C921.7 916.7 924.8 911.6 925.9 907.7C927.0 903.9 927.4 897.3 927.7 895.3" stroke="#9bc46c" stroke-width="1.1" fill="none" stroke-linecap="round"/>
<path d="M922.3 926.5C923.1 925.4 925.6 922.2 926.8 920.2C927.9 918.3 928.7 915.8 929.1 914.9" stroke="#d9554f" stroke-width="1.1" fill="none" stroke-linecap="round"/>
<path d="M944.6 928.3C943.7 926.3 940.4 920.5 939.3 916.7C938.2 912.8 938.2 907.0 938.0 905.1" stroke="#4a86c6" stroke-width="1.3" fill="none" stroke-linecap="round"/>
<path d="M941.0 921.1C941.3 920.4 942.5 917.4 942.8 916.7" stroke="#4a86c6" stroke-width="1.1" fill="none" stroke-linecap="round"/>
<path d="M947.3 927.4C948.2 925.6 952.9 919.9 952.6 916.7C952.3 913.4 946.7 909.2 945.5 907.7" stroke="#9bc46c" stroke-width="1.2" fill="none" stroke-linecap="round"/>
<path d="M952.6 916.7C953.8 915.5 958.7 912.5 959.8 909.5C960.8 906.6 959.0 900.6 958.9 898.8" stroke="#9bc46c" stroke-width="1.2" fill="none" stroke-linecap="round"/>
<path d="M963.3 929.1C964.2 927.4 967.6 922.0 968.7 918.4C969.7 914.9 969.1 911.4 969.6 907.7C970.0 904.1 971.1 898.5 971.3 896.7" stroke="#d9554f" stroke-width="1.2" fill="none" stroke-linecap="round"/>
<path d="M968.3 919.3C969.1 918.9 971.7 917.2 973.1 916.7C974.5 916.2 976.1 916.4 976.7 916.3" stroke="#d9554f" stroke-width="1.1" fill="none" stroke-linecap="round"/>
<path d="M986.5 932.7C986.4 930.9 985.8 925.3 985.6 922.0C985.4 918.7 985.2 914.6 985.1 913.1" stroke="#d9554f" stroke-width="1.1" fill="none" stroke-linecap="round"/>
<path d="M987.4 929.1C988.4 928.0 992.0 923.9 993.6 922.0C995.3 920.1 996.6 918.3 997.2 917.6" stroke="#d9554f" stroke-width="1.1" fill="none" stroke-linecap="round"/>
<path d="M990.1 932.7C991.6 931.2 996.6 927.7 999.0 923.8C1001.4 919.9 1002.8 913.9 1004.3 909.5C1005.9 905.1 1007.6 899.4 1008.3 897.4" stroke="#4a86c6" stroke-width="1.2" fill="none" stroke-linecap="round"/>
<path d="M995.4 927.4C995.6 926.5 996.2 922.9 996.3 922.0" stroke="#4a86c6" stroke-width="1.1" fill="none" stroke-linecap="round"/>
<path d="M1013.2 931.8C1013.1 930.2 1012.7 925.3 1012.4 922.0C1012.0 918.7 1011.3 913.8 1011.1 912.2" stroke="#9bc46c" stroke-width="1.1" fill="none" stroke-linecap="round"/>
</g>
<rect x="825.7" y="870.3" width="195.2" height="156.4" fill="none" stroke="#cfa3a3" stroke-width="0.9"/>
<g transform="translate(834.0,902.5) rotate(58.0)"><path d="M0 0V37.1" stroke="#6e6678" stroke-width="1.5"/><g transform="translate(0,37.1) scale(1.005)"><rect x="-3.6" y="0" width="7.2" height="8" rx="1" fill="#dad4e1" stroke="#8b8294" stroke-width="1.4"/><rect x="-9.4" y="8" width="18.8" height="60" rx="2.5" fill="#dad4e1" stroke="#8b8294" stroke-width="2.1"/><rect x="-6" y="11.5" width="12" height="24" rx="1" fill="#9c90a5"/><path d="M8.0 41 h-8.0 M8.0 46 h-6.0 M8.0 51 h-8.0 M8.0 56 h-6.0 M8.0 61 h-8.0" stroke="#8b8294" stroke-width="1.5"/><path d="M-5.0 40 v22" stroke="#fff" stroke-width="1.6" opacity="0.7"/><rect x="-13.5" y="68" width="27" height="4.8" rx="2.4" fill="#8b8294"/><rect x="-1.9" y="72" width="3.8" height="16" fill="#8b8294"/><rect x="-9.5" y="86.5" width="19" height="4.8" rx="2.4" fill="#8b8294"/></g></g>
</g>

<g id="brains">
<defs><clipPath id="brainclip"><path d="M1341.0 693.4C1339.7 693.3 1340.1 690.1 1337.3 689.1C1334.4 688.1 1328.3 687.5 1323.9 687.2C1319.4 687.0 1314.7 687.0 1310.5 687.5C1306.3 688.0 1301.7 689.0 1298.5 690.2C1295.3 691.3 1293.0 692.8 1291.3 694.4C1289.5 696.1 1289.5 699.3 1288.0 699.8C1286.6 700.3 1284.9 697.4 1282.4 697.7C1279.9 697.9 1275.9 700.0 1273.1 701.4C1270.3 702.8 1267.2 704.5 1265.6 705.9C1264.0 707.4 1264.9 709.5 1263.4 710.0C1262.0 710.5 1260.3 707.9 1257.0 708.9C1253.7 709.9 1248.1 713.1 1243.6 716.1C1239.2 719.1 1234.1 723.3 1230.3 726.8C1226.4 730.3 1223.0 733.5 1220.6 737.0C1218.2 740.4 1218.0 745.8 1215.8 747.4C1213.6 749.1 1210.2 745.9 1207.5 746.9C1204.8 747.9 1201.9 750.7 1199.8 753.3C1197.6 755.9 1195.1 760.0 1194.4 762.4C1193.7 764.8 1196.6 766.5 1195.5 767.7C1194.3 769.0 1189.8 767.6 1187.5 769.9C1185.1 772.2 1183.0 777.7 1181.6 781.7C1180.1 785.6 1179.0 790.4 1178.9 793.4C1178.8 796.5 1181.6 797.8 1180.8 799.9C1180.0 801.9 1175.9 802.5 1174.1 805.7C1172.3 808.9 1170.6 814.7 1170.1 819.1C1169.5 823.6 1170.1 828.9 1170.9 832.5C1171.6 836.1 1175.4 838.8 1174.6 840.5C1173.8 842.2 1168.4 840.6 1166.1 842.7C1163.7 844.7 1161.9 848.9 1160.7 852.6C1159.5 856.2 1158.6 861.2 1158.8 864.6C1159.1 867.9 1161.9 870.2 1162.0 872.6C1162.1 875.1 1160.1 875.7 1159.4 879.3C1158.6 882.9 1157.6 889.3 1157.5 894.0C1157.4 898.7 1157.9 904.2 1158.6 907.4C1159.2 910.6 1161.3 911.5 1161.2 913.3C1161.1 915.1 1158.6 915.5 1158.0 918.1C1157.4 920.7 1156.8 925.0 1157.5 928.8C1158.2 932.6 1159.5 937.2 1162.0 940.8C1164.6 944.5 1168.5 947.8 1172.7 950.7C1177.0 953.6 1182.5 956.4 1187.5 958.2C1192.4 960.1 1197.5 961.5 1202.2 961.7C1206.8 961.9 1212.3 960.9 1215.5 959.6C1218.8 958.2 1219.7 954.1 1221.7 953.7C1223.7 953.3 1224.4 956.5 1227.6 957.2C1230.8 957.8 1236.7 957.9 1241.0 957.4C1245.2 956.9 1249.5 955.7 1253.0 954.2C1256.5 952.7 1259.8 950.0 1261.8 948.3C1263.8 946.7 1263.4 945.3 1265.0 944.3C1266.7 943.3 1269.0 944.1 1271.7 942.2C1274.4 940.3 1278.5 936.2 1281.1 932.8C1283.6 929.5 1285.6 925.7 1287.0 922.1C1288.4 918.5 1289.2 914.2 1289.4 911.4C1289.6 908.6 1287.6 906.7 1288.0 905.5C1288.4 904.3 1290.4 903.9 1291.8 904.2C1293.1 904.5 1295.1 905.5 1296.1 907.4C1297.0 909.3 1297.5 911.9 1297.7 915.4C1297.9 919.0 1296.1 924.6 1297.1 928.8C1298.2 933.0 1300.7 937.5 1303.8 940.8C1306.9 944.2 1311.2 946.8 1315.9 948.9C1320.5 950.9 1327.7 952.7 1331.9 953.1C1336.1 953.6 1338.8 951.7 1341.0 951.8C1343.2 951.9 1341.7 953.5 1345.0 953.7C1348.4 953.9 1356.2 954.3 1361.1 952.9C1366.0 951.4 1371.1 948.4 1374.5 944.8C1377.8 941.3 1379.8 936.6 1381.1 931.5C1382.5 926.3 1381.8 918.3 1382.5 914.1C1383.1 909.9 1384.0 908.0 1385.2 906.3C1386.3 904.7 1389.1 903.9 1389.4 904.2C1389.8 904.5 1387.9 906.1 1387.3 907.9C1386.7 909.8 1385.6 912.4 1386.0 915.4C1386.3 918.5 1387.3 922.6 1389.4 926.1C1391.5 929.7 1394.8 933.7 1398.5 936.8C1402.3 939.9 1407.9 943.2 1411.9 944.8C1415.9 946.5 1420.3 945.7 1422.6 947.0C1424.9 948.3 1423.1 950.6 1425.8 952.9C1428.5 955.2 1433.8 958.4 1438.7 960.9C1443.5 963.4 1450.0 966.8 1454.7 967.6C1459.4 968.4 1464.4 965.2 1466.7 965.7C1469.1 966.2 1466.2 970.4 1468.6 970.5C1471.1 970.6 1477.1 968.7 1481.5 966.2C1485.8 963.8 1491.3 959.0 1494.8 955.5C1498.4 952.1 1500.1 948.1 1502.9 945.4C1505.6 942.6 1508.7 943.1 1511.4 939.0C1514.1 934.9 1518.1 925.5 1518.9 920.8C1519.7 916.0 1516.0 913.3 1516.2 910.6C1516.5 907.9 1519.0 908.4 1520.3 904.7C1521.5 901.1 1523.0 894.5 1523.7 888.7C1524.4 882.9 1524.9 875.2 1524.5 869.9C1524.2 864.7 1521.8 861.1 1521.6 857.1C1521.4 853.1 1523.2 850.4 1523.2 845.9C1523.2 841.3 1522.7 835.6 1521.6 829.8C1520.4 824.0 1518.5 817.3 1516.2 811.1C1514.0 804.8 1510.9 797.0 1508.2 792.4C1505.5 787.8 1502.0 786.2 1500.2 783.5C1498.4 780.9 1499.7 780.2 1497.5 776.3C1495.3 772.4 1490.6 764.4 1486.8 760.3C1483.0 756.1 1476.6 753.7 1474.8 751.4C1473.0 749.2 1477.2 749.2 1476.1 746.9C1475.0 744.6 1471.7 740.9 1468.1 737.5C1464.5 734.2 1458.8 728.5 1454.7 726.8C1450.6 725.1 1445.5 728.0 1443.5 727.4C1441.5 726.7 1444.8 724.7 1442.7 722.8C1440.5 720.9 1435.3 718.6 1430.6 716.1C1426.0 713.7 1419.0 709.8 1414.6 708.1C1410.1 706.4 1406.1 707.3 1403.9 705.9C1401.7 704.6 1403.4 702.2 1401.2 700.1C1399.0 698.0 1395.0 695.2 1390.5 693.4C1386.0 691.6 1379.8 690.3 1374.5 689.4C1369.1 688.4 1363.3 687.5 1358.4 687.5C1353.5 687.5 1347.9 688.4 1345.0 689.4C1342.1 690.3 1342.3 693.4 1341.0 693.4Z"/></clipPath>
<g id="brain"><path d="M1341.0 693.4C1339.7 693.3 1340.1 690.1 1337.3 689.1C1334.4 688.1 1328.3 687.5 1323.9 687.2C1319.4 687.0 1314.7 687.0 1310.5 687.5C1306.3 688.0 1301.7 689.0 1298.5 690.2C1295.3 691.3 1293.0 692.8 1291.3 694.4C1289.5 696.1 1289.5 699.3 1288.0 699.8C1286.6 700.3 1284.9 697.4 1282.4 697.7C1279.9 697.9 1275.9 700.0 1273.1 701.4C1270.3 702.8 1267.2 704.5 1265.6 705.9C1264.0 707.4 1264.9 709.5 1263.4 710.0C1262.0 710.5 1260.3 707.9 1257.0 708.9C1253.7 709.9 1248.1 713.1 1243.6 716.1C1239.2 719.1 1234.1 723.3 1230.3 726.8C1226.4 730.3 1223.0 733.5 1220.6 737.0C1218.2 740.4 1218.0 745.8 1215.8 747.4C1213.6 749.1 1210.2 745.9 1207.5 746.9C1204.8 747.9 1201.9 750.7 1199.8 753.3C1197.6 755.9 1195.1 760.0 1194.4 762.4C1193.7 764.8 1196.6 766.5 1195.5 767.7C1194.3 769.0 1189.8 767.6 1187.5 769.9C1185.1 772.2 1183.0 777.7 1181.6 781.7C1180.1 785.6 1179.0 790.4 1178.9 793.4C1178.8 796.5 1181.6 797.8 1180.8 799.9C1180.0 801.9 1175.9 802.5 1174.1 805.7C1172.3 808.9 1170.6 814.7 1170.1 819.1C1169.5 823.6 1170.1 828.9 1170.9 832.5C1171.6 836.1 1175.4 838.8 1174.6 840.5C1173.8 842.2 1168.4 840.6 1166.1 842.7C1163.7 844.7 1161.9 848.9 1160.7 852.6C1159.5 856.2 1158.6 861.2 1158.8 864.6C1159.1 867.9 1161.9 870.2 1162.0 872.6C1162.1 875.1 1160.1 875.7 1159.4 879.3C1158.6 882.9 1157.6 889.3 1157.5 894.0C1157.4 898.7 1157.9 904.2 1158.6 907.4C1159.2 910.6 1161.3 911.5 1161.2 913.3C1161.1 915.1 1158.6 915.5 1158.0 918.1C1157.4 920.7 1156.8 925.0 1157.5 928.8C1158.2 932.6 1159.5 937.2 1162.0 940.8C1164.6 944.5 1168.5 947.8 1172.7 950.7C1177.0 953.6 1182.5 956.4 1187.5 958.2C1192.4 960.1 1197.5 961.5 1202.2 961.7C1206.8 961.9 1212.3 960.9 1215.5 959.6C1218.8 958.2 1219.7 954.1 1221.7 953.7C1223.7 953.3 1224.4 956.5 1227.6 957.2C1230.8 957.8 1236.7 957.9 1241.0 957.4C1245.2 956.9 1249.5 955.7 1253.0 954.2C1256.5 952.7 1259.8 950.0 1261.8 948.3C1263.8 946.7 1263.4 945.3 1265.0 944.3C1266.7 943.3 1269.0 944.1 1271.7 942.2C1274.4 940.3 1278.5 936.2 1281.1 932.8C1283.6 929.5 1285.6 925.7 1287.0 922.1C1288.4 918.5 1289.2 914.2 1289.4 911.4C1289.6 908.6 1287.6 906.7 1288.0 905.5C1288.4 904.3 1290.4 903.9 1291.8 904.2C1293.1 904.5 1295.1 905.5 1296.1 907.4C1297.0 909.3 1297.5 911.9 1297.7 915.4C1297.9 919.0 1296.1 924.6 1297.1 928.8C1298.2 933.0 1300.7 937.5 1303.8 940.8C1306.9 944.2 1311.2 946.8 1315.9 948.9C1320.5 950.9 1327.7 952.7 1331.9 953.1C1336.1 953.6 1338.8 951.7 1341.0 951.8C1343.2 951.9 1341.7 953.5 1345.0 953.7C1348.4 953.9 1356.2 954.3 1361.1 952.9C1366.0 951.4 1371.1 948.4 1374.5 944.8C1377.8 941.3 1379.8 936.6 1381.1 931.5C1382.5 926.3 1381.8 918.3 1382.5 914.1C1383.1 909.9 1384.0 908.0 1385.2 906.3C1386.3 904.7 1389.1 903.9 1389.4 904.2C1389.8 904.5 1387.9 906.1 1387.3 907.9C1386.7 909.8 1385.6 912.4 1386.0 915.4C1386.3 918.5 1387.3 922.6 1389.4 926.1C1391.5 929.7 1394.8 933.7 1398.5 936.8C1402.3 939.9 1407.9 943.2 1411.9 944.8C1415.9 946.5 1420.3 945.7 1422.6 947.0C1424.9 948.3 1423.1 950.6 1425.8 952.9C1428.5 955.2 1433.8 958.4 1438.7 960.9C1443.5 963.4 1450.0 966.8 1454.7 967.6C1459.4 968.4 1464.4 965.2 1466.7 965.7C1469.1 966.2 1466.2 970.4 1468.6 970.5C1471.1 970.6 1477.1 968.7 1481.5 966.2C1485.8 963.8 1491.3 959.0 1494.8 955.5C1498.4 952.1 1500.1 948.1 1502.9 945.4C1505.6 942.6 1508.7 943.1 1511.4 939.0C1514.1 934.9 1518.1 925.5 1518.9 920.8C1519.7 916.0 1516.0 913.3 1516.2 910.6C1516.5 907.9 1519.0 908.4 1520.3 904.7C1521.5 901.1 1523.0 894.5 1523.7 888.7C1524.4 882.9 1524.9 875.2 1524.5 869.9C1524.2 864.7 1521.8 861.1 1521.6 857.1C1521.4 853.1 1523.2 850.4 1523.2 845.9C1523.2 841.3 1522.7 835.6 1521.6 829.8C1520.4 824.0 1518.5 817.3 1516.2 811.1C1514.0 804.8 1510.9 797.0 1508.2 792.4C1505.5 787.8 1502.0 786.2 1500.2 783.5C1498.4 780.9 1499.7 780.2 1497.5 776.3C1495.3 772.4 1490.6 764.4 1486.8 760.3C1483.0 756.1 1476.6 753.7 1474.8 751.4C1473.0 749.2 1477.2 749.2 1476.1 746.9C1475.0 744.6 1471.7 740.9 1468.1 737.5C1464.5 734.2 1458.8 728.5 1454.7 726.8C1450.6 725.1 1445.5 728.0 1443.5 727.4C1441.5 726.7 1444.8 724.7 1442.7 722.8C1440.5 720.9 1435.3 718.6 1430.6 716.1C1426.0 713.7 1419.0 709.8 1414.6 708.1C1410.1 706.4 1406.1 707.3 1403.9 705.9C1401.7 704.6 1403.4 702.2 1401.2 700.1C1399.0 698.0 1395.0 695.2 1390.5 693.4C1386.0 691.6 1379.8 690.3 1374.5 689.4C1369.1 688.4 1363.3 687.5 1358.4 687.5C1353.5 687.5 1347.9 688.4 1345.0 689.4C1342.1 690.3 1342.3 693.4 1341.0 693.4Z" fill="#f0e1e3"/><g clip-path="url(#brainclip)" fill="none" stroke-linecap="round" stroke-linejoin="round"><path d="M1341.0 693.4C1339.7 693.3 1340.1 690.1 1337.3 689.1C1334.4 688.1 1328.3 687.5 1323.9 687.2C1319.4 687.0 1314.7 687.0 1310.5 687.5C1306.3 688.0 1301.7 689.0 1298.5 690.2C1295.3 691.3 1293.0 692.8 1291.3 694.4C1289.5 696.1 1289.5 699.3 1288.0 699.8C1286.6 700.3 1284.9 697.4 1282.4 697.7C1279.9 697.9 1275.9 700.0 1273.1 701.4C1270.3 702.8 1267.2 704.5 1265.6 705.9C1264.0 707.4 1264.9 709.5 1263.4 710.0C1262.0 710.5 1260.3 707.9 1257.0 708.9C1253.7 709.9 1248.1 713.1 1243.6 716.1C1239.2 719.1 1234.1 723.3 1230.3 726.8C1226.4 730.3 1223.0 733.5 1220.6 737.0C1218.2 740.4 1218.0 745.8 1215.8 747.4C1213.6 749.1 1210.2 745.9 1207.5 746.9C1204.8 747.9 1201.9 750.7 1199.8 753.3C1197.6 755.9 1195.1 760.0 1194.4 762.4C1193.7 764.8 1196.6 766.5 1195.5 767.7C1194.3 769.0 1189.8 767.6 1187.5 769.9C1185.1 772.2 1183.0 777.7 1181.6 781.7C1180.1 785.6 1179.0 790.4 1178.9 793.4C1178.8 796.5 1181.6 797.8 1180.8 799.9C1180.0 801.9 1175.9 802.5 1174.1 805.7C1172.3 808.9 1170.6 814.7 1170.1 819.1C1169.5 823.6 1170.1 828.9 1170.9 832.5C1171.6 836.1 1175.4 838.8 1174.6 840.5C1173.8 842.2 1168.4 840.6 1166.1 842.7C1163.7 844.7 1161.9 848.9 1160.7 852.6C1159.5 856.2 1158.6 861.2 1158.8 864.6C1159.1 867.9 1161.9 870.2 1162.0 872.6C1162.1 875.1 1160.1 875.7 1159.4 879.3C1158.6 882.9 1157.6 889.3 1157.5 894.0C1157.4 898.7 1157.9 904.2 1158.6 907.4C1159.2 910.6 1161.3 911.5 1161.2 913.3C1161.1 915.1 1158.6 915.5 1158.0 918.1C1157.4 920.7 1156.8 925.0 1157.5 928.8C1158.2 932.6 1159.5 937.2 1162.0 940.8C1164.6 944.5 1168.5 947.8 1172.7 950.7C1177.0 953.6 1182.5 956.4 1187.5 958.2C1192.4 960.1 1197.5 961.5 1202.2 961.7C1206.8 961.9 1212.3 960.9 1215.5 959.6C1218.8 958.2 1219.7 954.1 1221.7 953.7C1223.7 953.3 1224.4 956.5 1227.6 957.2C1230.8 957.8 1236.7 957.9 1241.0 957.4C1245.2 956.9 1249.5 955.7 1253.0 954.2C1256.5 952.7 1259.8 950.0 1261.8 948.3C1263.8 946.7 1263.4 945.3 1265.0 944.3C1266.7 943.3 1269.0 944.1 1271.7 942.2C1274.4 940.3 1278.5 936.2 1281.1 932.8C1283.6 929.5 1285.6 925.7 1287.0 922.1C1288.4 918.5 1289.2 914.2 1289.4 911.4C1289.6 908.6 1287.6 906.7 1288.0 905.5C1288.4 904.3 1290.4 903.9 1291.8 904.2C1293.1 904.5 1295.1 905.5 1296.1 907.4C1297.0 909.3 1297.5 911.9 1297.7 915.4C1297.9 919.0 1296.1 924.6 1297.1 928.8C1298.2 933.0 1300.7 937.5 1303.8 940.8C1306.9 944.2 1311.2 946.8 1315.9 948.9C1320.5 950.9 1327.7 952.7 1331.9 953.1C1336.1 953.6 1338.8 951.7 1341.0 951.8C1343.2 951.9 1341.7 953.5 1345.0 953.7C1348.4 953.9 1356.2 954.3 1361.1 952.9C1366.0 951.4 1371.1 948.4 1374.5 944.8C1377.8 941.3 1379.8 936.6 1381.1 931.5C1382.5 926.3 1381.8 918.3 1382.5 914.1C1383.1 909.9 1384.0 908.0 1385.2 906.3C1386.3 904.7 1389.1 903.9 1389.4 904.2C1389.8 904.5 1387.9 906.1 1387.3 907.9C1386.7 909.8 1385.6 912.4 1386.0 915.4C1386.3 918.5 1387.3 922.6 1389.4 926.1C1391.5 929.7 1394.8 933.7 1398.5 936.8C1402.3 939.9 1407.9 943.2 1411.9 944.8C1415.9 946.5 1420.3 945.7 1422.6 947.0C1424.9 948.3 1423.1 950.6 1425.8 952.9C1428.5 955.2 1433.8 958.4 1438.7 960.9C1443.5 963.4 1450.0 966.8 1454.7 967.6C1459.4 968.4 1464.4 965.2 1466.7 965.7C1469.1 966.2 1466.2 970.4 1468.6 970.5C1471.1 970.6 1477.1 968.7 1481.5 966.2C1485.8 963.8 1491.3 959.0 1494.8 955.5C1498.4 952.1 1500.1 948.1 1502.9 945.4C1505.6 942.6 1508.7 943.1 1511.4 939.0C1514.1 934.9 1518.1 925.5 1518.9 920.8C1519.7 916.0 1516.0 913.3 1516.2 910.6C1516.5 907.9 1519.0 908.4 1520.3 904.7C1521.5 901.1 1523.0 894.5 1523.7 888.7C1524.4 882.9 1524.9 875.2 1524.5 869.9C1524.2 864.7 1521.8 861.1 1521.6 857.1C1521.4 853.1 1523.2 850.4 1523.2 845.9C1523.2 841.3 1522.7 835.6 1521.6 829.8C1520.4 824.0 1518.5 817.3 1516.2 811.1C1514.0 804.8 1510.9 797.0 1508.2 792.4C1505.5 787.8 1502.0 786.2 1500.2 783.5C1498.4 780.9 1499.7 780.2 1497.5 776.3C1495.3 772.4 1490.6 764.4 1486.8 760.3C1483.0 756.1 1476.6 753.7 1474.8 751.4C1473.0 749.2 1477.2 749.2 1476.1 746.9C1475.0 744.6 1471.7 740.9 1468.1 737.5C1464.5 734.2 1458.8 728.5 1454.7 726.8C1450.6 725.1 1445.5 728.0 1443.5 727.4C1441.5 726.7 1444.8 724.7 1442.7 722.8C1440.5 720.9 1435.3 718.6 1430.6 716.1C1426.0 713.7 1419.0 709.8 1414.6 708.1C1410.1 706.4 1406.1 707.3 1403.9 705.9C1401.7 704.6 1403.4 702.2 1401.2 700.1C1399.0 698.0 1395.0 695.2 1390.5 693.4C1386.0 691.6 1379.8 690.3 1374.5 689.4C1369.1 688.4 1363.3 687.5 1358.4 687.5C1353.5 687.5 1347.9 688.4 1345.0 689.4C1342.1 690.3 1342.3 693.4 1341.0 693.4Z" stroke="#f3cacf" stroke-width="21.5"/><path d="M1288.0 699.8C1288.8 701.2 1291.8 705.6 1292.3 708.1C1292.9 710.6 1291.4 713.7 1291.3 714.8M1263.4 710.0C1264.1 712.3 1265.5 719.7 1267.2 724.1C1268.9 728.6 1271.8 733.4 1273.6 736.7C1275.4 740.1 1277.2 743.0 1277.9 744.2M1215.8 747.4C1216.8 749.5 1219.1 756.2 1221.7 759.7C1224.3 763.3 1227.8 766.4 1231.6 768.8C1235.3 771.2 1242.1 773.3 1244.2 774.2M1225.4 764.3C1225.9 766.5 1226.8 773.9 1228.1 777.6C1229.5 781.4 1232.6 785.4 1233.5 787.0M1195.5 767.7C1197.0 768.3 1201.7 770.9 1204.8 771.0C1208.0 771.0 1212.6 768.7 1214.2 768.3M1180.8 799.9C1182.8 799.5 1188.7 798.2 1192.8 798.0C1197.0 797.8 1203.5 798.4 1205.6 798.5M1174.6 840.5C1177.2 841.0 1184.2 843.6 1190.1 843.7C1196.1 843.8 1204.0 841.6 1210.2 841.0C1216.4 840.5 1224.7 840.6 1227.6 840.5M1227.6 840.5C1229.4 838.7 1234.4 834.4 1238.3 829.8C1242.1 825.3 1248.5 816.0 1250.6 813.2M1227.6 840.5C1229.0 842.7 1234.2 849.3 1236.1 853.9C1238.1 858.4 1238.6 865.5 1239.1 867.8M1198.2 842.4C1198.9 840.7 1200.1 836.0 1202.4 832.5C1204.8 829.0 1210.7 823.1 1212.3 821.3M1215.5 839.4C1215.0 837.8 1212.6 831.4 1212.1 829.8M1162.0 872.6C1164.1 872.1 1170.5 869.3 1174.6 869.4C1178.7 869.5 1184.6 872.5 1186.7 873.2M1161.2 913.3C1163.5 912.4 1170.7 909.8 1174.6 907.9C1178.5 906.1 1182.5 904.4 1184.8 902.0C1187.1 899.7 1187.7 895.4 1188.3 894.0M1221.7 953.7C1221.1 951.7 1219.6 945.3 1218.2 941.6C1216.8 937.9 1214.0 933.2 1213.1 931.5M1265.0 944.3C1263.7 943.1 1259.8 939.4 1257.0 936.8C1254.2 934.2 1250.7 930.8 1248.4 928.8C1246.2 926.8 1244.4 925.5 1243.6 924.8M1403.9 705.9C1402.8 708.3 1398.9 715.3 1397.2 720.1C1395.5 724.9 1394.2 730.2 1393.7 734.8C1393.3 739.5 1394.4 746.0 1394.5 748.2M1443.5 727.4C1442.2 729.0 1438.3 734.3 1436.0 737.5C1433.6 740.8 1430.4 745.3 1429.3 746.9M1474.8 751.4C1472.8 752.9 1466.5 757.7 1462.7 760.3C1458.9 762.8 1455.8 765.1 1452.0 766.9C1448.2 768.8 1442.0 770.7 1440.0 771.5M1457.4 765.1C1457.9 766.5 1459.8 770.6 1460.6 773.6C1461.4 776.6 1461.9 781.4 1462.2 783.0M1500.2 783.5C1498.4 784.3 1493.1 786.4 1489.5 788.3C1485.9 790.3 1481.9 792.9 1478.8 795.0C1475.7 797.1 1472.1 799.9 1470.8 800.9M1521.6 857.1C1519.4 857.5 1512.7 859.0 1508.2 859.8C1503.8 860.6 1499.3 863.1 1494.8 861.9C1490.4 860.7 1485.5 855.2 1481.5 852.6C1477.4 849.9 1474.6 847.3 1470.8 845.9C1467.0 844.4 1460.7 844.1 1458.7 843.7M1476.1 849.1C1474.3 850.3 1469.0 854.0 1465.4 856.6C1461.8 859.2 1455.4 861.2 1454.7 864.6C1454.0 867.9 1460.3 874.6 1461.4 876.6M1508.2 829.8C1506.4 830.4 1500.9 833.1 1497.5 833.6C1494.2 834.0 1489.7 832.7 1488.2 832.5M1516.2 910.6C1514.0 909.6 1507.8 906.2 1502.9 904.7C1498.0 903.2 1491.5 901.9 1486.8 901.5C1482.1 901.2 1476.8 902.4 1474.8 902.6M1502.9 945.4C1501.5 943.5 1497.5 938.0 1494.8 934.1C1492.2 930.3 1488.2 924.1 1486.8 922.1M1466.7 965.7C1467.1 962.7 1469.3 953.2 1468.6 947.5C1468.0 941.8 1464.8 935.7 1462.7 931.5C1460.6 927.2 1457.2 923.7 1456.0 922.1M1422.6 947.0C1423.6 945.3 1426.2 940.2 1428.5 936.8C1430.8 933.4 1435.2 928.4 1436.5 926.7M1341.4 741.7C1339.4 741.6 1333.3 741.0 1329.4 741.0C1325.5 741.1 1319.8 741.8 1317.9 742.0M1340.6 741.7C1342.6 741.6 1348.7 741.0 1352.6 741.0C1356.5 741.1 1362.2 741.8 1364.1 742.0M1341.4 761.7C1339.4 761.6 1333.1 761.1 1329.4 761.2C1325.7 761.3 1321.0 762.0 1319.3 762.2M1340.6 761.7C1342.6 761.6 1348.9 761.1 1352.6 761.2C1356.3 761.3 1361.0 762.0 1362.7 762.2M1341.4 775.4C1340.0 775.3 1335.5 774.9 1333.0 774.7C1330.5 774.5 1327.6 774.3 1326.5 774.2M1340.6 775.4C1342.0 775.3 1346.5 774.9 1349.0 774.7C1351.5 774.5 1354.4 774.3 1355.5 774.2M1341.4 687.6C1341.4 704.2 1341.4 770.8 1341.4 787.4" stroke="#f3cacf" stroke-width="15.5"/><path d="M1326.5 774.7C1325.8 775.8 1322.4 779.2 1322.2 781.4C1321.9 783.7 1323.3 786.7 1325.1 788.2C1326.9 789.6 1330.4 790.1 1333.0 790.1C1335.7 790.1 1339.6 788.5 1341.0 788.2M1355.5 774.7C1356.2 775.8 1359.6 779.2 1359.8 781.4C1360.1 783.7 1358.7 786.7 1356.9 788.2C1355.1 789.6 1351.6 790.1 1349.0 790.1C1346.3 790.1 1342.4 788.5 1341.0 788.2" stroke="#f3cacf" stroke-width="9"/><path d="M1288.0 699.8C1288.8 701.2 1291.8 705.6 1292.3 708.1C1292.9 710.6 1291.4 713.7 1291.3 714.8M1263.4 710.0C1264.1 712.3 1265.5 719.7 1267.2 724.1C1268.9 728.6 1271.8 733.4 1273.6 736.7C1275.4 740.1 1277.2 743.0 1277.9 744.2M1215.8 747.4C1216.8 749.5 1219.1 756.2 1221.7 759.7C1224.3 763.3 1227.8 766.4 1231.6 768.8C1235.3 771.2 1242.1 773.3 1244.2 774.2M1225.4 764.3C1225.9 766.5 1226.8 773.9 1228.1 777.6C1229.5 781.4 1232.6 785.4 1233.5 787.0M1195.5 767.7C1197.0 768.3 1201.7 770.9 1204.8 771.0C1208.0 771.0 1212.6 768.7 1214.2 768.3M1180.8 799.9C1182.8 799.5 1188.7 798.2 1192.8 798.0C1197.0 797.8 1203.5 798.4 1205.6 798.5M1174.6 840.5C1177.2 841.0 1184.2 843.6 1190.1 843.7C1196.1 843.8 1204.0 841.6 1210.2 841.0C1216.4 840.5 1224.7 840.6 1227.6 840.5M1227.6 840.5C1229.4 838.7 1234.4 834.4 1238.3 829.8C1242.1 825.3 1248.5 816.0 1250.6 813.2M1227.6 840.5C1229.0 842.7 1234.2 849.3 1236.1 853.9C1238.1 858.4 1238.6 865.5 1239.1 867.8M1198.2 842.4C1198.9 840.7 1200.1 836.0 1202.4 832.5C1204.8 829.0 1210.7 823.1 1212.3 821.3M1215.5 839.4C1215.0 837.8 1212.6 831.4 1212.1 829.8M1162.0 872.6C1164.1 872.1 1170.5 869.3 1174.6 869.4C1178.7 869.5 1184.6 872.5 1186.7 873.2M1161.2 913.3C1163.5 912.4 1170.7 909.8 1174.6 907.9C1178.5 906.1 1182.5 904.4 1184.8 902.0C1187.1 899.7 1187.7 895.4 1188.3 894.0M1221.7 953.7C1221.1 951.7 1219.6 945.3 1218.2 941.6C1216.8 937.9 1214.0 933.2 1213.1 931.5M1265.0 944.3C1263.7 943.1 1259.8 939.4 1257.0 936.8C1254.2 934.2 1250.7 930.8 1248.4 928.8C1246.2 926.8 1244.4 925.5 1243.6 924.8M1403.9 705.9C1402.8 708.3 1398.9 715.3 1397.2 720.1C1395.5 724.9 1394.2 730.2 1393.7 734.8C1393.3 739.5 1394.4 746.0 1394.5 748.2M1443.5 727.4C1442.2 729.0 1438.3 734.3 1436.0 737.5C1433.6 740.8 1430.4 745.3 1429.3 746.9M1474.8 751.4C1472.8 752.9 1466.5 757.7 1462.7 760.3C1458.9 762.8 1455.8 765.1 1452.0 766.9C1448.2 768.8 1442.0 770.7 1440.0 771.5M1457.4 765.1C1457.9 766.5 1459.8 770.6 1460.6 773.6C1461.4 776.6 1461.9 781.4 1462.2 783.0M1500.2 783.5C1498.4 784.3 1493.1 786.4 1489.5 788.3C1485.9 790.3 1481.9 792.9 1478.8 795.0C1475.7 797.1 1472.1 799.9 1470.8 800.9M1521.6 857.1C1519.4 857.5 1512.7 859.0 1508.2 859.8C1503.8 860.6 1499.3 863.1 1494.8 861.9C1490.4 860.7 1485.5 855.2 1481.5 852.6C1477.4 849.9 1474.6 847.3 1470.8 845.9C1467.0 844.4 1460.7 844.1 1458.7 843.7M1476.1 849.1C1474.3 850.3 1469.0 854.0 1465.4 856.6C1461.8 859.2 1455.4 861.2 1454.7 864.6C1454.0 867.9 1460.3 874.6 1461.4 876.6M1508.2 829.8C1506.4 830.4 1500.9 833.1 1497.5 833.6C1494.2 834.0 1489.7 832.7 1488.2 832.5M1516.2 910.6C1514.0 909.6 1507.8 906.2 1502.9 904.7C1498.0 903.2 1491.5 901.9 1486.8 901.5C1482.1 901.2 1476.8 902.4 1474.8 902.6M1502.9 945.4C1501.5 943.5 1497.5 938.0 1494.8 934.1C1492.2 930.3 1488.2 924.1 1486.8 922.1M1466.7 965.7C1467.1 962.7 1469.3 953.2 1468.6 947.5C1468.0 941.8 1464.8 935.7 1462.7 931.5C1460.6 927.2 1457.2 923.7 1456.0 922.1M1422.6 947.0C1423.6 945.3 1426.2 940.2 1428.5 936.8C1430.8 933.4 1435.2 928.4 1436.5 926.7M1341.4 741.7C1339.4 741.6 1333.3 741.0 1329.4 741.0C1325.5 741.1 1319.8 741.8 1317.9 742.0M1340.6 741.7C1342.6 741.6 1348.7 741.0 1352.6 741.0C1356.5 741.1 1362.2 741.8 1364.1 742.0M1341.4 761.7C1339.4 761.6 1333.1 761.1 1329.4 761.2C1325.7 761.3 1321.0 762.0 1319.3 762.2M1340.6 761.7C1342.6 761.6 1348.9 761.1 1352.6 761.2C1356.3 761.3 1361.0 762.0 1362.7 762.2M1341.4 775.4C1340.0 775.3 1335.5 774.9 1333.0 774.7C1330.5 774.5 1327.6 774.3 1326.5 774.2M1340.6 775.4C1342.0 775.3 1346.5 774.9 1349.0 774.7C1351.5 774.5 1354.4 774.3 1355.5 774.2M1341.4 687.6C1341.4 704.2 1341.4 770.8 1341.4 787.4" stroke="#dc8f9c" stroke-width="0.8" opacity="0.9"/></g><path d="M1283.8 894.0 L1292.6 904.7 L1296.6 907.4 L1298.2 915.4 L1297.7 928.8 L1304.4 940.8 L1316.4 948.9 L1332.5 953.1 L1341.0 951.8 L1341.0 951.8 L1345.0 953.7 L1361.1 952.9 L1374.5 944.8 L1381.1 931.5 L1382.5 914.1 L1385.2 906.9 L1388.4 905.3 L1397.2 894.0 Z" fill="#f0e1e3" clip-path="url(#brainclip)"/><path d="M1296.9 782.6C1299.1 784.4 1305.1 790.3 1310.2 793.0C1315.2 795.7 1321.8 797.6 1327.0 798.8C1332.2 800.0 1336.6 800.2 1341.4 800.2C1346.2 800.2 1350.7 800.0 1355.9 798.8C1361.1 797.6 1367.7 795.7 1372.7 793.0C1377.7 790.3 1383.7 784.4 1385.9 782.6" fill="none" stroke="#fbf3f4" stroke-width="1.2" opacity="0.54"/><path d="M1296.9 785.5C1299.1 787.2 1305.1 793.2 1310.2 795.9C1315.2 798.6 1321.8 800.4 1327.0 801.6C1332.2 802.8 1336.6 803.1 1341.4 803.1C1346.2 803.1 1350.7 802.8 1355.9 801.6C1361.1 800.4 1367.7 798.6 1372.7 795.9C1377.7 793.2 1383.7 787.2 1385.9 785.5" fill="none" stroke="#fbf3f4" stroke-width="1.2" opacity="0.54"/><path d="M1296.9 788.4C1299.1 790.1 1305.1 796.1 1310.2 798.8C1315.2 801.4 1321.8 803.3 1327.0 804.5C1332.2 805.7 1336.6 806.0 1341.4 806.0C1346.2 806.0 1350.7 805.7 1355.9 804.5C1361.1 803.3 1367.7 801.4 1372.7 798.8C1377.7 796.1 1383.7 790.1 1385.9 788.4" fill="none" stroke="#fbf3f4" stroke-width="1.2" opacity="0.51"/><path d="M1296.9 791.3C1299.1 793.0 1305.1 799.0 1310.2 801.6C1315.2 804.3 1321.8 806.2 1327.0 807.4C1332.2 808.6 1336.6 808.9 1341.4 808.9C1346.2 808.9 1350.7 808.6 1355.9 807.4C1361.1 806.2 1367.7 804.3 1372.7 801.6C1377.7 799.0 1383.7 793.0 1385.9 791.3" fill="none" stroke="#fbf3f4" stroke-width="1.2" opacity="0.48"/><path d="M1296.9 779.7C1299.1 781.5 1305.1 787.4 1310.2 790.1C1315.2 792.8 1321.8 794.7 1327.0 795.9C1332.2 797.1 1336.6 797.3 1341.4 797.3C1346.2 797.3 1350.7 797.1 1355.9 795.9C1361.1 794.7 1367.7 792.8 1372.7 790.1C1377.7 787.4 1383.7 781.5 1385.9 779.7" fill="none" stroke="#fbf3f4" stroke-width="1.2" opacity="0.36"/><path d="M1266.8 805.0C1269.2 808.3 1277.5 816.6 1281.3 824.7C1285.1 832.8 1287.5 844.0 1289.7 853.6C1291.9 863.2 1291.7 873.7 1294.5 882.5C1297.3 891.3 1302.3 900.5 1306.5 906.6C1310.8 912.6 1317.6 916.6 1319.8 918.6" fill="none" stroke="#fbf3f4" stroke-width="1.1" opacity="0.55"/><path d="M1415.2 805.0C1412.8 808.3 1404.5 816.6 1400.7 824.7C1396.9 832.8 1394.5 844.0 1392.3 853.6C1390.1 863.2 1390.3 873.7 1387.5 882.5C1384.7 891.3 1379.7 900.5 1375.5 906.6C1371.2 912.6 1364.4 916.6 1362.2 918.6" fill="none" stroke="#fbf3f4" stroke-width="1.1" opacity="0.55"/><path d="M1269.0 805.0C1271.4 808.3 1279.6 816.6 1283.4 824.7C1287.3 832.8 1289.7 844.0 1291.9 853.6C1294.1 863.2 1293.9 873.7 1296.7 882.5C1299.5 891.3 1304.5 900.5 1308.7 906.6C1312.9 912.6 1319.7 916.6 1321.9 918.6" fill="none" stroke="#fbf3f4" stroke-width="1.1" opacity="0.55"/><path d="M1413.0 805.0C1410.6 808.3 1402.4 816.6 1398.6 824.7C1394.7 832.8 1392.3 844.0 1390.1 853.6C1387.9 863.2 1388.1 873.7 1385.3 882.5C1382.5 891.3 1377.5 900.5 1373.3 906.6C1369.1 912.6 1362.3 916.6 1360.1 918.6" fill="none" stroke="#fbf3f4" stroke-width="1.1" opacity="0.55"/><path d="M1271.2 805.0C1273.6 808.3 1281.8 816.6 1285.6 824.7C1289.4 832.8 1291.8 844.0 1294.0 853.6C1296.2 863.2 1296.0 873.7 1298.8 882.5C1301.7 891.3 1306.7 900.5 1310.9 906.6C1315.1 912.6 1321.9 916.6 1324.1 918.6" fill="none" stroke="#fbf3f4" stroke-width="1.1" opacity="0.55"/><path d="M1410.8 805.0C1408.4 808.3 1400.2 816.6 1396.4 824.7C1392.6 832.8 1390.2 844.0 1388.0 853.6C1385.8 863.2 1386.0 873.7 1383.2 882.5C1380.3 891.3 1375.3 900.5 1371.1 906.6C1366.9 912.6 1360.1 916.6 1357.9 918.6" fill="none" stroke="#fbf3f4" stroke-width="1.1" opacity="0.55"/><path d="M1273.3 805.0C1275.7 808.3 1284.0 816.6 1287.8 824.7C1291.6 832.8 1294.0 844.0 1296.2 853.6C1298.4 863.2 1298.2 873.7 1301.0 882.5C1303.8 891.3 1308.8 900.5 1313.0 906.6C1317.3 912.6 1324.1 916.6 1326.3 918.6" fill="none" stroke="#fbf3f4" stroke-width="1.1" opacity="0.55"/><path d="M1408.7 805.0C1406.3 808.3 1398.0 816.6 1394.2 824.7C1390.4 832.8 1388.0 844.0 1385.8 853.6C1383.6 863.2 1383.8 873.7 1381.0 882.5C1378.2 891.3 1373.2 900.5 1369.0 906.6C1364.7 912.6 1357.9 916.6 1355.7 918.6" fill="none" stroke="#fbf3f4" stroke-width="1.1" opacity="0.55"/><path d="M1292.8 793.0C1293.4 791.6 1296.0 789.9 1298.1 790.3C1300.2 790.8 1302.5 793.5 1305.3 795.9C1308.1 798.2 1311.4 801.9 1315.0 804.3C1318.6 806.7 1323.1 809.0 1327.0 810.3C1330.8 811.6 1336.3 810.3 1338.1 812.2C1339.8 814.2 1339.0 819.7 1337.6 821.9C1336.1 824.1 1332.6 825.3 1329.4 825.5C1326.2 825.7 1322.2 824.5 1318.6 823.1C1315.0 821.6 1311.0 819.4 1307.7 816.6C1304.5 813.7 1301.5 808.9 1299.3 806.0C1297.1 803.0 1295.6 800.9 1294.5 798.8C1293.4 796.6 1292.2 794.4 1292.8 793.0Z" fill="#e5a4ad" stroke="#d98a96" stroke-width="0.7"/><path d="M1299.6 794.2C1300.7 794.1 1304.5 796.4 1307.3 798.3C1310.0 800.2 1312.9 803.6 1316.2 805.7C1319.5 807.9 1323.6 809.8 1327.0 811.0C1330.4 812.2 1335.2 811.7 1336.6 813.0C1338.1 814.2 1337.0 817.1 1335.7 818.5C1334.3 819.9 1331.1 821.0 1328.4 821.1C1325.8 821.3 1322.6 820.7 1319.8 819.5C1317.0 818.2 1314.0 815.7 1311.6 813.4C1309.2 811.2 1306.9 808.2 1305.1 805.7C1303.3 803.3 1301.5 800.7 1300.5 798.8C1299.6 796.8 1298.4 794.3 1299.6 794.2Z" fill="currentColor"/><path d="M1321.0 819.9C1321.4 818.8 1326.0 818.4 1328.2 818.7C1330.4 819.1 1333.4 820.5 1334.2 821.9C1335.0 823.2 1334.4 826.1 1333.0 826.7C1331.6 827.2 1327.8 826.3 1325.8 825.2C1323.8 824.1 1320.6 821.0 1321.0 819.9Z" fill="#e9718b"/><path d="M1389.2 793.0C1388.6 791.6 1386.0 789.9 1383.9 790.3C1381.8 790.8 1379.5 793.5 1376.7 795.9C1373.9 798.2 1370.6 801.9 1367.0 804.3C1363.4 806.7 1358.9 809.0 1355.0 810.3C1351.2 811.6 1345.7 810.3 1343.9 812.2C1342.2 814.2 1343.0 819.7 1344.4 821.9C1345.9 824.1 1349.4 825.3 1352.6 825.5C1355.8 825.7 1359.8 824.5 1363.4 823.1C1367.0 821.6 1371.0 819.4 1374.3 816.6C1377.5 813.7 1380.5 808.9 1382.7 806.0C1384.9 803.0 1386.4 800.9 1387.5 798.8C1388.6 796.6 1389.8 794.4 1389.2 793.0Z" fill="#e5a4ad" stroke="#d98a96" stroke-width="0.7"/><path d="M1382.4 794.2C1381.3 794.1 1377.5 796.4 1374.7 798.3C1372.0 800.2 1369.1 803.6 1365.8 805.7C1362.5 807.9 1358.4 809.8 1355.0 811.0C1351.6 812.2 1346.8 811.7 1345.4 813.0C1343.9 814.2 1345.0 817.1 1346.3 818.5C1347.7 819.9 1350.9 821.0 1353.6 821.1C1356.2 821.3 1359.4 820.7 1362.2 819.5C1365.0 818.2 1368.0 815.7 1370.4 813.4C1372.8 811.2 1375.1 808.2 1376.9 805.7C1378.7 803.3 1380.5 800.7 1381.5 798.8C1382.4 796.8 1383.6 794.3 1382.4 794.2Z" fill="currentColor"/><path d="M1361.0 819.9C1360.6 818.8 1356.0 818.4 1353.8 818.7C1351.6 819.1 1348.6 820.5 1347.8 821.9C1347.0 823.2 1347.6 826.1 1349.0 826.7C1350.4 827.2 1354.2 826.3 1356.2 825.2C1358.2 824.1 1361.4 821.0 1361.0 819.9Z" fill="#e9718b"/><path d="M1330.6 816.3C1331.0 814.4 1332.9 813.8 1334.2 813.2C1335.5 812.6 1337.7 813.5 1338.5 812.7C1339.4 811.9 1338.7 809.1 1339.5 808.4C1340.3 807.7 1342.6 807.7 1343.4 808.4C1344.2 809.1 1343.4 811.9 1344.3 812.7C1345.2 813.5 1347.3 812.6 1348.7 813.2C1350.0 813.8 1351.9 814.4 1352.3 816.3C1352.7 818.2 1352.3 822.6 1351.1 824.7C1349.9 826.9 1346.6 828.2 1345.0 829.1C1343.4 830.0 1342.6 830.0 1341.4 830.0C1340.2 830.0 1339.4 830.0 1337.8 829.1C1336.2 828.2 1333.0 826.9 1331.8 824.7C1330.6 822.6 1330.2 818.2 1330.6 816.3Z" fill="#f6dadd" stroke="#d98a96" stroke-width="0.8"/><path d="M1334.2 827.2C1335.0 826.8 1339.0 831.5 1341.4 831.5C1343.8 831.5 1347.9 826.8 1348.7 827.2C1349.5 827.6 1347.4 832.4 1346.2 833.9C1345.0 835.3 1343.0 835.8 1341.4 835.8C1339.8 835.8 1337.8 835.3 1336.6 833.9C1335.4 832.4 1333.4 827.6 1334.2 827.2Z" fill="#e9718b"/><path d="M1341.4 835.3C1341.4 838.4 1341.4 850.6 1341.4 853.6" fill="none" stroke="#e39aa5" stroke-width="1.6"/><path d="M1341.4 852.7C1342.4 852.7 1343.8 855.9 1344.3 858.4C1344.9 861.0 1345.3 865.2 1344.8 868.1C1344.3 870.9 1342.6 875.8 1341.4 875.8C1340.3 875.8 1338.5 870.9 1338.1 868.1C1337.6 865.2 1338.0 861.0 1338.5 858.4C1339.1 855.9 1340.5 852.7 1341.4 852.7Z" fill="#eaa9b1" stroke="#d98a96" stroke-width="0.7"/><path d="M1299.3 828.4C1301.3 824.7 1307.1 825.0 1312.6 824.3C1318.0 823.5 1327.5 822.1 1331.8 823.8C1336.1 825.5 1337.3 828.6 1338.5 834.4C1339.7 840.1 1340.0 851.8 1339.0 858.4C1338.1 865.0 1335.8 871.7 1333.0 874.1C1330.2 876.5 1326.2 874.9 1322.2 872.9C1318.2 870.9 1312.6 866.5 1309.0 862.0C1305.3 857.6 1302.1 852.0 1300.5 846.4C1298.9 840.8 1297.3 832.0 1299.3 828.4Z" fill="#f2cace"/><path d="M1313.0 825.2C1314.2 828.4 1317.1 838.5 1319.8 844.0C1322.5 849.5 1327.0 853.6 1329.4 858.4C1331.8 863.2 1333.4 870.5 1334.2 872.9" fill="none" stroke="#f8e6e8" stroke-width="1.5"/><path d="M1322.2 844.0C1323.8 844.4 1329.1 846.4 1331.8 846.4C1334.5 846.4 1337.4 844.4 1338.5 844.0" fill="none" stroke="#f8e6e8" stroke-width="1.3"/><path d="M1305.3 856.0C1307.7 856.4 1316.2 856.4 1319.8 858.4C1323.4 860.4 1325.8 866.5 1327.0 868.1" fill="none" stroke="#f8e6e8" stroke-width="1.2"/><path d="M1283.7 801.2C1283.7 799.4 1286.7 798.8 1288.5 799.5C1290.3 800.2 1292.9 803.2 1294.5 805.5C1296.1 807.8 1298.0 811.5 1298.1 813.2C1298.2 814.9 1296.8 816.1 1295.2 815.6C1293.6 815.1 1290.4 812.7 1288.5 810.3C1286.6 807.9 1283.7 803.0 1283.7 801.2Z" fill="#f2cace"/><path d="M1255.3 875.3C1255.3 870.3 1256.3 855.8 1258.4 848.8C1260.5 841.8 1264.8 836.0 1268.0 833.2C1271.3 830.4 1275.5 830.2 1277.7 832.0C1279.9 833.8 1281.5 838.8 1281.3 844.0C1281.1 849.2 1278.9 857.8 1276.5 863.2C1274.1 868.7 1269.9 873.9 1266.8 876.5C1263.8 879.1 1260.3 879.1 1258.4 878.9C1256.5 878.7 1255.3 880.3 1255.3 875.3Z" fill="#f2cace"/><path d="M1276.0 872.9C1275.0 869.9 1278.4 859.2 1280.1 856.0C1281.8 852.8 1284.5 852.4 1286.1 853.6C1287.7 854.8 1289.7 859.8 1289.7 863.2C1289.7 866.7 1288.4 872.5 1286.1 874.1C1283.8 875.7 1277.0 875.9 1276.0 872.9Z" fill="#f4d0d4"/><path d="M1287.3 872.9C1286.9 871.3 1289.7 865.4 1290.9 864.4C1292.1 863.4 1294.1 865.2 1294.5 866.9C1294.9 868.5 1294.5 873.1 1293.3 874.1C1292.1 875.1 1287.7 874.5 1287.3 872.9Z" fill="#f4d0d4"/><path d="M1251.2 880.1C1251.4 876.5 1251.2 865.2 1252.4 858.4C1253.6 851.6 1255.6 845.3 1258.4 839.2C1261.2 833.1 1267.4 824.7 1269.2 821.9" fill="none" stroke="#f6d5d8" stroke-width="2"/><path d="M1303.4 878.9C1303.5 876.9 1306.1 875.3 1307.7 876.5C1309.4 877.7 1312.4 883.7 1313.0 886.1C1313.6 888.5 1312.3 890.5 1311.4 890.9C1310.4 891.3 1308.6 890.5 1307.3 888.5C1305.9 886.5 1303.3 880.9 1303.4 878.9Z" fill="#f2cace"/><circle cx="1326.0" cy="885.4" r="4.6" fill="#f2cace"/><path d="M1316.2 896.4C1317.3 896.3 1319.4 898.0 1322.2 898.9C1325.0 899.7 1331.4 900.8 1333.0 901.7C1334.6 902.7 1333.6 904.4 1331.8 904.6C1330.0 904.9 1324.9 904.0 1322.2 903.2C1319.5 902.4 1316.5 900.9 1315.4 899.8C1314.4 898.7 1315.0 896.6 1316.2 896.4Z" fill="#e9b2b9"/><path d="M1258.4 893.3C1259.8 892.8 1264.0 890.5 1266.8 890.2C1269.7 889.9 1272.5 890.2 1275.3 891.6C1278.0 893.1 1281.0 895.6 1283.2 898.9C1285.4 902.1 1288.0 907.7 1288.5 911.4C1289.0 915.1 1286.5 919.4 1286.1 921.0" fill="none" stroke="#e7a0ab" stroke-width="2.4" stroke-linecap="round"/><path d="M1276.5 907.8C1275.7 906.8 1273.9 902.8 1271.7 901.7C1269.4 900.7 1265.6 900.5 1263.2 901.3C1260.8 902.1 1258.3 904.7 1257.2 906.6C1256.1 908.4 1255.9 911.2 1256.7 912.6C1257.5 914.0 1259.9 915.0 1262.0 915.0C1264.1 915.0 1268.0 913.0 1269.2 912.6" fill="none" stroke="#f3c7cc" stroke-width="4.5" stroke-linecap="round"/><path d="M1278.9 921.0C1277.9 920.6 1275.3 918.6 1272.9 918.6C1270.5 918.6 1266.6 921.0 1264.4 921.0C1262.2 921.0 1260.4 919.0 1259.6 918.6" fill="none" stroke="#f8e8ea" stroke-width="1.6" stroke-linecap="round"/><ellipse cx="1281.8" cy="896.2" rx="3.200" ry="2.2" fill="#fbf1f2"/><path d="M1382.7 828.4C1380.7 824.7 1374.9 825.0 1369.4 824.3C1364.0 823.5 1354.5 822.1 1350.2 823.8C1345.9 825.5 1344.7 828.6 1343.5 834.4C1342.3 840.1 1342.0 851.8 1343.0 858.4C1343.9 865.0 1346.2 871.7 1349.0 874.1C1351.8 876.5 1355.8 874.9 1359.8 872.9C1363.8 870.9 1369.4 866.5 1373.0 862.0C1376.7 857.6 1379.9 852.0 1381.5 846.4C1383.1 840.8 1384.7 832.0 1382.7 828.4Z" fill="#f2cace"/><path d="M1369.0 825.2C1367.8 828.4 1364.9 838.5 1362.2 844.0C1359.5 849.5 1355.0 853.6 1352.6 858.4C1350.2 863.2 1348.6 870.5 1347.8 872.9" fill="none" stroke="#f8e6e8" stroke-width="1.5"/><path d="M1359.8 844.0C1358.2 844.4 1352.9 846.4 1350.2 846.4C1347.5 846.4 1344.6 844.4 1343.5 844.0" fill="none" stroke="#f8e6e8" stroke-width="1.3"/><path d="M1376.7 856.0C1374.3 856.4 1365.8 856.4 1362.2 858.4C1358.6 860.4 1356.2 866.5 1355.0 868.1" fill="none" stroke="#f8e6e8" stroke-width="1.2"/><path d="M1398.3 801.2C1398.3 799.4 1395.3 798.8 1393.5 799.5C1391.7 800.2 1389.1 803.2 1387.5 805.5C1385.9 807.8 1384.0 811.5 1383.9 813.2C1383.8 814.9 1385.2 816.1 1386.8 815.6C1388.4 815.1 1391.6 812.7 1393.5 810.3C1395.4 807.9 1398.3 803.0 1398.3 801.2Z" fill="#f2cace"/><path d="M1426.7 875.3C1426.7 870.3 1425.7 855.8 1423.6 848.8C1421.5 841.8 1417.2 836.0 1414.0 833.2C1410.7 830.4 1406.5 830.2 1404.3 832.0C1402.1 833.8 1400.5 838.8 1400.7 844.0C1400.9 849.2 1403.1 857.8 1405.5 863.2C1407.9 868.7 1412.1 873.9 1415.2 876.5C1418.2 879.1 1421.7 879.1 1423.6 878.9C1425.5 878.7 1426.7 880.3 1426.7 875.3Z" fill="#f2cace"/><path d="M1406.0 872.9C1407.0 869.9 1403.6 859.2 1401.9 856.0C1400.2 852.8 1397.5 852.4 1395.9 853.6C1394.3 854.8 1392.3 859.8 1392.3 863.2C1392.3 866.7 1393.6 872.5 1395.9 874.1C1398.2 875.7 1405.0 875.9 1406.0 872.9Z" fill="#f4d0d4"/><path d="M1394.7 872.9C1395.1 871.3 1392.3 865.4 1391.1 864.4C1389.9 863.4 1387.9 865.2 1387.5 866.9C1387.1 868.5 1387.5 873.1 1388.7 874.1C1389.9 875.1 1394.3 874.5 1394.7 872.9Z" fill="#f4d0d4"/><path d="M1430.8 880.1C1430.6 876.5 1430.8 865.2 1429.6 858.4C1428.4 851.6 1426.4 845.3 1423.6 839.2C1420.8 833.1 1414.6 824.7 1412.8 821.9" fill="none" stroke="#f6d5d8" stroke-width="2"/><path d="M1378.6 878.9C1378.5 876.9 1375.9 875.3 1374.3 876.5C1372.6 877.7 1369.6 883.7 1369.0 886.1C1368.4 888.5 1369.7 890.5 1370.6 890.9C1371.6 891.3 1373.4 890.5 1374.7 888.5C1376.1 886.5 1378.7 880.9 1378.6 878.9Z" fill="#f2cace"/><circle cx="1356.0" cy="885.4" r="4.6" fill="#f2cace"/><path d="M1365.8 896.4C1364.7 896.3 1362.6 898.0 1359.8 898.9C1357.0 899.7 1350.6 900.8 1349.0 901.7C1347.4 902.7 1348.4 904.4 1350.2 904.6C1352.0 904.9 1357.1 904.0 1359.8 903.2C1362.5 902.4 1365.5 900.9 1366.6 899.8C1367.6 898.7 1367.0 896.6 1365.8 896.4Z" fill="#e9b2b9"/><path d="M1423.6 893.3C1422.2 892.8 1418.0 890.5 1415.2 890.2C1412.3 889.9 1409.5 890.2 1406.7 891.6C1404.0 893.1 1401.0 895.6 1398.8 898.9C1396.6 902.1 1394.0 907.7 1393.5 911.4C1393.0 915.1 1395.5 919.4 1395.9 921.0" fill="none" stroke="#e7a0ab" stroke-width="2.4" stroke-linecap="round"/><path d="M1405.5 907.8C1406.3 906.8 1408.1 902.8 1410.3 901.7C1412.6 900.7 1416.4 900.5 1418.8 901.3C1421.2 902.1 1423.7 904.7 1424.8 906.6C1425.9 908.4 1426.1 911.2 1425.3 912.6C1424.5 914.0 1422.1 915.0 1420.0 915.0C1417.9 915.0 1414.0 913.0 1412.8 912.6" fill="none" stroke="#f3c7cc" stroke-width="4.5" stroke-linecap="round"/><path d="M1403.1 921.0C1404.1 920.6 1406.7 918.6 1409.1 918.6C1411.5 918.6 1415.4 921.0 1417.6 921.0C1419.8 921.0 1421.6 919.0 1422.4 918.6" fill="none" stroke="#f8e8ea" stroke-width="1.6" stroke-linecap="round"/><ellipse cx="1400.2" cy="896.2" rx="3.200" ry="2.2" fill="#fbf1f2"/><path d="M1341.4 899.3C1342.9 899.3 1345.1 905.4 1345.8 907.8C1346.4 910.2 1346.0 912.4 1345.3 913.8C1344.6 915.2 1342.7 916.2 1341.4 916.2C1340.2 916.2 1338.3 915.2 1337.6 913.8C1336.9 912.4 1336.5 910.2 1337.1 907.8C1337.7 905.4 1340.0 899.3 1341.4 899.3Z" fill="#eaa9b1" stroke="#d98a96" stroke-width="0.7"/><path d="M1341.0 693.4C1339.7 693.3 1340.1 690.1 1337.3 689.1C1334.4 688.1 1328.3 687.5 1323.9 687.2C1319.4 687.0 1314.7 687.0 1310.5 687.5C1306.3 688.0 1301.7 689.0 1298.5 690.2C1295.3 691.3 1293.0 692.8 1291.3 694.4C1289.5 696.1 1289.5 699.3 1288.0 699.8C1286.6 700.3 1284.9 697.4 1282.4 697.7C1279.9 697.9 1275.9 700.0 1273.1 701.4C1270.3 702.8 1267.2 704.5 1265.6 705.9C1264.0 707.4 1264.9 709.5 1263.4 710.0C1262.0 710.5 1260.3 707.9 1257.0 708.9C1253.7 709.9 1248.1 713.1 1243.6 716.1C1239.2 719.1 1234.1 723.3 1230.3 726.8C1226.4 730.3 1223.0 733.5 1220.6 737.0C1218.2 740.4 1218.0 745.8 1215.8 747.4C1213.6 749.1 1210.2 745.9 1207.5 746.9C1204.8 747.9 1201.9 750.7 1199.8 753.3C1197.6 755.9 1195.1 760.0 1194.4 762.4C1193.7 764.8 1196.6 766.5 1195.5 767.7C1194.3 769.0 1189.8 767.6 1187.5 769.9C1185.1 772.2 1183.0 777.7 1181.6 781.7C1180.1 785.6 1179.0 790.4 1178.9 793.4C1178.8 796.5 1181.6 797.8 1180.8 799.9C1180.0 801.9 1175.9 802.5 1174.1 805.7C1172.3 808.9 1170.6 814.7 1170.1 819.1C1169.5 823.6 1170.1 828.9 1170.9 832.5C1171.6 836.1 1175.4 838.8 1174.6 840.5C1173.8 842.2 1168.4 840.6 1166.1 842.7C1163.7 844.7 1161.9 848.9 1160.7 852.6C1159.5 856.2 1158.6 861.2 1158.8 864.6C1159.1 867.9 1161.9 870.2 1162.0 872.6C1162.1 875.1 1160.1 875.7 1159.4 879.3C1158.6 882.9 1157.6 889.3 1157.5 894.0C1157.4 898.7 1157.9 904.2 1158.6 907.4C1159.2 910.6 1161.3 911.5 1161.2 913.3C1161.1 915.1 1158.6 915.5 1158.0 918.1C1157.4 920.7 1156.8 925.0 1157.5 928.8C1158.2 932.6 1159.5 937.2 1162.0 940.8C1164.6 944.5 1168.5 947.8 1172.7 950.7C1177.0 953.6 1182.5 956.4 1187.5 958.2C1192.4 960.1 1197.5 961.5 1202.2 961.7C1206.8 961.9 1212.3 960.9 1215.5 959.6C1218.8 958.2 1219.7 954.1 1221.7 953.7C1223.7 953.3 1224.4 956.5 1227.6 957.2C1230.8 957.8 1236.7 957.9 1241.0 957.4C1245.2 956.9 1249.5 955.7 1253.0 954.2C1256.5 952.7 1259.8 950.0 1261.8 948.3C1263.8 946.7 1263.4 945.3 1265.0 944.3C1266.7 943.3 1269.0 944.1 1271.7 942.2C1274.4 940.3 1278.5 936.2 1281.1 932.8C1283.6 929.5 1285.6 925.7 1287.0 922.1C1288.4 918.5 1289.2 914.2 1289.4 911.4C1289.6 908.6 1287.6 906.7 1288.0 905.5C1288.4 904.3 1290.4 903.9 1291.8 904.2C1293.1 904.5 1295.1 905.5 1296.1 907.4C1297.0 909.3 1297.5 911.9 1297.7 915.4C1297.9 919.0 1296.1 924.6 1297.1 928.8C1298.2 933.0 1300.7 937.5 1303.8 940.8C1306.9 944.2 1311.2 946.8 1315.9 948.9C1320.5 950.9 1327.7 952.7 1331.9 953.1C1336.1 953.6 1338.8 951.7 1341.0 951.8C1343.2 951.9 1341.7 953.5 1345.0 953.7C1348.4 953.9 1356.2 954.3 1361.1 952.9C1366.0 951.4 1371.1 948.4 1374.5 944.8C1377.8 941.3 1379.8 936.6 1381.1 931.5C1382.5 926.3 1381.8 918.3 1382.5 914.1C1383.1 909.9 1384.0 908.0 1385.2 906.3C1386.3 904.7 1389.1 903.9 1389.4 904.2C1389.8 904.5 1387.9 906.1 1387.3 907.9C1386.7 909.8 1385.6 912.4 1386.0 915.4C1386.3 918.5 1387.3 922.6 1389.4 926.1C1391.5 929.7 1394.8 933.7 1398.5 936.8C1402.3 939.9 1407.9 943.2 1411.9 944.8C1415.9 946.5 1420.3 945.7 1422.6 947.0C1424.9 948.3 1423.1 950.6 1425.8 952.9C1428.5 955.2 1433.8 958.4 1438.7 960.9C1443.5 963.4 1450.0 966.8 1454.7 967.6C1459.4 968.4 1464.4 965.2 1466.7 965.7C1469.1 966.2 1466.2 970.4 1468.6 970.5C1471.1 970.6 1477.1 968.7 1481.5 966.2C1485.8 963.8 1491.3 959.0 1494.8 955.5C1498.4 952.1 1500.1 948.1 1502.9 945.4C1505.6 942.6 1508.7 943.1 1511.4 939.0C1514.1 934.9 1518.1 925.5 1518.9 920.8C1519.7 916.0 1516.0 913.3 1516.2 910.6C1516.5 907.9 1519.0 908.4 1520.3 904.7C1521.5 901.1 1523.0 894.5 1523.7 888.7C1524.4 882.9 1524.9 875.2 1524.5 869.9C1524.2 864.7 1521.8 861.1 1521.6 857.1C1521.4 853.1 1523.2 850.4 1523.2 845.9C1523.2 841.3 1522.7 835.6 1521.6 829.8C1520.4 824.0 1518.5 817.3 1516.2 811.1C1514.0 804.8 1510.9 797.0 1508.2 792.4C1505.5 787.8 1502.0 786.2 1500.2 783.5C1498.4 780.9 1499.7 780.2 1497.5 776.3C1495.3 772.4 1490.6 764.4 1486.8 760.3C1483.0 756.1 1476.6 753.7 1474.8 751.4C1473.0 749.2 1477.2 749.2 1476.1 746.9C1475.0 744.6 1471.7 740.9 1468.1 737.5C1464.5 734.2 1458.8 728.5 1454.7 726.8C1450.6 725.1 1445.5 728.0 1443.5 727.4C1441.5 726.7 1444.8 724.7 1442.7 722.8C1440.5 720.9 1435.3 718.6 1430.6 716.1C1426.0 713.7 1419.0 709.8 1414.6 708.1C1410.1 706.4 1406.1 707.3 1403.9 705.9C1401.7 704.6 1403.4 702.2 1401.2 700.1C1399.0 698.0 1395.0 695.2 1390.5 693.4C1386.0 691.6 1379.8 690.3 1374.5 689.4C1369.1 688.4 1363.3 687.5 1358.4 687.5C1353.5 687.5 1347.9 688.4 1345.0 689.4C1342.1 690.3 1342.3 693.4 1341.0 693.4Z" fill="none" stroke="#dc8f9c" stroke-width="1"/></g></defs>
<use href="#brain" color="#e9f3e9"/>
<use href="#brain" transform="translate(530,0)" color="#e6f4f5"/>
</g>

<g id="panel_cd">
<defs><clipPath id="cclip"><circle cx="1331.7" cy="431.7" r="116.500"/></clipPath></defs>
<circle cx="1331.7" cy="431.7" r="115.3" fill="#f9fbf9"/>
<g clip-path="url(#cclip)">
<g opacity="0.62"><path d="M1308.4 358.4C1308.8 358.3 1309.9 357.9 1310.6 357.6C1311.3 357.3 1312.0 357.1 1312.8 356.8C1313.5 356.5 1314.2 356.3 1314.9 356.0C1315.7 355.8 1316.4 355.5 1317.1 355.3C1317.9 355.0 1318.6 354.8 1319.4 354.6C1320.1 354.4 1320.9 354.2 1321.6 354.0C1322.4 353.8 1323.1 353.6 1323.9 353.5C1324.6 353.4 1325.4 353.2 1326.2 353.1C1327.0 353.0 1327.8 353.0 1328.5 352.9C1329.3 352.9 1330.1 352.8 1331.0 352.9C1331.8 352.9 1332.6 352.9 1333.4 353.0C1334.3 353.1 1335.1 353.2 1335.9 353.3C1336.8 353.4 1337.6 353.6 1338.5 353.7C1339.4 353.9 1340.2 354.1 1341.1 354.3C1342.0 354.5 1342.8 354.7 1343.7 354.9C1344.6 355.1 1345.4 355.3 1346.3 355.5C1347.2 355.6 1348.0 355.8 1348.9 355.9C1349.7 356.0 1350.6 356.1 1351.4 356.2C1352.2 356.2 1353.0 356.2 1353.8 356.2C1354.6 356.1 1355.4 356.0 1356.1 355.8C1356.9 355.7 1357.6 355.5 1358.2 355.2C1358.9 354.9 1359.6 354.6 1360.2 354.2C1360.9 353.8 1361.5 353.4 1362.2 353.0C1362.8 352.5 1363.4 352.0 1364.0 351.5C1364.6 351.0 1365.2 350.4 1365.8 349.9C1366.4 349.3 1367.0 348.7 1367.6 348.2C1368.2 347.6 1368.8 347.0 1369.4 346.5C1370.0 345.9 1370.6 345.4 1371.2 344.8C1371.8 344.3 1372.4 343.8 1373.0 343.3C1373.6 342.8 1374.2 342.3 1374.8 341.9C1375.5 341.4 1376.1 341.0 1376.7 340.6C1377.4 340.1 1378.0 339.7 1378.7 339.4C1379.3 339.0 1380.0 338.6 1380.6 338.3C1381.3 337.9 1382.0 337.6 1382.6 337.2C1383.3 336.9 1384.0 336.6 1384.6 336.3C1385.3 336.0 1386.0 335.7 1386.7 335.3C1387.3 335.0 1388.0 334.7 1388.7 334.4C1389.4 334.2 1390.0 333.9 1390.7 333.6C1391.4 333.3 1392.1 333.0 1392.7 332.7C1393.4 332.4 1394.4 332.0 1394.8 331.8C1395.1 331.7 1395.1 331.7 1394.8 331.8C1394.4 331.9 1393.4 332.3 1392.7 332.6C1392.0 332.9 1391.3 333.1 1390.6 333.4C1390.0 333.6 1389.3 333.9 1388.6 334.1C1387.9 334.4 1387.2 334.6 1386.5 334.8C1385.8 335.0 1385.1 335.3 1384.4 335.5C1383.7 335.7 1383.0 335.9 1382.3 336.0C1381.5 336.2 1380.8 336.4 1380.1 336.5C1379.4 336.6 1378.6 336.7 1377.9 336.8C1377.2 336.9 1376.4 337.0 1375.7 337.0C1374.9 337.0 1374.1 337.1 1373.4 337.0C1372.6 337.0 1371.8 336.9 1371.0 336.9C1370.2 336.8 1369.4 336.7 1368.6 336.5C1367.8 336.4 1367.0 336.2 1366.2 336.1C1365.3 335.9 1364.5 335.7 1363.7 335.5C1362.8 335.3 1362.0 335.0 1361.2 334.8C1360.3 334.6 1359.5 334.4 1358.7 334.2C1357.9 334.1 1357.0 333.9 1356.2 333.7C1355.4 333.6 1354.6 333.5 1353.8 333.5C1353.1 333.4 1352.3 333.4 1351.5 333.4C1350.8 333.5 1350.1 333.5 1349.3 333.7C1348.6 333.9 1347.8 334.1 1347.1 334.4C1346.4 334.7 1345.7 335.0 1345.0 335.4C1344.3 335.8 1343.6 336.2 1343.0 336.7C1342.3 337.2 1341.6 337.7 1341.0 338.2C1340.4 338.7 1339.7 339.3 1339.1 339.9C1338.5 340.4 1337.8 341.0 1337.2 341.6C1336.6 342.2 1335.9 342.7 1335.3 343.3C1334.7 343.9 1334.0 344.4 1333.4 345.0C1332.7 345.5 1332.1 346.1 1331.4 346.6C1330.8 347.1 1330.1 347.6 1329.5 348.0C1328.8 348.5 1328.1 348.9 1327.5 349.4C1326.8 349.8 1326.1 350.2 1325.4 350.6C1324.7 351.0 1324.0 351.4 1323.3 351.7C1322.6 352.1 1321.9 352.4 1321.2 352.8C1320.5 353.1 1319.8 353.5 1319.1 353.8C1318.4 354.1 1317.7 354.4 1317.0 354.7C1316.3 355.1 1315.6 355.4 1314.8 355.7C1314.1 356.0 1313.4 356.3 1312.7 356.6C1312.0 356.9 1311.3 357.2 1310.6 357.5C1309.8 357.8 1308.8 358.2 1308.4 358.4C1308.0 358.5 1308.1 358.6 1308.4 358.4Z" fill="#fde9cc" stroke="#f0b773" stroke-width="0.9" stroke-linejoin="round"/>
<ellipse cx="1352.7" cy="344.8" rx="9.5" ry="6.4" fill="#f7d3a0" transform="rotate(-12 1352.7 344.8)"/></g>
<g opacity="0.62"><path d="M1249.3 407.3C1249.6 407.0 1250.3 406.1 1250.8 405.5C1251.3 404.9 1251.8 404.3 1252.3 403.7C1252.8 403.1 1253.3 402.5 1253.8 401.9C1254.3 401.3 1254.8 400.7 1255.4 400.2C1255.9 399.6 1256.4 399.0 1257.0 398.4C1257.5 397.9 1258.0 397.3 1258.6 396.8C1259.2 396.3 1259.7 395.7 1260.3 395.2C1260.9 394.7 1261.5 394.2 1262.1 393.7C1262.8 393.2 1263.4 392.8 1264.1 392.3C1264.7 391.9 1265.4 391.5 1266.1 391.1C1266.8 390.7 1267.6 390.3 1268.3 389.9C1269.1 389.6 1269.8 389.2 1270.6 388.9C1271.4 388.6 1272.2 388.3 1273.1 388.0C1273.9 387.7 1274.7 387.4 1275.6 387.1C1276.4 386.8 1277.3 386.6 1278.1 386.3C1278.9 386.0 1279.8 385.7 1280.6 385.4C1281.4 385.2 1282.3 384.9 1283.0 384.5C1283.8 384.2 1284.6 383.9 1285.3 383.5C1286.1 383.1 1286.9 382.6 1287.4 382.2C1288.0 381.9 1288.2 381.7 1288.7 381.3C1289.2 380.9 1289.9 380.4 1290.4 379.8C1290.9 379.3 1291.4 378.7 1291.8 378.0C1292.3 377.4 1292.7 376.7 1293.0 376.1C1293.4 375.4 1293.8 374.7 1294.1 373.9C1294.5 373.2 1294.8 372.4 1295.1 371.7C1295.4 370.9 1295.7 370.1 1296.0 369.4C1296.4 368.6 1296.7 367.8 1297.0 367.1C1297.3 366.3 1297.6 365.5 1297.9 364.8C1298.3 364.1 1298.6 363.3 1299.0 362.6C1299.3 361.9 1299.7 361.2 1300.1 360.5C1300.5 359.8 1300.9 359.1 1301.3 358.5C1301.7 357.8 1302.1 357.2 1302.6 356.5C1303.0 355.9 1303.4 355.3 1303.9 354.7C1304.3 354.1 1304.8 353.5 1305.3 352.9C1305.8 352.3 1306.2 351.7 1306.7 351.1C1307.2 350.5 1307.7 349.9 1308.2 349.3C1308.7 348.8 1309.1 348.2 1309.6 347.6C1310.1 347.1 1310.6 346.5 1311.1 345.9C1311.6 345.3 1312.1 344.8 1312.6 344.2C1313.1 343.6 1313.9 342.8 1314.1 342.5C1314.3 342.2 1314.3 342.2 1314.1 342.5C1313.8 342.8 1313.0 343.6 1312.5 344.1C1312.0 344.7 1311.5 345.2 1311.0 345.8C1310.5 346.3 1309.9 346.8 1309.4 347.4C1308.9 347.9 1308.3 348.4 1307.8 349.0C1307.3 349.5 1306.7 350.0 1306.2 350.5C1305.6 351.0 1305.0 351.5 1304.5 352.0C1303.9 352.4 1303.3 352.9 1302.7 353.4C1302.1 353.8 1301.5 354.3 1300.8 354.7C1300.2 355.1 1299.5 355.5 1298.9 355.9C1298.2 356.2 1297.5 356.6 1296.8 356.9C1296.1 357.3 1295.3 357.6 1294.6 357.9C1293.8 358.2 1293.0 358.4 1292.2 358.7C1291.5 358.9 1290.6 359.2 1289.8 359.4C1289.0 359.6 1288.2 359.8 1287.3 360.0C1286.5 360.2 1285.6 360.4 1284.8 360.6C1284.0 360.8 1283.1 361.0 1282.3 361.2C1281.5 361.4 1280.6 361.6 1279.9 361.9C1279.1 362.2 1278.3 362.4 1277.6 362.7C1276.8 363.0 1276.1 363.4 1275.4 363.8C1274.8 364.1 1274.2 364.4 1273.5 365.0C1272.9 365.6 1272.0 366.6 1271.4 367.3C1270.8 368.0 1270.5 368.5 1270.0 369.2C1269.6 369.9 1269.2 370.6 1268.9 371.3C1268.5 372.1 1268.2 372.8 1267.9 373.6C1267.6 374.4 1267.3 375.2 1267.0 376.0C1266.7 376.8 1266.5 377.6 1266.2 378.4C1265.9 379.2 1265.7 380.0 1265.4 380.8C1265.1 381.6 1264.8 382.4 1264.5 383.2C1264.2 384.0 1263.9 384.7 1263.6 385.5C1263.3 386.3 1262.9 387.0 1262.6 387.7C1262.2 388.5 1261.8 389.2 1261.5 389.9C1261.1 390.6 1260.7 391.3 1260.3 392.0C1259.9 392.7 1259.4 393.3 1259.0 394.0C1258.6 394.7 1258.2 395.3 1257.7 396.0C1257.3 396.6 1256.8 397.3 1256.4 397.9C1255.9 398.5 1255.4 399.2 1255.0 399.8C1254.5 400.4 1254.0 401.0 1253.6 401.7C1253.1 402.3 1252.6 402.9 1252.2 403.5C1251.7 404.2 1251.2 404.8 1250.7 405.4C1250.3 406.0 1249.5 406.9 1249.3 407.3C1249.1 407.6 1249.1 407.6 1249.3 407.3Z" fill="#fde9cc" stroke="#f0b773" stroke-width="0.9" stroke-linejoin="round"/>
<ellipse cx="1281.1" cy="373.2" rx="8.6" ry="6.8" fill="#f7d3a0" transform="rotate(-40 1281.1 373.2)"/></g>
<g><path d="M1334.6 394.8C1334.8 394.5 1335.7 393.8 1336.3 393.3C1336.8 392.8 1337.4 392.3 1338.0 391.8C1338.6 391.3 1339.1 390.9 1339.7 390.4C1340.3 389.9 1340.9 389.4 1341.5 389.0C1342.1 388.5 1342.7 388.1 1343.3 387.6C1343.9 387.2 1344.5 386.7 1345.1 386.3C1345.7 385.9 1346.4 385.5 1347.0 385.1C1347.7 384.7 1348.3 384.4 1349.0 384.0C1349.7 383.7 1350.4 383.3 1351.1 383.0C1351.8 382.7 1352.6 382.4 1353.3 382.2C1354.1 381.9 1354.8 381.7 1355.6 381.5C1356.4 381.3 1357.2 381.1 1358.0 381.0C1358.8 380.8 1359.7 380.7 1360.5 380.5C1361.4 380.4 1362.2 380.3 1363.1 380.2C1364.0 380.1 1364.9 380.0 1365.7 379.9C1366.6 379.8 1367.5 379.7 1368.3 379.6C1369.2 379.5 1370.0 379.3 1370.8 379.2C1371.6 379.0 1372.4 378.8 1373.2 378.6C1374.0 378.4 1374.8 378.1 1375.4 377.8C1376.1 377.5 1376.7 377.2 1377.2 376.9C1377.8 376.5 1378.4 376.1 1379.0 375.6C1379.5 375.2 1380.0 374.6 1380.5 374.1C1381.0 373.6 1381.4 373.0 1381.8 372.3C1382.3 371.7 1382.7 371.1 1383.1 370.4C1383.5 369.7 1383.8 369.0 1384.2 368.3C1384.6 367.6 1384.9 366.9 1385.3 366.2C1385.6 365.5 1386.0 364.7 1386.4 364.0C1386.7 363.3 1387.1 362.6 1387.5 361.9C1387.9 361.3 1388.3 360.6 1388.7 359.9C1389.1 359.3 1389.5 358.6 1389.9 358.0C1390.3 357.4 1390.8 356.8 1391.2 356.2C1391.7 355.6 1392.2 355.1 1392.6 354.5C1393.1 353.9 1393.6 353.4 1394.1 352.9C1394.6 352.3 1395.1 351.8 1395.6 351.3C1396.1 350.8 1396.6 350.3 1397.1 349.8C1397.6 349.3 1398.1 348.8 1398.7 348.3C1399.2 347.8 1399.7 347.3 1400.2 346.8C1400.8 346.3 1401.3 345.9 1401.8 345.4C1402.4 344.9 1402.9 344.4 1403.4 343.9C1403.9 343.5 1404.8 342.8 1405.0 342.5C1405.3 342.3 1405.3 342.3 1405.0 342.5C1404.7 342.7 1403.9 343.4 1403.3 343.9C1402.8 344.3 1402.3 344.8 1401.7 345.2C1401.1 345.7 1400.6 346.1 1400.0 346.5C1399.5 347.0 1398.9 347.4 1398.3 347.8C1397.8 348.3 1397.2 348.7 1396.6 349.1C1396.0 349.5 1395.4 349.9 1394.8 350.3C1394.2 350.7 1393.6 351.0 1393.0 351.4C1392.4 351.7 1391.7 352.0 1391.1 352.4C1390.4 352.7 1389.8 352.9 1389.1 353.2C1388.4 353.5 1387.7 353.7 1386.9 353.9C1386.2 354.1 1385.5 354.3 1384.7 354.5C1384.0 354.7 1383.2 354.8 1382.4 354.9C1381.6 355.0 1380.8 355.1 1380.0 355.2C1379.2 355.3 1378.3 355.3 1377.5 355.4C1376.7 355.5 1375.8 355.5 1375.0 355.6C1374.1 355.6 1373.3 355.7 1372.5 355.8C1371.7 355.8 1370.9 355.9 1370.1 356.0C1369.3 356.2 1368.5 356.3 1367.8 356.5C1367.0 356.7 1366.3 356.9 1365.6 357.2C1364.9 357.4 1364.3 357.7 1363.7 358.1C1363.0 358.5 1362.3 359.1 1361.7 359.6C1361.1 360.2 1360.6 360.7 1360.1 361.3C1359.6 361.9 1359.1 362.5 1358.7 363.2C1358.2 363.8 1357.8 364.5 1357.4 365.2C1357.0 365.9 1356.6 366.6 1356.2 367.4C1355.8 368.1 1355.5 368.9 1355.1 369.6C1354.7 370.4 1354.3 371.1 1353.9 371.9C1353.6 372.6 1353.2 373.3 1352.8 374.0C1352.4 374.8 1352.0 375.5 1351.5 376.2C1351.1 376.8 1350.7 377.5 1350.2 378.2C1349.8 378.8 1349.3 379.5 1348.9 380.1C1348.4 380.7 1347.9 381.3 1347.4 381.9C1346.9 382.5 1346.4 383.1 1345.9 383.6C1345.4 384.2 1344.9 384.8 1344.3 385.3C1343.8 385.9 1343.3 386.4 1342.8 386.9C1342.2 387.5 1341.7 388.0 1341.1 388.5C1340.6 389.1 1340.0 389.6 1339.5 390.1C1338.9 390.6 1338.4 391.1 1337.8 391.7C1337.3 392.2 1336.7 392.7 1336.2 393.2C1335.6 393.7 1334.8 394.5 1334.5 394.8C1334.3 395.0 1334.3 395.0 1334.6 394.8Z" fill="#fde9cc" stroke="#f0b773" stroke-width="0.9" stroke-linejoin="round"/>
<ellipse cx="1370.5" cy="367.5" rx="9.1" ry="6.8" fill="#f7d3a0" transform="rotate(-30 1370.5 367.5)"/></g>
<g><path d="M1236.8 409.1C1266.7 410.3 1266.7 410.3 1303.2 379.5C1270.6 420.8 1270.6 420.8 1256.1 461.8C1257.3 426.7 1257.3 426.7 1236.8 409.1Z" fill="#fde9cc" stroke="#f0b773" stroke-width="0.9" stroke-linejoin="round"/>
<ellipse cx="1264.5" cy="420.9" rx="8.0" ry="8.6" fill="#f7d3a0" transform="rotate(0 1264.5 420.9)"/></g>
<g><path d="M1319.7 361.4C1319.8 361.8 1319.9 363.2 1320.0 364.1C1320.1 364.9 1320.2 365.8 1320.3 366.7C1320.4 367.6 1320.5 368.5 1320.5 369.4C1320.6 370.3 1320.7 371.2 1320.7 372.1C1320.8 373.0 1320.8 373.9 1320.8 374.8C1320.8 375.7 1320.8 376.6 1320.8 377.5C1320.8 378.4 1320.7 379.3 1320.6 380.2C1320.6 381.1 1320.5 382.0 1320.3 382.9C1320.2 383.9 1320.0 384.8 1319.8 385.7C1319.6 386.6 1319.3 387.5 1319.0 388.4C1318.7 389.3 1318.4 390.3 1318.0 391.2C1317.6 392.1 1317.2 393.0 1316.8 393.9C1316.3 394.9 1315.8 395.8 1315.3 396.7C1314.8 397.7 1314.3 398.6 1313.7 399.5C1313.2 400.4 1312.6 401.4 1312.1 402.3C1311.5 403.2 1311.0 404.2 1310.5 405.1C1310.0 406.0 1309.5 407.0 1309.0 407.9C1308.6 408.8 1308.2 409.7 1307.9 410.6C1307.6 411.6 1307.3 412.5 1307.2 413.4C1307.0 414.3 1306.9 415.1 1306.8 415.9C1306.8 416.8 1306.9 417.6 1307.0 418.4C1307.2 419.3 1307.4 420.1 1307.7 420.9C1308.0 421.7 1308.3 422.6 1308.7 423.4C1309.1 424.2 1309.6 425.0 1310.1 425.8C1310.6 426.6 1311.1 427.4 1311.7 428.3C1312.2 429.1 1312.8 429.9 1313.3 430.7C1313.9 431.5 1314.5 432.3 1315.0 433.1C1315.5 433.9 1316.1 434.7 1316.6 435.5C1317.1 436.4 1317.5 437.2 1318.0 438.0C1318.4 438.8 1318.9 439.6 1319.2 440.4C1319.6 441.3 1320.0 442.1 1320.3 442.9C1320.6 443.7 1320.9 444.5 1321.2 445.4C1321.4 446.2 1321.7 447.0 1321.9 447.8C1322.1 448.7 1322.3 449.5 1322.5 450.3C1322.7 451.1 1322.9 452.0 1323.0 452.8C1323.2 453.6 1323.3 454.4 1323.5 455.3C1323.6 456.1 1323.8 456.9 1323.9 457.8C1324.0 458.6 1324.1 459.4 1324.3 460.3C1324.4 461.1 1324.5 461.9 1324.6 462.7C1324.7 463.6 1324.9 464.8 1325.0 465.2C1325.0 465.6 1325.1 465.6 1325.0 465.2C1325.0 464.8 1324.9 463.6 1324.8 462.7C1324.7 461.9 1324.6 461.1 1324.5 460.2C1324.5 459.4 1324.4 458.6 1324.3 457.7C1324.3 456.9 1324.2 456.1 1324.2 455.2C1324.2 454.4 1324.1 453.6 1324.1 452.7C1324.1 451.9 1324.1 451.1 1324.2 450.2C1324.2 449.4 1324.3 448.6 1324.4 447.7C1324.5 446.9 1324.6 446.0 1324.7 445.2C1324.9 444.4 1325.1 443.5 1325.3 442.7C1325.5 441.8 1325.8 441.0 1326.1 440.1C1326.4 439.3 1326.8 438.4 1327.1 437.6C1327.5 436.7 1328.0 435.9 1328.4 435.0C1328.9 434.2 1329.4 433.3 1329.9 432.4C1330.4 431.6 1331.0 430.7 1331.5 429.9C1332.1 429.0 1332.7 428.1 1333.2 427.3C1333.8 426.4 1334.3 425.6 1334.9 424.7C1335.4 423.8 1335.9 423.0 1336.3 422.1C1336.8 421.3 1337.2 420.4 1337.5 419.6C1337.8 418.7 1338.1 417.9 1338.3 417.0C1338.5 416.2 1338.6 415.4 1338.6 414.5C1338.6 413.6 1338.5 412.6 1338.4 411.7C1338.2 410.8 1338.0 409.9 1337.7 409.0C1337.4 408.1 1337.0 407.2 1336.6 406.4C1336.2 405.5 1335.7 404.6 1335.2 403.7C1334.7 402.9 1334.2 402.0 1333.6 401.1C1333.0 400.3 1332.5 399.4 1331.9 398.5C1331.3 397.6 1330.8 396.8 1330.2 395.9C1329.7 395.0 1329.1 394.2 1328.6 393.3C1328.1 392.4 1327.6 391.5 1327.2 390.7C1326.7 389.8 1326.3 388.9 1325.9 388.0C1325.5 387.2 1325.1 386.3 1324.8 385.4C1324.5 384.5 1324.2 383.6 1323.9 382.7C1323.6 381.9 1323.3 381.0 1323.1 380.1C1322.9 379.2 1322.7 378.3 1322.5 377.4C1322.3 376.5 1322.1 375.6 1321.9 374.8C1321.7 373.9 1321.6 373.0 1321.4 372.1C1321.3 371.2 1321.1 370.3 1321.0 369.4C1320.8 368.5 1320.7 367.6 1320.6 366.7C1320.4 365.8 1320.3 364.9 1320.2 364.0C1320.1 363.1 1319.9 361.8 1319.8 361.4C1319.7 360.9 1319.7 360.9 1319.7 361.4Z" fill="#fde9cc" stroke="#f0b773" stroke-width="0.9" stroke-linejoin="round"/>
<ellipse cx="1322.7" cy="415.2" rx="6.8" ry="10.2" fill="#f7d3a0" transform="rotate(0 1322.7 415.2)"/></g>
<g><path d="M1331.1 395.9C1361.5 397.7 1361.5 397.7 1397.7 367.5C1365.0 408.3 1365.0 408.3 1348.6 448.6C1351.7 414.0 1351.7 414.0 1331.1 395.9Z" fill="#fde9cc" stroke="#f0b773" stroke-width="0.9" stroke-linejoin="round"/>
<ellipse cx="1359.5" cy="408.4" rx="8.6" ry="8.6" fill="#f7d3a0" transform="rotate(0 1359.5 408.4)"/></g>
<g opacity="0.62"><path d="M1403.8 359.5C1403.8 359.9 1403.8 361.0 1403.8 361.8C1403.7 362.5 1403.7 363.3 1403.7 364.0C1403.6 364.7 1403.6 365.5 1403.5 366.2C1403.5 367.0 1403.4 367.7 1403.3 368.4C1403.3 369.2 1403.2 369.9 1403.1 370.7C1403.0 371.4 1402.9 372.1 1402.7 372.9C1402.6 373.6 1402.4 374.3 1402.3 375.1C1402.1 375.8 1401.9 376.5 1401.6 377.2C1401.4 378.0 1401.1 378.7 1400.8 379.4C1400.5 380.1 1400.2 380.8 1399.8 381.5C1399.4 382.2 1399.0 382.9 1398.6 383.6C1398.2 384.3 1397.7 385.0 1397.2 385.7C1396.7 386.4 1396.1 387.1 1395.6 387.8C1395.0 388.5 1394.4 389.2 1393.8 389.9C1393.2 390.6 1392.6 391.2 1392.0 391.9C1391.4 392.6 1390.8 393.3 1390.3 394.0C1389.7 394.7 1389.2 395.4 1388.7 396.1C1388.2 396.8 1387.7 397.4 1387.3 398.2C1386.9 398.9 1386.6 399.6 1386.3 400.3C1386.0 401.0 1385.8 401.7 1385.6 402.5C1385.5 403.2 1385.5 404.0 1385.5 404.8C1385.5 405.5 1385.5 406.3 1385.7 407.1C1385.8 407.9 1386.0 408.7 1386.2 409.4C1386.5 410.2 1386.7 411.0 1387.1 411.8C1387.4 412.6 1387.7 413.4 1388.1 414.2C1388.4 415.0 1388.8 415.8 1389.2 416.6C1389.5 417.4 1389.9 418.2 1390.2 419.0C1390.6 419.8 1390.9 420.6 1391.3 421.4C1391.6 422.2 1391.9 423.0 1392.1 423.8C1392.4 424.6 1392.7 425.4 1392.9 426.2C1393.1 427.0 1393.3 427.7 1393.5 428.5C1393.6 429.3 1393.8 430.1 1393.9 430.9C1394.0 431.6 1394.1 432.4 1394.2 433.2C1394.3 434.0 1394.4 434.7 1394.4 435.5C1394.5 436.3 1394.5 437.1 1394.6 437.8C1394.6 438.6 1394.6 439.4 1394.7 440.1C1394.7 440.9 1394.7 441.7 1394.7 442.4C1394.7 443.2 1394.7 444.0 1394.7 444.7C1394.7 445.5 1394.7 446.3 1394.7 447.0C1394.7 447.8 1394.7 448.9 1394.7 449.3C1394.8 449.7 1394.8 449.7 1394.8 449.3C1394.8 448.9 1394.8 447.8 1394.9 447.0C1394.9 446.3 1394.9 445.5 1395.0 444.7C1395.0 444.0 1395.1 443.2 1395.1 442.5C1395.2 441.7 1395.2 440.9 1395.3 440.2C1395.4 439.4 1395.4 438.7 1395.5 437.9C1395.6 437.2 1395.8 436.4 1395.9 435.7C1396.0 434.9 1396.2 434.2 1396.4 433.4C1396.6 432.7 1396.8 431.9 1397.0 431.2C1397.2 430.4 1397.5 429.7 1397.8 429.0C1398.1 428.2 1398.4 427.5 1398.8 426.8C1399.2 426.0 1399.6 425.3 1400.0 424.6C1400.5 423.9 1401.0 423.2 1401.5 422.4C1402.0 421.7 1402.5 421.0 1403.1 420.3C1403.6 419.6 1404.2 418.9 1404.8 418.2C1405.4 417.5 1406.0 416.8 1406.6 416.1C1407.2 415.4 1407.8 414.7 1408.4 413.9C1408.9 413.2 1409.5 412.5 1410.0 411.8C1410.5 411.1 1410.9 410.4 1411.3 409.7C1411.7 408.9 1412.1 408.2 1412.3 407.5C1412.6 406.7 1412.8 406.0 1413.0 405.2C1413.1 404.5 1413.2 403.8 1413.2 403.0C1413.2 402.3 1413.1 401.5 1413.0 400.8C1412.8 400.0 1412.6 399.3 1412.4 398.5C1412.2 397.7 1411.9 396.9 1411.6 396.2C1411.3 395.4 1410.9 394.6 1410.6 393.8C1410.2 393.0 1409.8 392.3 1409.5 391.5C1409.1 390.7 1408.7 389.9 1408.4 389.1C1408.0 388.3 1407.7 387.6 1407.4 386.8C1407.1 386.0 1406.8 385.2 1406.5 384.4C1406.2 383.7 1406.0 382.9 1405.8 382.1C1405.5 381.4 1405.3 380.6 1405.2 379.8C1405.0 379.1 1404.8 378.3 1404.7 377.5C1404.6 376.8 1404.5 376.0 1404.4 375.3C1404.3 374.5 1404.3 373.8 1404.2 373.0C1404.1 372.3 1404.1 371.5 1404.1 370.8C1404.0 370.0 1404.0 369.3 1404.0 368.5C1403.9 367.8 1403.9 367.0 1403.9 366.3C1403.9 365.5 1403.9 364.8 1403.9 364.0C1403.9 363.3 1403.9 362.5 1403.9 361.8C1403.9 361.0 1403.9 359.9 1403.9 359.5C1403.9 359.2 1403.9 359.2 1403.8 359.5Z" fill="#fde9cc" stroke="#f0b773" stroke-width="0.9" stroke-linejoin="round"/>
<ellipse cx="1399.3" cy="403.9" rx="6.4" ry="9.1" fill="#f7d3a0" transform="rotate(5 1399.3 403.9)"/></g>
<g><path d="M1291.3 404.5C1291.3 404.9 1291.0 406.1 1290.9 406.9C1290.7 407.7 1290.5 408.4 1290.4 409.2C1290.2 410.0 1290.0 410.8 1289.8 411.5C1289.6 412.3 1289.5 413.1 1289.3 413.8C1289.1 414.6 1288.8 415.4 1288.6 416.1C1288.4 416.9 1288.1 417.6 1287.9 418.4C1287.6 419.1 1287.3 419.9 1287.0 420.6C1286.7 421.4 1286.4 422.1 1286.1 422.8C1285.7 423.6 1285.3 424.3 1284.9 425.0C1284.5 425.7 1284.0 426.4 1283.6 427.1C1283.1 427.8 1282.6 428.5 1282.0 429.1C1281.5 429.8 1280.9 430.5 1280.3 431.1C1279.7 431.8 1279.1 432.4 1278.4 433.1C1277.8 433.7 1277.1 434.4 1276.4 435.0C1275.8 435.6 1275.1 436.3 1274.4 436.9C1273.7 437.5 1273.0 438.2 1272.4 438.8C1271.7 439.5 1271.1 440.1 1270.5 440.8C1269.9 441.4 1269.3 442.1 1268.8 442.8C1268.3 443.5 1267.9 444.1 1267.5 444.9C1267.0 445.7 1266.6 446.6 1266.4 447.4C1266.1 448.2 1265.9 448.9 1265.8 449.7C1265.7 450.5 1265.6 451.3 1265.6 452.2C1265.6 453.0 1265.7 453.8 1265.8 454.7C1265.9 455.5 1266.0 456.4 1266.2 457.2C1266.3 458.1 1266.5 459.0 1266.7 459.8C1266.9 460.7 1267.1 461.6 1267.3 462.5C1267.6 463.3 1267.8 464.2 1268.0 465.1C1268.2 465.9 1268.4 466.8 1268.5 467.7C1268.7 468.5 1268.9 469.4 1269.0 470.3C1269.1 471.1 1269.2 472.0 1269.3 472.8C1269.4 473.6 1269.4 474.5 1269.5 475.3C1269.5 476.1 1269.5 477.0 1269.5 477.8C1269.5 478.6 1269.5 479.4 1269.5 480.2C1269.4 481.1 1269.4 481.9 1269.3 482.7C1269.2 483.5 1269.2 484.3 1269.1 485.1C1269.0 485.9 1268.9 486.7 1268.8 487.5C1268.7 488.3 1268.6 489.1 1268.5 489.9C1268.4 490.7 1268.3 491.5 1268.2 492.3C1268.1 493.1 1267.9 493.9 1267.8 494.7C1267.7 495.5 1267.5 496.6 1267.5 497.0C1267.4 497.4 1267.4 497.4 1267.5 497.1C1267.6 496.7 1267.8 495.5 1267.9 494.7C1268.1 493.9 1268.2 493.1 1268.4 492.3C1268.5 491.5 1268.7 490.8 1268.9 490.0C1269.0 489.2 1269.2 488.4 1269.4 487.6C1269.6 486.9 1269.8 486.1 1270.0 485.3C1270.2 484.5 1270.4 483.8 1270.6 483.0C1270.9 482.2 1271.1 481.5 1271.4 480.7C1271.7 480.0 1272.0 479.2 1272.4 478.5C1272.7 477.7 1273.1 477.0 1273.5 476.3C1273.8 475.6 1274.3 474.8 1274.7 474.1C1275.2 473.4 1275.7 472.7 1276.2 472.0C1276.7 471.3 1277.3 470.6 1277.9 470.0C1278.5 469.3 1279.1 468.6 1279.7 467.9C1280.4 467.3 1281.0 466.6 1281.7 466.0C1282.3 465.3 1283.0 464.6 1283.7 464.0C1284.3 463.3 1285.0 462.7 1285.7 462.0C1286.3 461.3 1286.9 460.6 1287.5 460.0C1288.1 459.3 1288.6 458.6 1289.1 457.9C1289.6 457.2 1290.0 456.5 1290.4 455.7C1290.8 455.0 1291.1 454.2 1291.4 453.5C1291.6 452.8 1291.8 452.3 1291.9 451.5C1292.0 450.8 1292.1 449.9 1292.1 449.1C1292.2 448.3 1292.1 447.5 1292.0 446.6C1292.0 445.8 1291.9 445.0 1291.7 444.1C1291.6 443.2 1291.4 442.4 1291.2 441.5C1291.1 440.6 1290.9 439.7 1290.7 438.9C1290.5 438.0 1290.3 437.1 1290.1 436.3C1289.9 435.4 1289.8 434.5 1289.6 433.7C1289.5 432.8 1289.3 431.9 1289.2 431.1C1289.1 430.2 1289.0 429.4 1289.0 428.6C1288.9 427.7 1288.9 426.9 1288.9 426.1C1288.8 425.2 1288.8 424.4 1288.9 423.6C1288.9 422.8 1288.9 422.0 1289.0 421.2C1289.1 420.4 1289.1 419.6 1289.2 418.8C1289.3 418.0 1289.4 417.2 1289.5 416.4C1289.6 415.6 1289.7 414.8 1289.8 414.0C1289.9 413.2 1290.1 412.4 1290.2 411.6C1290.3 410.8 1290.5 410.1 1290.6 409.3C1290.7 408.5 1290.8 407.7 1291.0 406.9C1291.1 406.1 1291.3 404.9 1291.4 404.6C1291.4 404.2 1291.4 404.2 1291.3 404.5Z" fill="#fde9cc" stroke="#f0b773" stroke-width="0.9" stroke-linejoin="round"/>
<ellipse cx="1278.9" cy="450.5" rx="8.0" ry="10.9" fill="#f7d3a0" transform="rotate(10 1278.9 450.5)"/></g>
<g><path d="M1296.4 409.5C1311.2 458.9 1311.2 458.9 1334.5 495.9C1308.2 473.0 1308.2 473.0 1281.1 480.0C1300.5 455.7 1300.5 455.7 1296.4 409.5Z" fill="#fde9cc" stroke="#f0b773" stroke-width="0.9" stroke-linejoin="round"/>
<ellipse cx="1308.4" cy="463.0" rx="8.0" ry="9.5" fill="#f7d3a0" transform="rotate(-10 1308.4 463.0)"/></g>
<g><path d="M1337.2 416.4C1337.3 416.8 1337.4 418.2 1337.5 419.1C1337.6 420.0 1337.7 420.9 1337.7 421.8C1337.8 422.7 1337.9 423.6 1337.9 424.5C1338.0 425.4 1338.1 426.3 1338.1 427.3C1338.1 428.2 1338.2 429.1 1338.2 430.0C1338.2 430.9 1338.2 431.8 1338.2 432.7C1338.1 433.6 1338.1 434.5 1338.0 435.5C1337.9 436.4 1337.8 437.3 1337.7 438.2C1337.5 439.1 1337.4 440.0 1337.2 441.0C1337.0 441.9 1336.7 442.8 1336.4 443.7C1336.2 444.6 1335.9 445.6 1335.5 446.5C1335.1 447.4 1334.8 448.3 1334.3 449.3C1333.9 450.2 1333.4 451.1 1333.0 452.1C1332.5 453.0 1332.0 453.9 1331.5 454.9C1331.0 455.8 1330.4 456.7 1329.9 457.6C1329.4 458.6 1328.9 459.5 1328.4 460.4C1328.0 461.4 1327.5 462.3 1327.1 463.2C1326.7 464.2 1326.3 465.1 1326.0 466.0C1325.7 466.9 1325.4 467.9 1325.3 468.8C1325.1 469.7 1325.0 470.6 1325.0 471.4C1324.9 472.3 1325.0 473.1 1325.1 473.9C1325.2 474.7 1325.4 475.6 1325.7 476.4C1325.9 477.2 1326.2 478.0 1326.6 478.8C1327.0 479.6 1327.4 480.5 1327.8 481.3C1328.3 482.1 1328.8 482.9 1329.3 483.7C1329.7 484.5 1330.3 485.3 1330.8 486.1C1331.3 486.9 1331.8 487.7 1332.3 488.5C1332.8 489.3 1333.2 490.2 1333.7 491.0C1334.1 491.8 1334.6 492.6 1335.0 493.4C1335.4 494.2 1335.7 495.0 1336.1 495.8C1336.4 496.7 1336.8 497.5 1337.1 498.3C1337.3 499.1 1337.6 499.9 1337.9 500.7C1338.1 501.6 1338.3 502.4 1338.5 503.2C1338.7 504.0 1338.9 504.8 1339.1 505.7C1339.2 506.5 1339.4 507.3 1339.6 508.1C1339.7 508.9 1339.8 509.8 1340.0 510.6C1340.1 511.4 1340.2 512.2 1340.3 513.1C1340.5 513.9 1340.6 514.7 1340.7 515.5C1340.8 516.3 1340.9 517.2 1341.0 518.0C1341.1 518.8 1341.3 520.0 1341.3 520.5C1341.4 520.9 1341.4 520.9 1341.4 520.5C1341.4 520.0 1341.2 518.8 1341.2 518.0C1341.1 517.2 1341.0 516.3 1340.9 515.5C1340.9 514.7 1340.8 513.9 1340.8 513.0C1340.7 512.2 1340.7 511.4 1340.6 510.6C1340.6 509.7 1340.6 508.9 1340.6 508.1C1340.6 507.3 1340.6 506.4 1340.6 505.6C1340.7 504.8 1340.7 503.9 1340.8 503.1C1340.9 502.3 1341.0 501.5 1341.1 500.6C1341.3 499.8 1341.5 499.0 1341.7 498.1C1341.9 497.3 1342.1 496.4 1342.4 495.6C1342.7 494.8 1343.0 493.9 1343.4 493.1C1343.7 492.3 1344.2 491.4 1344.6 490.6C1345.0 489.7 1345.5 488.9 1346.0 488.0C1346.4 487.2 1347.0 486.3 1347.5 485.5C1348.0 484.7 1348.5 483.8 1349.0 483.0C1349.6 482.1 1350.1 481.3 1350.6 480.4C1351.1 479.6 1351.5 478.7 1351.9 477.9C1352.4 477.1 1352.7 476.2 1353.0 475.4C1353.4 474.5 1353.6 473.7 1353.8 472.9C1354.0 472.0 1354.1 471.3 1354.1 470.4C1354.2 469.5 1354.1 468.5 1354.0 467.6C1353.8 466.7 1353.6 465.8 1353.4 464.9C1353.1 464.0 1352.8 463.1 1352.4 462.2C1352.0 461.3 1351.6 460.4 1351.2 459.5C1350.7 458.6 1350.2 457.7 1349.7 456.8C1349.2 455.9 1348.7 455.0 1348.2 454.2C1347.7 453.3 1347.2 452.4 1346.7 451.5C1346.2 450.6 1345.7 449.7 1345.2 448.8C1344.8 447.9 1344.3 447.0 1343.9 446.1C1343.5 445.2 1343.1 444.4 1342.8 443.5C1342.4 442.6 1342.1 441.7 1341.8 440.8C1341.5 439.9 1341.2 439.0 1341.0 438.1C1340.7 437.2 1340.5 436.3 1340.3 435.4C1340.1 434.5 1339.9 433.6 1339.7 432.7C1339.5 431.8 1339.4 430.8 1339.2 429.9C1339.0 429.0 1338.9 428.1 1338.8 427.2C1338.6 426.3 1338.5 425.4 1338.4 424.5C1338.2 423.6 1338.1 422.7 1338.0 421.8C1337.9 420.9 1337.8 420.0 1337.6 419.1C1337.5 418.2 1337.4 416.8 1337.3 416.4C1337.2 415.9 1337.2 415.9 1337.2 416.4Z" fill="#fde9cc" stroke="#f0b773" stroke-width="0.9" stroke-linejoin="round"/>
<ellipse cx="1339.5" cy="470.9" rx="7.3" ry="10.9" fill="#f7d3a0" transform="rotate(0 1339.5 470.9)"/></g>
<g><path d="M1378.8 396.4C1378.8 396.8 1378.8 398.0 1378.8 398.9C1378.7 399.7 1378.7 400.5 1378.7 401.3C1378.6 402.2 1378.6 403.0 1378.5 403.8C1378.5 404.7 1378.4 405.5 1378.3 406.3C1378.3 407.1 1378.2 408.0 1378.1 408.8C1378.0 409.6 1377.8 410.4 1377.7 411.2C1377.6 412.1 1377.4 412.9 1377.2 413.7C1377.0 414.5 1376.8 415.3 1376.5 416.1C1376.3 416.9 1376.0 417.8 1375.7 418.6C1375.4 419.4 1375.0 420.2 1374.6 421.0C1374.2 421.8 1373.8 422.5 1373.3 423.3C1372.9 424.1 1372.4 424.9 1371.8 425.7C1371.3 426.5 1370.7 427.3 1370.1 428.0C1369.6 428.8 1368.9 429.6 1368.3 430.4C1367.7 431.1 1367.1 431.9 1366.4 432.7C1365.8 433.5 1365.2 434.2 1364.6 435.0C1364.0 435.8 1363.4 436.6 1362.9 437.4C1362.4 438.2 1361.9 438.9 1361.5 439.7C1361.1 440.5 1360.7 441.4 1360.4 442.1C1360.2 442.9 1360.0 443.3 1359.8 444.1C1359.7 444.9 1359.6 445.9 1359.5 446.8C1359.5 447.8 1359.6 448.7 1359.7 449.6C1359.8 450.6 1360.0 451.5 1360.2 452.5C1360.4 453.4 1360.7 454.4 1361.0 455.3C1361.3 456.3 1361.6 457.2 1361.9 458.2C1362.3 459.2 1362.7 460.1 1363.0 461.1C1363.4 462.1 1363.7 463.1 1364.1 464.0C1364.4 465.0 1364.7 465.9 1365.0 466.9C1365.4 467.9 1365.6 468.8 1365.9 469.8C1366.1 470.7 1366.4 471.7 1366.6 472.6C1366.8 473.6 1367.0 474.5 1367.1 475.5C1367.2 476.4 1367.4 477.4 1367.5 478.3C1367.6 479.2 1367.6 480.2 1367.7 481.1C1367.8 482.0 1367.8 482.9 1367.8 483.9C1367.8 484.8 1367.9 485.7 1367.9 486.6C1367.9 487.6 1367.8 488.5 1367.8 489.4C1367.8 490.3 1367.8 491.3 1367.8 492.2C1367.8 493.1 1367.7 494.0 1367.7 494.9C1367.7 495.9 1367.6 496.8 1367.6 497.7C1367.6 498.6 1367.5 500.0 1367.5 500.5C1367.5 500.9 1367.5 500.9 1367.5 500.5C1367.6 500.0 1367.7 498.6 1367.7 497.7C1367.8 496.8 1367.9 495.9 1367.9 495.0C1368.0 494.1 1368.1 493.1 1368.2 492.2C1368.3 491.3 1368.4 490.4 1368.5 489.5C1368.6 488.6 1368.7 487.7 1368.9 486.8C1369.0 485.9 1369.2 485.0 1369.3 484.1C1369.5 483.2 1369.7 482.3 1370.0 481.4C1370.2 480.5 1370.4 479.6 1370.7 478.7C1371.0 477.8 1371.3 476.9 1371.7 476.0C1372.0 475.2 1372.4 474.3 1372.9 473.4C1373.3 472.6 1373.8 471.7 1374.3 470.8C1374.8 470.0 1375.3 469.1 1375.9 468.3C1376.4 467.4 1377.0 466.6 1377.7 465.7C1378.3 464.9 1379.0 464.0 1379.6 463.2C1380.3 462.3 1380.9 461.5 1381.6 460.7C1382.3 459.8 1382.9 459.0 1383.5 458.1C1384.2 457.3 1384.8 456.5 1385.3 455.6C1385.9 454.7 1386.4 453.9 1386.9 453.0C1387.3 452.2 1387.7 451.3 1388.0 450.4C1388.4 449.5 1388.6 448.7 1388.8 447.7C1389.0 446.8 1389.0 445.7 1389.0 444.8C1389.0 443.8 1388.9 443.1 1388.8 442.2C1388.6 441.4 1388.4 440.5 1388.2 439.7C1387.9 438.8 1387.6 438.0 1387.3 437.1C1386.9 436.2 1386.5 435.4 1386.2 434.5C1385.8 433.6 1385.4 432.8 1385.0 431.9C1384.6 431.0 1384.2 430.2 1383.8 429.3C1383.4 428.4 1383.0 427.6 1382.7 426.7C1382.4 425.8 1382.0 425.0 1381.7 424.1C1381.4 423.2 1381.2 422.4 1380.9 421.5C1380.7 420.7 1380.5 419.8 1380.3 419.0C1380.1 418.1 1380.0 417.3 1379.8 416.4C1379.7 415.6 1379.6 414.7 1379.5 413.9C1379.4 413.1 1379.3 412.2 1379.2 411.4C1379.2 410.5 1379.1 409.7 1379.1 408.9C1379.0 408.0 1379.0 407.2 1379.0 406.4C1379.0 405.5 1378.9 404.7 1378.9 403.9C1378.9 403.0 1378.9 402.2 1378.9 401.4C1378.9 400.5 1378.9 399.7 1378.9 398.9C1378.9 398.0 1378.9 396.8 1378.9 396.4C1378.9 395.9 1378.9 395.9 1378.8 396.4Z" fill="#fde9cc" stroke="#f0b773" stroke-width="0.9" stroke-linejoin="round"/>
<ellipse cx="1374.3" cy="445.9" rx="7.3" ry="10.2" fill="#f7d3a0" transform="rotate(5 1374.3 445.9)"/></g>
<g opacity="0.62"><path d="M1241.4 438.0C1244.1 464.8 1244.1 464.8 1261.8 476.6C1241.6 474.5 1241.6 474.5 1228.9 486.8C1237.5 466.8 1237.5 466.8 1241.4 438.0Z" fill="#fde9cc" stroke="#f0b773" stroke-width="0.9" stroke-linejoin="round"/>
<ellipse cx="1239.1" cy="469.8" rx="6.4" ry="6.8" fill="#f7d3a0" transform="rotate(0 1239.1 469.8)"/></g>
<g opacity="0.62"><path d="M1278.2 503.9C1314.9 513.4 1314.9 513.4 1336.8 503.9C1327.3 522.0 1327.3 522.0 1340.2 547.0C1315.5 522.0 1315.5 522.0 1278.2 503.9Z" fill="#fde9cc" stroke="#f0b773" stroke-width="0.9" stroke-linejoin="round"/>
<ellipse cx="1319.8" cy="519.8" rx="6.8" ry="5.7" fill="#f7d3a0" transform="rotate(20 1319.8 519.8)"/></g>
<g opacity="0.62"><path d="M1376.6 481.1C1398.4 492.7 1398.4 492.7 1434.5 484.5C1397.2 501.6 1397.2 501.6 1370.5 525.5C1385.6 500.9 1385.6 500.9 1376.6 481.1Z" fill="#fde9cc" stroke="#f0b773" stroke-width="0.9" stroke-linejoin="round"/>
<ellipse cx="1393.6" cy="499.3" rx="6.8" ry="5.0" fill="#f7d3a0" transform="rotate(-15 1393.6 499.3)"/></g>
</g>
<circle cx="1331.7" cy="431.7" r="115.3" fill="none" stroke="#5cc08c" stroke-width="4.5"/>
<circle cx="1870.1" cy="436.6" r="115.3" fill="#f5f9fb" stroke="#72c5bd" stroke-width="4.5"/>
<g clip-path="url(#dclip)"><defs><clipPath id="dclip"><circle cx="1870.1" cy="436.6" r="113.5"/></clipPath></defs><g fill="none" stroke="#b894b6" stroke-linecap="round" stroke-linejoin="round"><path d="M1854.7 373.7C1855.2 371.4 1856.8 363.5 1857.7 359.8C1858.6 356.2 1859.7 353.1 1860.0 351.7" stroke-width="2.75"/><path d="M1860.0 351.7C1860.1 349.4 1859.4 341.7 1860.5 337.8C1861.7 333.9 1865.9 329.7 1867.0 328.1" stroke-width="1.88"/><path d="M1860.0 351.7C1861.7 350.6 1867.4 348.0 1869.8 344.8C1872.2 341.5 1873.6 334.1 1874.4 332.0" stroke-width="1.62"/><path d="M1867.0 349.4C1868.4 349.8 1873.6 352.1 1875.6 351.7C1877.6 351.3 1878.5 347.9 1879.0 347.1" stroke-width="1.38"/><path d="M1861.0 337.8C1861.3 336.8 1862.5 333.0 1862.8 332.0" stroke-width="1.25"/><path d="M1823.9 402.7C1822.7 402.6 1818.9 402.2 1816.5 402.2C1814.1 402.3 1810.7 403.0 1809.5 403.2" stroke-width="2.50"/><path d="M1809.5 403.2C1807.8 402.5 1802.4 400.7 1799.1 399.2C1795.8 397.8 1791.4 395.4 1789.8 394.6" stroke-width="1.75"/><path d="M1809.5 403.2C1807.2 404.2 1800.2 408.3 1795.6 409.7C1791.1 411.0 1784.4 410.8 1782.2 411.0" stroke-width="1.62"/><path d="M1799.1 408.5C1798.3 410.2 1797.8 416.4 1794.5 418.9C1791.1 421.4 1781.5 422.8 1778.9 423.6" stroke-width="1.38"/><path d="M1793.3 415.4C1793.9 416.4 1797.1 419.5 1796.8 421.2C1796.5 423.0 1792.3 425.1 1791.4 425.9" stroke-width="1.25"/><path d="M1809.5 403.2C1809.7 402.3 1810.6 399.7 1810.7 398.1C1810.8 396.4 1810.1 394.2 1810.0 393.4" stroke-width="1.25"/><path d="M1860.0 414.8C1862.2 416.6 1868.5 420.9 1873.3 425.9C1878.0 430.9 1883.5 438.7 1888.3 444.9C1893.1 451.1 1898.3 458.3 1902.2 463.0C1906.2 467.6 1910.3 471.1 1912.0 472.7" stroke-width="3.25"/><path d="M1912.0 472.7C1915.0 472.6 1923.7 468.2 1930.0 472.2C1936.3 476.2 1946.5 492.5 1949.7 496.6" stroke-width="2.12"/><path d="M1912.0 472.7C1912.7 476.1 1915.1 485.7 1916.1 493.1C1917.1 500.4 1917.7 512.8 1918.0 516.7" stroke-width="1.75"/><path d="M1915.0 493.1C1912.8 495.4 1906.3 504.2 1902.2 507.0C1898.2 509.8 1892.6 509.3 1890.6 509.8" stroke-width="1.50"/><path d="M1905.0 504.2C1905.1 506.2 1905.9 512.7 1905.7 516.3C1905.5 519.8 1904.3 524.0 1904.1 525.5" stroke-width="1.38"/><path d="M1925.4 473.4C1929.3 472.4 1941.6 469.0 1948.6 467.6C1955.5 466.2 1964.0 465.3 1967.1 464.8" stroke-width="1.62"/><path d="M1932.4 476.9C1934.3 478.4 1940.9 482.8 1943.9 486.1C1947.0 489.5 1949.3 495.0 1950.4 496.8" stroke-width="1.38"/></g><path d="M1855.9 368.9Q1835.5 382.9 1820.0 403.5Q1840.1 415.3 1862.9 418.6Q1863.4 392.8 1855.9 368.9Z" fill="#b894b6" stroke="#b894b6" stroke-width="1.2" stroke-linejoin="round"/><circle cx="1845.9" cy="396.9" r="7.8" fill="#9d6e9b"/><circle cx="1845.9" cy="396.9" r="2.6" fill="#6b3568"/><g fill="none" stroke="#a97aaa" stroke-linecap="round" stroke-linejoin="round"><path d="M1939.3 403.9C1940.0 401.2 1943.0 392.9 1943.5 387.6C1943.9 382.4 1942.3 375.1 1942.1 372.6" stroke-width="2.75"/><path d="M1942.1 372.6C1942.8 371.2 1945.6 367.2 1946.3 364.5C1947.0 361.7 1946.3 357.3 1946.3 355.9" stroke-width="1.75"/><path d="M1942.1 372.6C1941.2 371.4 1937.8 367.2 1937.0 365.6C1936.2 364.1 1937.4 363.7 1937.5 363.3" stroke-width="1.62"/><path d="M1943.9 384.2C1944.7 382.2 1946.8 375.7 1948.6 372.6C1950.4 369.5 1953.6 366.8 1954.6 365.6" stroke-width="1.62"/><path d="M1903.6 423.6C1899.5 424.6 1887.8 428.3 1879.0 429.6C1870.3 430.8 1860.0 430.4 1851.2 431.0C1842.4 431.5 1830.4 432.5 1826.2 432.8" stroke-width="3.50"/><path d="M1826.2 432.8C1824.2 431.7 1817.5 428.8 1814.2 425.9C1810.8 423.0 1808.3 418.1 1806.0 415.4C1803.8 412.7 1801.6 410.6 1800.7 409.7" stroke-width="2.50"/><path d="M1800.7 409.7C1799.9 408.5 1797.4 405.1 1795.6 402.7C1793.8 400.3 1790.8 396.5 1789.8 395.3" stroke-width="1.75"/><path d="M1809.5 420.8C1809.5 418.5 1809.3 411.8 1809.5 407.3C1809.7 402.9 1810.5 396.1 1810.7 393.9" stroke-width="1.62"/><path d="M1826.2 432.8C1824.6 434.8 1819.3 440.2 1816.5 444.4C1813.7 448.7 1812.2 452.1 1809.5 458.3C1806.9 464.6 1802.2 478.0 1800.7 482.0" stroke-width="2.25"/><path d="M1817.6 443.3C1814.7 443.8 1805.8 445.8 1800.3 446.7C1794.7 447.7 1787.1 448.7 1784.5 449.0" stroke-width="1.62"/><path d="M1813.7 451.4C1812.6 453.7 1810.9 462.5 1807.2 465.3C1803.5 468.1 1794.1 467.6 1791.4 468.1" stroke-width="1.50"/><path d="M1940.7 441.6C1942.0 443.8 1946.3 451.3 1948.6 454.8C1950.9 458.4 1953.4 461.6 1954.4 463.0" stroke-width="2.75"/><path d="M1954.4 463.0C1955.3 464.5 1958.9 469.7 1960.2 472.2C1961.4 474.7 1961.7 477.1 1962.0 478.0" stroke-width="1.88"/><path d="M1954.4 463.0C1956.3 464.1 1963.1 466.4 1966.0 469.9C1968.8 473.4 1970.4 481.5 1971.3 483.8" stroke-width="1.62"/><path d="M1952.1 460.6C1951.7 462.6 1950.3 468.9 1949.7 472.2C1949.2 475.5 1948.8 479.0 1948.6 480.3" stroke-width="1.38"/><path d="M1957.8 469.9C1957.8 471.5 1957.5 476.1 1957.8 479.2C1958.2 482.3 1959.4 486.9 1959.7 488.4" stroke-width="1.38"/><path d="M1955.5 463.0C1956.7 463.1 1960.5 463.8 1962.5 464.1C1964.4 464.4 1966.3 464.7 1967.1 464.8" stroke-width="1.25"/></g><path d="M1941.3 399.3Q1918.0 407.1 1899.4 423.3Q1919.0 436.8 1942.8 444.8Q1946.2 421.1 1941.3 399.3Z" fill="#a97aaa" stroke="#a97aaa" stroke-width="1.2" stroke-linejoin="round"/><circle cx="1928.2" cy="425.2" r="7.8" fill="#8b4f8c"/><circle cx="1928.2" cy="425.2" r="2.6" fill="#571d58"/><g fill="none" stroke="#8a7196" stroke-linecap="round" stroke-linejoin="round"><path d="M1851.2 455.5C1852.8 452.1 1857.4 441.2 1860.5 435.1C1863.6 429.0 1865.9 424.3 1869.8 418.9C1873.6 413.5 1880.0 407.7 1883.7 402.7C1887.4 397.7 1889.9 393.0 1891.8 388.8C1893.7 384.5 1894.3 379.1 1894.8 377.2" stroke-width="3.75"/><path d="M1894.8 377.2C1894.5 375.3 1894.0 369.5 1893.0 365.6C1891.9 361.8 1891.2 358.7 1888.3 354.0C1885.4 349.4 1877.7 340.5 1875.6 337.8" stroke-width="2.75"/><path d="M1875.6 337.8C1875.3 337.0 1874.1 334.4 1874.0 333.2C1873.8 331.9 1874.7 330.9 1874.9 330.4" stroke-width="1.75"/><path d="M1891.8 364.5C1891.2 361.2 1888.1 350.1 1888.3 344.8C1888.5 339.5 1892.2 334.7 1893.0 332.7" stroke-width="1.88"/><path d="M1894.8 365.6C1896.8 363.7 1903.9 358.5 1906.9 354.0C1909.8 349.6 1911.7 341.5 1912.7 339.0" stroke-width="1.88"/><path d="M1894.8 377.2C1896.8 377.4 1901.8 378.8 1906.9 378.4C1912.0 378.0 1919.9 376.2 1925.4 374.9C1930.9 373.6 1937.4 371.4 1939.8 370.7" stroke-width="2.75"/><path d="M1939.8 370.7C1940.7 369.9 1944.0 368.0 1945.1 365.6C1946.2 363.2 1946.1 357.9 1946.3 356.3" stroke-width="1.75"/><path d="M1925.4 384.2C1927.7 383.8 1934.4 382.6 1939.3 381.8C1944.2 381.1 1952.1 379.9 1954.6 379.5" stroke-width="1.75"/><path d="M1906.9 378.8C1909.9 379.9 1920.0 382.3 1925.4 385.3C1930.8 388.3 1937.0 395.0 1939.3 396.9" stroke-width="2.00"/><path d="M1807.7 472.7C1805.3 472.4 1798.0 471.5 1793.3 471.1C1788.6 470.6 1781.7 470.1 1779.4 469.9" stroke-width="3.00"/><path d="M1779.4 469.9C1777.9 470.3 1773.1 471.8 1770.1 472.2C1767.1 472.7 1762.8 472.6 1761.3 472.7" stroke-width="2.00"/><path d="M1789.8 470.4C1788.5 468.4 1786.2 460.6 1781.7 458.3C1777.3 456.0 1766.3 456.8 1763.2 456.5" stroke-width="1.88"/><path d="M1784.0 460.6C1783.6 459.9 1783.0 457.2 1781.7 456.0C1780.5 454.8 1777.5 454.1 1776.6 453.7" stroke-width="1.50"/><path d="M1779.4 469.9C1778.6 469.5 1776.2 468.1 1774.8 467.6C1773.3 467.1 1771.3 467.2 1770.6 467.1" stroke-width="1.62"/><path d="M1809.5 472.2C1808.9 473.2 1807.5 476.4 1806.0 478.0C1804.6 479.6 1801.6 481.3 1800.7 482.0" stroke-width="1.50"/><path d="M1848.9 492.6C1849.7 494.8 1851.6 502.1 1853.6 505.8C1855.5 509.6 1859.4 513.6 1860.5 515.1" stroke-width="3.00"/><path d="M1860.5 515.1C1861.5 516.8 1865.2 522.1 1866.3 525.5C1867.4 529.0 1866.9 534.2 1867.0 536.0" stroke-width="2.00"/><path d="M1860.5 515.1C1862.4 515.3 1868.6 515.1 1872.1 516.3C1875.6 517.5 1879.8 521.3 1881.4 522.3" stroke-width="1.88"/><path d="M1869.8 516.3C1870.9 518.0 1875.0 523.5 1876.7 526.7C1878.5 529.9 1879.8 533.8 1880.4 535.3" stroke-width="1.50"/></g><path d="M1853.8 451.6Q1826.3 458.6 1803.0 472.6Q1824.6 487.6 1851.2 496.1Q1857.6 474.0 1853.8 451.6Z" fill="#8a7196" stroke="#8a7196" stroke-width="1.2" stroke-linejoin="round"/><circle cx="1835.5" cy="473.6" r="7.8" fill="#5f3b70"/><circle cx="1835.5" cy="473.6" r="2.6" fill="#2c1038"/></g>
<path d="M1417.7 524.2 C1436 560 1445 605 1428.800 650" stroke="#231f20" stroke-width="4.5" fill="none"/>
<path transform="translate(1422.0,665.8) rotate(113.0)" d="M0 0L-20.9 -8.6L-16.8 0L-20.9 8.6Z" fill="#231f20"/>
<path d="M1979.9 512.1 C2030 560 2058 640 2044 716" stroke="#231f20" stroke-width="4.5" fill="none"/>
<path transform="translate(2040.4,733.2) rotate(100.3)" d="M0 0L-20.9 -8.6L-16.8 0L-20.9 8.6Z" fill="#231f20"/>
<g transform="translate(1415.8,836.0) rotate(180.0)"><path d="M0 0V38.0" stroke="#7f9186" stroke-width="1.5"/><g transform="translate(0,38.0) scale(1.044)"><rect x="-3.6" y="0" width="7.2" height="8" rx="1" fill="#dfe6e0" stroke="#8fa296" stroke-width="1.4"/><rect x="-9.4" y="8" width="18.8" height="60" rx="2.5" fill="#dfe6e0" stroke="#8fa296" stroke-width="2.1"/><rect x="-6" y="11.5" width="12" height="24" rx="1" fill="#9eada2"/><path d="M-8.0 41 h8.0 M-8.0 46 h6.0 M-8.0 51 h8.0 M-8.0 56 h6.0 M-8.0 61 h8.0" stroke="#8fa296" stroke-width="1.5"/><path d="M5.0 40 v22" stroke="#fff" stroke-width="1.6" opacity="0.7"/><rect x="-13.5" y="68" width="27" height="4.8" rx="2.4" fill="#8fa296"/><rect x="-1.9" y="72" width="3.8" height="16" fill="#8fa296"/><rect x="-9.5" y="86.5" width="19" height="4.8" rx="2.4" fill="#8fa296"/></g></g>
<path d="M1407.6 840.4C1407.9 837.3 1410.1 835.9 1411.7 834.9C1413.3 833.8 1415.5 833.2 1417.2 833.9C1419.0 834.6 1420.4 835.5 1422.0 839.2C1423.6 842.9 1425.7 850.6 1426.9 856.0C1428.0 861.4 1429.1 868.3 1428.8 871.7C1428.5 875.1 1426.9 875.9 1425.2 876.5C1423.4 877.1 1420.3 876.9 1418.4 875.3C1416.6 873.7 1415.5 870.5 1414.1 866.9C1412.7 863.2 1411.1 858.0 1410.0 853.6C1408.9 849.2 1407.3 843.5 1407.6 840.4Z" fill="#7a937e" stroke="#6a8370" stroke-width="0.8"/>
<g fill="none" stroke="#46524f" stroke-linecap="round" stroke-linejoin="round">
<path d="M1921.9 923.8C1922.3 925.6 1922.5 931.4 1924.4 934.5C1926.3 937.5 1930.2 940.6 1933.5 942.2C1936.8 943.7 1940.8 944.4 1944.2 943.9C1947.5 943.4 1951.2 941.4 1953.8 939.3C1956.4 937.2 1957.9 933.9 1959.7 931.3C1961.4 928.7 1963.7 925.0 1964.5 923.8" stroke-width="13.5" stroke-linecap="butt"/>
<path d="M1920.6 924.9C1922.2 924.7 1927.0 924.4 1930.3 924.0C1933.5 923.6 1937.0 923.2 1939.9 922.3C1942.8 921.4 1945.8 920.0 1947.6 918.4C1949.4 916.9 1950.7 914.8 1950.8 913.1C1950.8 911.4 1949.7 909.4 1947.9 908.3C1946.1 907.2 1942.7 906.5 1939.9 906.5C1937.0 906.4 1933.2 906.9 1930.8 907.7C1928.4 908.6 1926.1 910.5 1925.4 911.8C1924.8 913.1 1925.7 914.7 1927.0 915.4C1928.4 916.2 1931.4 916.6 1933.5 916.5C1935.5 916.4 1938.4 915.1 1939.3 914.8" stroke-width="5.6"/>
</g>
<path d="M1933.5 911.2C1934.2 911.4 1936.4 912.4 1937.7 912.6C1939.1 912.7 1940.7 911.8 1941.5 912.0C1942.3 912.3 1943.1 913.4 1942.6 914.2C1942.0 915.0 1939.0 916.4 1938.3 916.8" fill="none" stroke="#e6eeed" stroke-width="1.2" stroke-linecap="round"/>
<g transform="translate(1948.4,912.0) rotate(-106.8)"><path d="M0 0V33.8" stroke="#6d8580" stroke-width="1.5"/><g transform="translate(0,33.8) scale(1.034)"><rect x="-3.6" y="0" width="7.2" height="8" rx="1" fill="#cfd6d5" stroke="#7f9794" stroke-width="1.4"/><rect x="-9.4" y="8" width="18.8" height="60" rx="2.5" fill="#cfd6d5" stroke="#7f9794" stroke-width="2.1"/><rect x="-6" y="11.5" width="12" height="24" rx="1" fill="#8c9b99"/><path d="M-8.0 41 h8.0 M-8.0 46 h6.0 M-8.0 51 h8.0 M-8.0 56 h6.0 M-8.0 61 h8.0" stroke="#7f9794" stroke-width="1.5"/><path d="M5.0 40 v22" stroke="#fff" stroke-width="1.6" opacity="0.7"/><rect x="-13.5" y="68" width="27" height="4.8" rx="2.4" fill="#7f9794"/><rect x="-1.9" y="72" width="3.8" height="16" fill="#7f9794"/><rect x="-9.5" y="86.5" width="19" height="4.8" rx="2.4" fill="#7f9794"/></g></g>
</g>

<g id="labels" opacity="0.999">
<text class="b" transform="translate(8.6,32.3) scale(0.863,1)" font-size="39.5">A</text>
<text class="b" transform="translate(542.5,32.3) scale(0.771,1)" font-size="39.5">B</text>
<text class="b" transform="translate(1078.5,32.3) scale(0.824,1)" font-size="39.5">C</text>
<text class="b" transform="translate(1612.5,32.3) scale(0.877,1)" font-size="39.5">D</text>
<text class="b w" x="21.2" y="117.9" font-size="32" textLength="492.1" lengthAdjust="spacingAndGlyphs">Age-related macular degeneration</text>
<text class="b w" x="678.0" y="117.9" font-size="32" textLength="230.1" lengthAdjust="spacingAndGlyphs">Type 1 diabetes</text>
<text class="b w" x="1188.4" y="117.9" font-size="32" textLength="279.7" lengthAdjust="spacingAndGlyphs">Parkinson's disease</text>
<text class="b w" x="1795.6" y="117.9" font-size="32" textLength="120.9" lengthAdjust="spacingAndGlyphs">Epilepsy</text>
<text class="" x="56.4" y="292.5" font-size="32" textLength="142.2" lengthAdjust="spacingAndGlyphs" stroke="#231f20" stroke-width="0.45">RPE patch</text>
<text class="" x="41.5" y="610.0" font-size="32" textLength="87.9" lengthAdjust="spacingAndGlyphs" stroke="#231f20" stroke-width="0.45">Retina</text>
<text class="" x="127.7" y="1073.1" font-size="32" textLength="50.9" lengthAdjust="spacingAndGlyphs" stroke="#231f20" stroke-width="0.45">Eye</text>
<text class="" x="392.1" y="482.3" font-size="24" textLength="78.9" lengthAdjust="spacingAndGlyphs" stroke="#231f20" stroke-width="0.34">Bruch's</text>
<text class="" x="372.9" y="507.5" font-size="24" textLength="119.5" lengthAdjust="spacingAndGlyphs" stroke="#231f20" stroke-width="0.34">membrane</text>
<text class="" x="67.5" y="517.5" font-size="24" textLength="170.3" lengthAdjust="spacingAndGlyphs" stroke="#231f20" stroke-width="0.34">Photoreceptors</text>
<text class="" x="279.1" y="552.5" font-size="24" textLength="78.2" lengthAdjust="spacingAndGlyphs" stroke="#231f20" stroke-width="0.34">Retinal</text>
<text class="" x="265.7" y="577.0" font-size="24" textLength="90.6" lengthAdjust="spacingAndGlyphs" stroke="#231f20" stroke-width="0.34">pigment</text>
<text class="" x="236.4" y="602.0" font-size="24" textLength="121.9" lengthAdjust="spacingAndGlyphs" stroke="#231f20" stroke-width="0.34">epithelium</text>
<text class="" x="427.0" y="565.0" font-size="24" textLength="86.6" lengthAdjust="spacingAndGlyphs" stroke="#231f20" stroke-width="0.34">Choroid</text>
<text class="" x="365.9" y="1046.0" font-size="24" textLength="143.4" lengthAdjust="spacingAndGlyphs" stroke="#231f20" stroke-width="0.34">Implantation</text>
<text class="" x="419.9" y="1070.6" font-size="24" textLength="88.9" lengthAdjust="spacingAndGlyphs" stroke="#231f20" stroke-width="0.34">into the</text>
<text class="" x="326.4" y="1095.4" font-size="24" textLength="182.3" lengthAdjust="spacingAndGlyphs" stroke="#231f20" stroke-width="0.34">subretinal space</text>
<text class="" x="829.5" y="233.9" font-size="32" textLength="148.3" lengthAdjust="spacingAndGlyphs" stroke="#231f20" stroke-width="0.45">Pancreatic</text>
<text class="" x="859.0" y="270.6" font-size="32" textLength="92.2" lengthAdjust="spacingAndGlyphs" stroke="#231f20" stroke-width="0.45"><tspan font-family="Liberation Serif" font-size="31">β</tspan>-cells</text>
<text class="" x="592.1" y="561.6" font-size="32" textLength="84.1" lengthAdjust="spacingAndGlyphs" stroke="#231f20" stroke-width="0.45">Direct</text>
<text class="" x="833.5" y="545.2" font-size="32" textLength="186.9" lengthAdjust="spacingAndGlyphs" stroke="#231f20" stroke-width="0.45">Encapsulated</text>
<text class="" x="559.5" y="710.0" font-size="32" textLength="70.6" lengthAdjust="spacingAndGlyphs" stroke="#231f20" stroke-width="0.45">Liver</text>
<text class="" x="897.4" y="1062.8" font-size="32" textLength="58.6" lengthAdjust="spacingAndGlyphs" stroke="#231f20" stroke-width="0.45">Skin</text>
<text class="" x="554.1" y="906.5" font-size="24" textLength="68.6" lengthAdjust="spacingAndGlyphs" stroke="#231f20" stroke-width="0.34">Direct</text>
<text class="" x="554.3" y="931.3" font-size="24" textLength="90.4" lengthAdjust="spacingAndGlyphs" stroke="#231f20" stroke-width="0.34">infusion</text>
<text class="" x="554.3" y="955.7" font-size="24" textLength="89.9" lengthAdjust="spacingAndGlyphs" stroke="#231f20" stroke-width="0.34">into the</text>
<text class="" x="554.3" y="981.3" font-size="24" textLength="83.9" lengthAdjust="spacingAndGlyphs" stroke="#231f20" stroke-width="0.34">hepatic</text>
<text class="" x="554.3" y="1006.1" font-size="24" textLength="123.2" lengthAdjust="spacingAndGlyphs" stroke="#231f20" stroke-width="0.34">portal vein</text>
<text class="" x="660.0" y="1054.2" font-size="24" textLength="152.8" lengthAdjust="spacingAndGlyphs" stroke="#231f20" stroke-width="0.34">Subcutaneous</text>
<text class="" x="664.9" y="1079.0" font-size="24" textLength="143.3" lengthAdjust="spacingAndGlyphs" stroke="#231f20" stroke-width="0.34">implantation</text>
<text class="" x="1171.0" y="259.4" font-size="32" textLength="298.6" lengthAdjust="spacingAndGlyphs" stroke="#231f20" stroke-width="0.45">Dopaminergic neuron</text>
<text class="" x="1210.6" y="295.0" font-size="32" textLength="220.8" lengthAdjust="spacingAndGlyphs" stroke="#231f20" stroke-width="0.45">progenitor cells</text>
<text class="" x="1180.2" y="1008.4" font-size="32" textLength="310.4" lengthAdjust="spacingAndGlyphs" stroke="#231f20" stroke-width="0.45">Brain (transplantation</text>
<text class="" x="1207.0" y="1045.5" font-size="32" textLength="258.6" lengthAdjust="spacingAndGlyphs" stroke="#231f20" stroke-width="0.45">into the putamen)</text>
<text class="" x="1701.4" y="295.0" font-size="32" textLength="332.8" lengthAdjust="spacingAndGlyphs" stroke="#231f20" stroke-width="0.45">GABAergic interneurons</text>
<text class="" x="1714.4" y="1008.4" font-size="32" textLength="309.8" lengthAdjust="spacingAndGlyphs" stroke="#231f20" stroke-width="0.45">Brain (transplantation</text>
<text class="" x="1712.2" y="1045.5" font-size="32" textLength="314.9" lengthAdjust="spacingAndGlyphs" stroke="#231f20" stroke-width="0.45">into the hippocampus)</text>
</g>

</svg>
</body></html>
